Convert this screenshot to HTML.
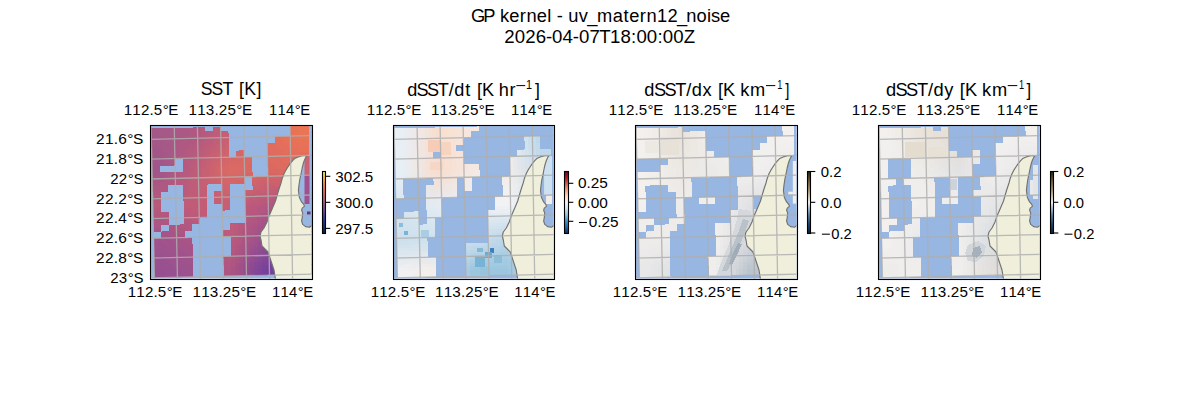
<!DOCTYPE html><html><head><meta charset="utf-8"><style>html,body{margin:0;padding:0;background:#fff;}svg{display:block;}text{font-family:"Liberation Sans",sans-serif;font-kerning:none;}</style></head><body>
<svg width="1200" height="400" viewBox="0 0 1200 400" shape-rendering="auto">
<rect width="1200" height="400" fill="#fff"/>
<text transform="scale(1.0369,1)" x="454.14 466.12 476.90 482.10 491.14 501.30 507.67 517.63 527.71 531.97 536.90 542.80 547.94 558.22 566.44 575.76 590.86 601.34 606.92 617.08 623.45 633.59 643.74 652.81 661.86 671.80 681.85 685.77 694.34" y="21.90" font-size="17.66" fill="#000">GP kernel - uv_matern12_noise</text>
<text transform="scale(1.0559,1)" x="477.63 487.54 497.45 507.36 517.09 522.89 532.80 542.53 548.33 558.24 567.46 577.66 587.57 597.60 602.73 612.63 622.67 627.79 637.70 647.51" y="42.90" font-size="17.66" fill="#000">2026-04-07T18:00:00Z</text>
<defs>
<clipPath id="clipm"><rect x="0.5" y="0.5" width="161.0" height="153.0"/></clipPath>
</defs>
<g transform="translate(150,125) scale(1.00000,1)"><g clip-path="url(#clipm)">
<rect x="0" y="0" width="162.0" height="154.0" fill="#97b6e1"/>
<g shape-rendering="crispEdges" transform="matrix(3.85000,-0.09067,0.07417,3.29833,0.8750,-5.4200)">
<rect x="0" y="2.7" width="2.08" height="0.38" fill="#a45888"/>
<rect x="2" y="2.7" width="2.08" height="0.38" fill="#a65886"/>
<rect x="4" y="2.7" width="2.08" height="0.38" fill="#a85886"/>
<rect x="6" y="2.7" width="2.08" height="0.38" fill="#aa5884"/>
<rect x="8" y="2.7" width="2.08" height="0.38" fill="#ac5884"/>
<rect x="10" y="2.7" width="1.08" height="0.38" fill="#ae5882"/>
<rect x="11" y="2.7" width="1.08" height="0.38" fill="#b05882"/>
<rect x="12" y="2.7" width="1.08" height="0.38" fill="#b25880"/>
<rect x="13" y="2.7" width="1.08" height="0.38" fill="#b45a7e"/>
<rect x="16" y="2.7" width="1.08" height="0.38" fill="#be5c7a"/>
<rect x="17" y="2.7" width="1.08" height="0.38" fill="#c05c78"/>
<rect x="36" y="2.7" width="2.08" height="0.38" fill="#e87256"/>
<rect x="38" y="2.7" width="4.08" height="0.38" fill="#ea7454"/>
<rect x="0" y="3" width="2.08" height="1.08" fill="#a45888"/>
<rect x="2" y="3" width="2.08" height="1.08" fill="#a65886"/>
<rect x="4" y="3" width="2.08" height="1.08" fill="#a85886"/>
<rect x="6" y="3" width="2.08" height="1.08" fill="#aa5884"/>
<rect x="8" y="3" width="2.08" height="1.08" fill="#ac5884"/>
<rect x="10" y="3" width="1.08" height="1.08" fill="#ae5882"/>
<rect x="11" y="3" width="1.08" height="1.08" fill="#b05882"/>
<rect x="12" y="3" width="1.08" height="1.08" fill="#b25880"/>
<rect x="13" y="3" width="1.08" height="1.08" fill="#b45a7e"/>
<rect x="16" y="3" width="1.08" height="1.08" fill="#be5c7a"/>
<rect x="17" y="3" width="1.08" height="1.08" fill="#c05c78"/>
<rect x="36" y="3" width="2.08" height="1.08" fill="#e87256"/>
<rect x="38" y="3" width="4.08" height="1.08" fill="#ea7454"/>
<rect x="0" y="4" width="2.08" height="1.08" fill="#a45888"/>
<rect x="2" y="4" width="2.08" height="1.08" fill="#a65886"/>
<rect x="4" y="4" width="2.08" height="1.08" fill="#a85886"/>
<rect x="6" y="4" width="2.08" height="1.08" fill="#aa5884"/>
<rect x="8" y="4" width="2.08" height="1.08" fill="#ac5884"/>
<rect x="10" y="4" width="1.08" height="1.08" fill="#ae5882"/>
<rect x="11" y="4" width="1.08" height="1.08" fill="#b05882"/>
<rect x="12" y="4" width="1.08" height="1.08" fill="#b25880"/>
<rect x="13" y="4" width="1.08" height="1.08" fill="#b45a7e"/>
<rect x="14" y="4" width="1.08" height="1.08" fill="#b85a7c"/>
<rect x="15" y="4" width="1.08" height="1.08" fill="#ba5c7c"/>
<rect x="16" y="4" width="1.08" height="1.08" fill="#be5c7a"/>
<rect x="17" y="4" width="1.08" height="1.08" fill="#c05c78"/>
<rect x="18" y="4" width="1.08" height="1.08" fill="#c25e76"/>
<rect x="19" y="4" width="1.08" height="1.08" fill="#c65e74"/>
<rect x="36" y="4" width="2.08" height="1.08" fill="#e87256"/>
<rect x="38" y="4" width="4.08" height="1.08" fill="#ea7454"/>
<rect x="0" y="5" width="3.08" height="1.08" fill="#a45888"/>
<rect x="3" y="5" width="1.08" height="1.08" fill="#a65886"/>
<rect x="4" y="5" width="2.08" height="1.08" fill="#a85886"/>
<rect x="6" y="5" width="1.08" height="1.08" fill="#aa5884"/>
<rect x="7" y="5" width="2.08" height="1.08" fill="#ac5884"/>
<rect x="9" y="5" width="2.08" height="1.08" fill="#ae5882"/>
<rect x="11" y="5" width="1.08" height="1.08" fill="#b05882"/>
<rect x="12" y="5" width="1.08" height="1.08" fill="#b25a80"/>
<rect x="13" y="5" width="1.08" height="1.08" fill="#b65a7e"/>
<rect x="14" y="5" width="1.08" height="1.08" fill="#b85a7c"/>
<rect x="15" y="5" width="1.08" height="1.08" fill="#bc5c7a"/>
<rect x="16" y="5" width="1.08" height="1.08" fill="#be5c7a"/>
<rect x="17" y="5" width="1.08" height="1.08" fill="#c05e78"/>
<rect x="18" y="5" width="1.08" height="1.08" fill="#c45e76"/>
<rect x="19" y="5" width="1.08" height="1.08" fill="#c65e74"/>
<rect x="36" y="5" width="1.08" height="1.08" fill="#e87256"/>
<rect x="37" y="5" width="1.08" height="1.08" fill="#e87456"/>
<rect x="38" y="5" width="4.08" height="1.08" fill="#ea7454"/>
<rect x="0" y="6" width="3.08" height="1.08" fill="#a45888"/>
<rect x="3" y="6" width="1.08" height="1.08" fill="#a65886"/>
<rect x="4" y="6" width="2.08" height="1.08" fill="#a85886"/>
<rect x="6" y="6" width="1.08" height="1.08" fill="#aa5884"/>
<rect x="7" y="6" width="1.08" height="1.08" fill="#ac5884"/>
<rect x="8" y="6" width="2.08" height="1.08" fill="#ae5882"/>
<rect x="10" y="6" width="1.08" height="1.08" fill="#b05882"/>
<rect x="11" y="6" width="1.08" height="1.08" fill="#b25880"/>
<rect x="12" y="6" width="1.08" height="1.08" fill="#b45a7e"/>
<rect x="13" y="6" width="1.08" height="1.08" fill="#b85a7e"/>
<rect x="14" y="6" width="1.08" height="1.08" fill="#ba5c7c"/>
<rect x="15" y="6" width="1.08" height="1.08" fill="#bc5c7a"/>
<rect x="16" y="6" width="1.08" height="1.08" fill="#c05e78"/>
<rect x="17" y="6" width="1.08" height="1.08" fill="#c25e76"/>
<rect x="18" y="6" width="1.08" height="1.08" fill="#c65e74"/>
<rect x="19" y="6" width="1.08" height="1.08" fill="#c86072"/>
<rect x="32" y="6" width="1.08" height="1.08" fill="#e46e5c"/>
<rect x="33" y="6" width="1.08" height="1.08" fill="#e46e5a"/>
<rect x="34" y="6" width="1.08" height="1.08" fill="#e6705a"/>
<rect x="35" y="6" width="1.08" height="1.08" fill="#e67058"/>
<rect x="36" y="6" width="1.08" height="1.08" fill="#e87258"/>
<rect x="37" y="6" width="1.08" height="1.08" fill="#e87256"/>
<rect x="38" y="6" width="4.08" height="1.08" fill="#ea7454"/>
<rect x="0" y="7" width="3.08" height="1.08" fill="#a45888"/>
<rect x="3" y="7" width="1.08" height="1.08" fill="#a65886"/>
<rect x="4" y="7" width="1.08" height="1.08" fill="#a85886"/>
<rect x="5" y="7" width="2.08" height="1.08" fill="#aa5884"/>
<rect x="7" y="7" width="1.08" height="1.08" fill="#ac5884"/>
<rect x="8" y="7" width="1.08" height="1.08" fill="#ae5882"/>
<rect x="9" y="7" width="1.08" height="1.08" fill="#b05882"/>
<rect x="10" y="7" width="1.08" height="1.08" fill="#b25880"/>
<rect x="11" y="7" width="1.08" height="1.08" fill="#b45a80"/>
<rect x="12" y="7" width="1.08" height="1.08" fill="#b65a7e"/>
<rect x="13" y="7" width="1.08" height="1.08" fill="#b85a7c"/>
<rect x="14" y="7" width="1.08" height="1.08" fill="#bc5c7a"/>
<rect x="15" y="7" width="1.08" height="1.08" fill="#be5c78"/>
<rect x="16" y="7" width="1.08" height="1.08" fill="#c25e76"/>
<rect x="17" y="7" width="1.08" height="1.08" fill="#c45e74"/>
<rect x="18" y="7" width="1.08" height="1.08" fill="#c66072"/>
<rect x="19" y="7" width="1.08" height="1.08" fill="#ca6072"/>
<rect x="32" y="7" width="1.08" height="1.08" fill="#e26e5c"/>
<rect x="33" y="7" width="1.08" height="1.08" fill="#e46e5c"/>
<rect x="34" y="7" width="1.08" height="1.08" fill="#e4705a"/>
<rect x="35" y="7" width="1.08" height="1.08" fill="#e6705a"/>
<rect x="36" y="7" width="1.08" height="1.08" fill="#e67058"/>
<rect x="37" y="7" width="5.08" height="1.08" fill="#e87256"/>
<rect x="0" y="8" width="2.08" height="1.08" fill="#a45688"/>
<rect x="2" y="8" width="1.08" height="1.08" fill="#a45888"/>
<rect x="3" y="8" width="1.08" height="1.08" fill="#a65886"/>
<rect x="4" y="8" width="1.08" height="1.08" fill="#a85886"/>
<rect x="5" y="8" width="1.08" height="1.08" fill="#aa5884"/>
<rect x="6" y="8" width="1.08" height="1.08" fill="#ac5884"/>
<rect x="7" y="8" width="2.08" height="1.08" fill="#ae5882"/>
<rect x="9" y="8" width="1.08" height="1.08" fill="#b05882"/>
<rect x="10" y="8" width="1.08" height="1.08" fill="#b25a80"/>
<rect x="11" y="8" width="1.08" height="1.08" fill="#b45a7e"/>
<rect x="12" y="8" width="1.08" height="1.08" fill="#b85a7e"/>
<rect x="13" y="8" width="1.08" height="1.08" fill="#ba5c7c"/>
<rect x="14" y="8" width="1.08" height="1.08" fill="#be5c7a"/>
<rect x="15" y="8" width="1.08" height="1.08" fill="#c05e78"/>
<rect x="16" y="8" width="1.08" height="1.08" fill="#c25e76"/>
<rect x="17" y="8" width="1.08" height="1.08" fill="#c66074"/>
<rect x="18" y="8" width="1.08" height="1.08" fill="#c86072"/>
<rect x="19" y="8" width="1.08" height="1.08" fill="#cc6270"/>
<rect x="30" y="8" width="2.08" height="1.08" fill="#e06c5e"/>
<rect x="32" y="8" width="2.08" height="1.08" fill="#e26e5c"/>
<rect x="34" y="8" width="1.08" height="1.08" fill="#e46e5a"/>
<rect x="35" y="8" width="1.08" height="1.08" fill="#e4705a"/>
<rect x="36" y="8" width="2.08" height="1.08" fill="#e67058"/>
<rect x="38" y="8" width="4.08" height="1.08" fill="#e87256"/>
<rect x="0" y="9" width="2.08" height="1.08" fill="#a25688"/>
<rect x="2" y="9" width="1.08" height="1.08" fill="#a45688"/>
<rect x="3" y="9" width="1.08" height="1.08" fill="#a65886"/>
<rect x="4" y="9" width="1.08" height="1.08" fill="#a85886"/>
<rect x="5" y="9" width="1.08" height="1.08" fill="#aa5884"/>
<rect x="6" y="9" width="1.08" height="1.08" fill="#ac5884"/>
<rect x="7" y="9" width="1.08" height="1.08" fill="#ae5882"/>
<rect x="8" y="9" width="1.08" height="1.08" fill="#b05882"/>
<rect x="9" y="9" width="1.08" height="1.08" fill="#b25a80"/>
<rect x="10" y="9" width="1.08" height="1.08" fill="#b45a80"/>
<rect x="11" y="9" width="1.08" height="1.08" fill="#b65a7e"/>
<rect x="12" y="9" width="1.08" height="1.08" fill="#b85c7c"/>
<rect x="13" y="9" width="1.08" height="1.08" fill="#bc5c7a"/>
<rect x="14" y="9" width="1.08" height="1.08" fill="#be5e78"/>
<rect x="15" y="9" width="1.08" height="1.08" fill="#c25e76"/>
<rect x="16" y="9" width="1.08" height="1.08" fill="#c46074"/>
<rect x="17" y="9" width="1.08" height="1.08" fill="#c86072"/>
<rect x="18" y="9" width="1.08" height="1.08" fill="#ca6270"/>
<rect x="19" y="9" width="1.08" height="1.08" fill="#ce626e"/>
<rect x="30" y="9" width="1.08" height="1.08" fill="#e06c60"/>
<rect x="31" y="9" width="1.08" height="1.08" fill="#e06c5e"/>
<rect x="32" y="9" width="1.08" height="1.08" fill="#e26c5e"/>
<rect x="33" y="9" width="2.08" height="1.08" fill="#e26e5c"/>
<rect x="35" y="9" width="1.08" height="1.08" fill="#e46e5a"/>
<rect x="36" y="9" width="1.08" height="1.08" fill="#e4705a"/>
<rect x="37" y="9" width="5.08" height="1.08" fill="#e67058"/>
<rect x="0" y="10" width="2.08" height="1.08" fill="#a25688"/>
<rect x="2" y="10" width="1.08" height="1.08" fill="#a45688"/>
<rect x="3" y="10" width="1.08" height="1.08" fill="#a65688"/>
<rect x="4" y="10" width="1.08" height="1.08" fill="#a85886"/>
<rect x="5" y="10" width="1.08" height="1.08" fill="#aa5884"/>
<rect x="6" y="10" width="1.08" height="1.08" fill="#ac5884"/>
<rect x="7" y="10" width="1.08" height="1.08" fill="#ae5882"/>
<rect x="8" y="10" width="1.08" height="1.08" fill="#b05882"/>
<rect x="9" y="10" width="1.08" height="1.08" fill="#b25a80"/>
<rect x="10" y="10" width="1.08" height="1.08" fill="#b65a7e"/>
<rect x="11" y="10" width="1.08" height="1.08" fill="#b85a7e"/>
<rect x="12" y="10" width="1.08" height="1.08" fill="#ba5c7c"/>
<rect x="13" y="10" width="1.08" height="1.08" fill="#be5c7a"/>
<rect x="14" y="10" width="1.08" height="1.08" fill="#c05e76"/>
<rect x="15" y="10" width="1.08" height="1.08" fill="#c45e74"/>
<rect x="16" y="10" width="1.08" height="1.08" fill="#c66072"/>
<rect x="17" y="10" width="1.08" height="1.08" fill="#ca6270"/>
<rect x="18" y="10" width="1.08" height="1.08" fill="#cc626e"/>
<rect x="19" y="10" width="1.08" height="1.08" fill="#d0646c"/>
<rect x="22" y="10" width="1.08" height="1.08" fill="#d46668"/>
<rect x="23" y="10" width="1.08" height="1.08" fill="#d66668"/>
<rect x="30" y="10" width="1.08" height="1.08" fill="#de6a60"/>
<rect x="31" y="10" width="2.08" height="1.08" fill="#e06c5e"/>
<rect x="33" y="10" width="1.08" height="1.08" fill="#e26c5c"/>
<rect x="34" y="10" width="2.08" height="1.08" fill="#e26e5c"/>
<rect x="36" y="10" width="2.08" height="1.08" fill="#e46e5a"/>
<rect x="38" y="10" width="4.08" height="1.08" fill="#e67058"/>
<rect x="0" y="11" width="3.08" height="1.08" fill="#a25688"/>
<rect x="3" y="11" width="1.08" height="1.08" fill="#a65688"/>
<rect x="4" y="11" width="1.08" height="1.08" fill="#a85886"/>
<rect x="5" y="11" width="1.08" height="1.08" fill="#aa5884"/>
<rect x="6" y="11" width="1.08" height="1.08" fill="#ac5884"/>
<rect x="7" y="11" width="1.08" height="1.08" fill="#b05882"/>
<rect x="8" y="11" width="1.08" height="1.08" fill="#b25a80"/>
<rect x="9" y="11" width="1.08" height="1.08" fill="#b45a80"/>
<rect x="10" y="11" width="1.08" height="1.08" fill="#b65a7e"/>
<rect x="11" y="11" width="1.08" height="1.08" fill="#ba5a7c"/>
<rect x="12" y="11" width="1.08" height="1.08" fill="#bc5c7a"/>
<rect x="13" y="11" width="1.08" height="1.08" fill="#c05e78"/>
<rect x="14" y="11" width="1.08" height="1.08" fill="#c25e76"/>
<rect x="15" y="11" width="1.08" height="1.08" fill="#c66074"/>
<rect x="16" y="11" width="1.08" height="1.08" fill="#c86072"/>
<rect x="17" y="11" width="1.08" height="1.08" fill="#cc6270"/>
<rect x="18" y="11" width="1.08" height="1.08" fill="#ce646c"/>
<rect x="19" y="11" width="1.08" height="1.08" fill="#d2646a"/>
<rect x="22" y="11" width="1.08" height="1.08" fill="#d66668"/>
<rect x="23" y="11" width="1.08" height="1.08" fill="#d66666"/>
<rect x="30" y="11" width="2.08" height="1.08" fill="#de6a60"/>
<rect x="32" y="11" width="2.08" height="1.08" fill="#e06c5e"/>
<rect x="34" y="11" width="2.08" height="1.08" fill="#e26c5c"/>
<rect x="36" y="11" width="1.08" height="1.08" fill="#e26e5c"/>
<rect x="37" y="11" width="5.08" height="1.08" fill="#e46e5a"/>
<rect x="0" y="12" width="2.08" height="1.08" fill="#a2568a"/>
<rect x="2" y="12" width="1.08" height="1.08" fill="#a25688"/>
<rect x="3" y="12" width="1.08" height="1.08" fill="#a65688"/>
<rect x="4" y="12" width="1.08" height="1.08" fill="#a85886"/>
<rect x="5" y="12" width="1.08" height="1.08" fill="#aa5884"/>
<rect x="8" y="12" width="1.08" height="1.08" fill="#b25a80"/>
<rect x="9" y="12" width="1.08" height="1.08" fill="#b65a7e"/>
<rect x="10" y="12" width="1.08" height="1.08" fill="#b85a7e"/>
<rect x="11" y="12" width="1.08" height="1.08" fill="#ba5c7c"/>
<rect x="12" y="12" width="1.08" height="1.08" fill="#be5c7a"/>
<rect x="13" y="12" width="1.08" height="1.08" fill="#c05e78"/>
<rect x="14" y="12" width="1.08" height="1.08" fill="#c46074"/>
<rect x="15" y="12" width="1.08" height="1.08" fill="#c66072"/>
<rect x="16" y="12" width="1.08" height="1.08" fill="#ca6270"/>
<rect x="17" y="12" width="1.08" height="1.08" fill="#ce626e"/>
<rect x="18" y="12" width="1.08" height="1.08" fill="#d0646c"/>
<rect x="19" y="12" width="1.08" height="1.08" fill="#d4666a"/>
<rect x="20" y="12" width="1.08" height="1.08" fill="#d66668"/>
<rect x="21" y="12" width="1.08" height="1.08" fill="#d66666"/>
<rect x="22" y="12" width="2.08" height="1.08" fill="#d86866"/>
<rect x="24" y="12" width="1.08" height="1.08" fill="#d86864"/>
<rect x="25" y="12" width="1.08" height="1.08" fill="#da6864"/>
<rect x="30" y="12" width="2.08" height="1.08" fill="#de6a60"/>
<rect x="32" y="12" width="1.08" height="1.08" fill="#de6a5e"/>
<rect x="33" y="12" width="2.08" height="1.08" fill="#e06c5e"/>
<rect x="35" y="12" width="2.08" height="1.08" fill="#e26c5c"/>
<rect x="37" y="12" width="1.08" height="1.08" fill="#e26e5c"/>
<rect x="38" y="12" width="4.08" height="1.08" fill="#e46e5a"/>
<rect x="0" y="13" width="2.08" height="1.08" fill="#a0568a"/>
<rect x="2" y="13" width="1.08" height="1.08" fill="#a25688"/>
<rect x="3" y="13" width="1.08" height="1.08" fill="#a45688"/>
<rect x="4" y="13" width="1.08" height="1.08" fill="#a85886"/>
<rect x="5" y="13" width="1.08" height="1.08" fill="#aa5884"/>
<rect x="8" y="13" width="1.08" height="1.08" fill="#b45a80"/>
<rect x="9" y="13" width="1.08" height="1.08" fill="#b65a7e"/>
<rect x="10" y="13" width="1.08" height="1.08" fill="#ba5a7c"/>
<rect x="11" y="13" width="1.08" height="1.08" fill="#bc5c7a"/>
<rect x="12" y="13" width="1.08" height="1.08" fill="#c05c78"/>
<rect x="13" y="13" width="1.08" height="1.08" fill="#c25e76"/>
<rect x="14" y="13" width="1.08" height="1.08" fill="#c66074"/>
<rect x="15" y="13" width="1.08" height="1.08" fill="#c86272"/>
<rect x="16" y="13" width="1.08" height="1.08" fill="#cc626e"/>
<rect x="17" y="13" width="1.08" height="1.08" fill="#ce646c"/>
<rect x="18" y="13" width="1.08" height="1.08" fill="#d2666a"/>
<rect x="19" y="13" width="1.08" height="1.08" fill="#d66668"/>
<rect x="20" y="13" width="2.08" height="1.08" fill="#d86866"/>
<rect x="22" y="13" width="2.08" height="1.08" fill="#d86864"/>
<rect x="24" y="13" width="2.08" height="1.08" fill="#da6864"/>
<rect x="30" y="13" width="1.08" height="1.08" fill="#dc6a60"/>
<rect x="31" y="13" width="2.08" height="1.08" fill="#de6a60"/>
<rect x="33" y="13" width="1.08" height="1.08" fill="#de6a5e"/>
<rect x="34" y="13" width="2.08" height="1.08" fill="#e06c5e"/>
<rect x="36" y="13" width="6.08" height="1.08" fill="#e26c5c"/>
<rect x="0" y="14" width="2.08" height="1.08" fill="#a0568a"/>
<rect x="8" y="14" width="1.08" height="1.08" fill="#b45a80"/>
<rect x="9" y="14" width="1.08" height="1.08" fill="#b85a7e"/>
<rect x="10" y="14" width="1.08" height="1.08" fill="#ba5c7c"/>
<rect x="11" y="14" width="1.08" height="1.08" fill="#be5c7a"/>
<rect x="12" y="14" width="1.08" height="1.08" fill="#c05e78"/>
<rect x="13" y="14" width="1.08" height="1.08" fill="#c45e76"/>
<rect x="14" y="14" width="1.08" height="1.08" fill="#c86072"/>
<rect x="15" y="14" width="1.08" height="1.08" fill="#ca6270"/>
<rect x="16" y="14" width="1.08" height="1.08" fill="#ce646e"/>
<rect x="17" y="14" width="1.08" height="1.08" fill="#d0646c"/>
<rect x="18" y="14" width="1.08" height="1.08" fill="#d46668"/>
<rect x="19" y="14" width="1.08" height="1.08" fill="#d86866"/>
<rect x="20" y="14" width="5.08" height="1.08" fill="#da6864"/>
<rect x="25" y="14" width="1.08" height="1.08" fill="#da6862"/>
<rect x="30" y="14" width="1.08" height="1.08" fill="#dc6860"/>
<rect x="31" y="14" width="1.08" height="1.08" fill="#dc6a60"/>
<rect x="32" y="14" width="2.08" height="1.08" fill="#de6a60"/>
<rect x="34" y="14" width="1.08" height="1.08" fill="#de6a5e"/>
<rect x="35" y="14" width="1.08" height="1.08" fill="#e06a5e"/>
<rect x="36" y="14" width="1.08" height="1.08" fill="#e06c5e"/>
<rect x="37" y="14" width="5.08" height="1.08" fill="#e26c5c"/>
<rect x="0" y="15" width="2.08" height="1.08" fill="#a0568a"/>
<rect x="8" y="15" width="1.08" height="1.08" fill="#b65a7e"/>
<rect x="9" y="15" width="1.08" height="1.08" fill="#b85a7c"/>
<rect x="10" y="15" width="1.08" height="1.08" fill="#bc5c7c"/>
<rect x="11" y="15" width="1.08" height="1.08" fill="#be5c7a"/>
<rect x="12" y="15" width="1.08" height="1.08" fill="#c25e76"/>
<rect x="13" y="15" width="1.08" height="1.08" fill="#c66074"/>
<rect x="14" y="15" width="1.08" height="1.08" fill="#c86272"/>
<rect x="15" y="15" width="1.08" height="1.08" fill="#cc626e"/>
<rect x="16" y="15" width="1.08" height="1.08" fill="#d0646c"/>
<rect x="17" y="15" width="1.08" height="1.08" fill="#d2666a"/>
<rect x="18" y="15" width="1.08" height="1.08" fill="#d66868"/>
<rect x="19" y="15" width="1.08" height="1.08" fill="#d86864"/>
<rect x="20" y="15" width="2.08" height="1.08" fill="#dc6a62"/>
<rect x="22" y="15" width="2.08" height="1.08" fill="#da6a62"/>
<rect x="24" y="15" width="2.08" height="1.08" fill="#da6862"/>
<rect x="30" y="15" width="1.08" height="1.08" fill="#dc6862"/>
<rect x="31" y="15" width="1.08" height="1.08" fill="#dc6860"/>
<rect x="32" y="15" width="1.08" height="1.08" fill="#dc6a60"/>
<rect x="33" y="15" width="2.08" height="1.08" fill="#de6a60"/>
<rect x="35" y="15" width="1.08" height="1.08" fill="#de6a5e"/>
<rect x="36" y="15" width="6.08" height="1.08" fill="#e06a5e"/>
<rect x="0" y="16" width="2.08" height="1.08" fill="#a25688"/>
<rect x="2" y="16" width="1.08" height="1.08" fill="#a45688"/>
<rect x="3" y="16" width="1.08" height="1.08" fill="#a85686"/>
<rect x="4" y="16" width="1.08" height="1.08" fill="#aa5884"/>
<rect x="5" y="16" width="1.08" height="1.08" fill="#ae5882"/>
<rect x="6" y="16" width="1.08" height="1.08" fill="#b05882"/>
<rect x="7" y="16" width="1.08" height="1.08" fill="#b45a80"/>
<rect x="8" y="16" width="1.08" height="1.08" fill="#b65a7e"/>
<rect x="9" y="16" width="1.08" height="1.08" fill="#ba5a7c"/>
<rect x="10" y="16" width="1.08" height="1.08" fill="#bc5c7a"/>
<rect x="11" y="16" width="1.08" height="1.08" fill="#c05c78"/>
<rect x="12" y="16" width="1.08" height="1.08" fill="#c25e76"/>
<rect x="13" y="16" width="1.08" height="1.08" fill="#c66074"/>
<rect x="14" y="16" width="1.08" height="1.08" fill="#c86072"/>
<rect x="15" y="16" width="1.08" height="1.08" fill="#cc626e"/>
<rect x="16" y="16" width="1.08" height="1.08" fill="#ce646c"/>
<rect x="17" y="16" width="1.08" height="1.08" fill="#d2666a"/>
<rect x="18" y="16" width="1.08" height="1.08" fill="#d66668"/>
<rect x="19" y="16" width="1.08" height="1.08" fill="#d86864"/>
<rect x="20" y="16" width="1.08" height="1.08" fill="#da6a64"/>
<rect x="21" y="16" width="5.08" height="1.08" fill="#da6864"/>
<rect x="30" y="16" width="3.08" height="1.08" fill="#da6862"/>
<rect x="33" y="16" width="1.08" height="1.08" fill="#dc6862"/>
<rect x="34" y="16" width="2.08" height="1.08" fill="#dc6860"/>
<rect x="36" y="16" width="2.08" height="1.08" fill="#de6a60"/>
<rect x="38" y="16" width="4.08" height="1.08" fill="#e06a5e"/>
<rect x="0" y="17" width="3.08" height="1.08" fill="#a65686"/>
<rect x="3" y="17" width="1.08" height="1.08" fill="#aa5684"/>
<rect x="4" y="17" width="1.08" height="1.08" fill="#ac5884"/>
<rect x="5" y="17" width="1.08" height="1.08" fill="#ae5882"/>
<rect x="6" y="17" width="1.08" height="1.08" fill="#b25880"/>
<rect x="7" y="17" width="1.08" height="1.08" fill="#b45a7e"/>
<rect x="8" y="17" width="1.08" height="1.08" fill="#b85a7e"/>
<rect x="9" y="17" width="1.08" height="1.08" fill="#ba5a7c"/>
<rect x="10" y="17" width="1.08" height="1.08" fill="#be5c7a"/>
<rect x="11" y="17" width="1.08" height="1.08" fill="#c05c78"/>
<rect x="12" y="17" width="1.08" height="1.08" fill="#c25e76"/>
<rect x="13" y="17" width="1.08" height="1.08" fill="#c66074"/>
<rect x="14" y="17" width="1.08" height="1.08" fill="#c86072"/>
<rect x="15" y="17" width="1.08" height="1.08" fill="#cc6270"/>
<rect x="16" y="17" width="1.08" height="1.08" fill="#ce646e"/>
<rect x="17" y="17" width="1.08" height="1.08" fill="#d0646c"/>
<rect x="18" y="17" width="1.08" height="1.08" fill="#d46668"/>
<rect x="19" y="17" width="1.08" height="1.08" fill="#d66866"/>
<rect x="20" y="17" width="1.08" height="1.08" fill="#d86864"/>
<rect x="21" y="17" width="3.08" height="1.08" fill="#d86866"/>
<rect x="24" y="17" width="2.08" height="1.08" fill="#d66666"/>
<rect x="30" y="17" width="3.08" height="1.08" fill="#d66666"/>
<rect x="33" y="17" width="4.08" height="1.08" fill="#d86664"/>
<rect x="37" y="17" width="1.08" height="1.08" fill="#da6664"/>
<rect x="38" y="17" width="1.08" height="1.08" fill="#da6864"/>
<rect x="39" y="17" width="3.08" height="1.08" fill="#da6862"/>
<rect x="0" y="18" width="2.08" height="1.08" fill="#a85686"/>
<rect x="2" y="18" width="1.08" height="1.08" fill="#a85684"/>
<rect x="3" y="18" width="1.08" height="1.08" fill="#ac5884"/>
<rect x="4" y="18" width="1.08" height="1.08" fill="#ae5882"/>
<rect x="5" y="18" width="1.08" height="1.08" fill="#b05880"/>
<rect x="6" y="18" width="1.08" height="1.08" fill="#b45a80"/>
<rect x="7" y="18" width="1.08" height="1.08" fill="#b65a7e"/>
<rect x="8" y="18" width="1.08" height="1.08" fill="#b85a7c"/>
<rect x="9" y="18" width="1.08" height="1.08" fill="#bc5c7c"/>
<rect x="10" y="18" width="1.08" height="1.08" fill="#be5c7a"/>
<rect x="11" y="18" width="1.08" height="1.08" fill="#c05c78"/>
<rect x="12" y="18" width="1.08" height="1.08" fill="#c25e76"/>
<rect x="13" y="18" width="1.08" height="1.08" fill="#c65e74"/>
<rect x="14" y="18" width="1.08" height="1.08" fill="#c86072"/>
<rect x="15" y="18" width="1.08" height="1.08" fill="#ca6270"/>
<rect x="16" y="18" width="1.08" height="1.08" fill="#cc626e"/>
<rect x="17" y="18" width="1.08" height="1.08" fill="#d0646c"/>
<rect x="18" y="18" width="1.08" height="1.08" fill="#d2646a"/>
<rect x="19" y="18" width="1.08" height="1.08" fill="#d46668"/>
<rect x="20" y="18" width="2.08" height="1.08" fill="#d66666"/>
<rect x="22" y="18" width="1.08" height="1.08" fill="#d66668"/>
<rect x="23" y="18" width="1.08" height="1.08" fill="#d46668"/>
<rect x="26" y="18" width="1.08" height="1.08" fill="#d46468"/>
<rect x="27" y="18" width="8.08" height="1.08" fill="#d26468"/>
<rect x="35" y="18" width="6.08" height="1.08" fill="#d46468"/>
<rect x="41" y="18" width="1.08" height="1.08" fill="#d46466"/>
<rect x="0" y="19" width="2.08" height="1.08" fill="#aa5684"/>
<rect x="2" y="19" width="1.08" height="1.08" fill="#aa5884"/>
<rect x="3" y="19" width="1.08" height="1.08" fill="#ae5882"/>
<rect x="4" y="19" width="1.08" height="1.08" fill="#b05880"/>
<rect x="5" y="19" width="1.08" height="1.08" fill="#b25880"/>
<rect x="6" y="19" width="1.08" height="1.08" fill="#b45a7e"/>
<rect x="7" y="19" width="1.08" height="1.08" fill="#b85a7e"/>
<rect x="8" y="19" width="1.08" height="1.08" fill="#ba5a7c"/>
<rect x="9" y="19" width="1.08" height="1.08" fill="#bc5c7a"/>
<rect x="10" y="19" width="1.08" height="1.08" fill="#be5c7a"/>
<rect x="11" y="19" width="1.08" height="1.08" fill="#c05c78"/>
<rect x="12" y="19" width="1.08" height="1.08" fill="#c25e76"/>
<rect x="13" y="19" width="1.08" height="1.08" fill="#c65e74"/>
<rect x="14" y="19" width="1.08" height="1.08" fill="#c86072"/>
<rect x="15" y="19" width="1.08" height="1.08" fill="#ca6070"/>
<rect x="16" y="19" width="1.08" height="1.08" fill="#cc626e"/>
<rect x="17" y="19" width="1.08" height="1.08" fill="#ce626e"/>
<rect x="18" y="19" width="1.08" height="1.08" fill="#d0646c"/>
<rect x="19" y="19" width="1.08" height="1.08" fill="#d2666a"/>
<rect x="20" y="19" width="2.08" height="1.08" fill="#d46668"/>
<rect x="22" y="19" width="2.08" height="1.08" fill="#d2646a"/>
<rect x="26" y="19" width="1.08" height="1.08" fill="#d0646a"/>
<rect x="27" y="19" width="1.08" height="1.08" fill="#d0626c"/>
<rect x="28" y="19" width="14.08" height="1.08" fill="#ce626c"/>
<rect x="0" y="20" width="2.08" height="1.08" fill="#ac5882"/>
<rect x="2" y="20" width="1.08" height="1.08" fill="#ae5882"/>
<rect x="3" y="20" width="1.08" height="1.08" fill="#b05880"/>
<rect x="8" y="20" width="1.08" height="1.08" fill="#ba5a7c"/>
<rect x="9" y="20" width="1.08" height="1.08" fill="#bc5c7a"/>
<rect x="10" y="20" width="1.08" height="1.08" fill="#c05c78"/>
<rect x="11" y="20" width="1.08" height="1.08" fill="#c25c78"/>
<rect x="12" y="20" width="1.08" height="1.08" fill="#c45e76"/>
<rect x="13" y="20" width="1.08" height="1.08" fill="#c65e74"/>
<rect x="18" y="20" width="1.08" height="1.08" fill="#ce646c"/>
<rect x="19" y="20" width="1.08" height="1.08" fill="#d0646a"/>
<rect x="26" y="20" width="1.08" height="1.08" fill="#ce626e"/>
<rect x="27" y="20" width="1.08" height="1.08" fill="#cc626e"/>
<rect x="28" y="20" width="1.08" height="1.08" fill="#cc606e"/>
<rect x="29" y="20" width="3.08" height="1.08" fill="#ca606e"/>
<rect x="32" y="20" width="6.08" height="1.08" fill="#ca6070"/>
<rect x="38" y="20" width="1.08" height="1.08" fill="#c86070"/>
<rect x="39" y="20" width="3.08" height="1.08" fill="#ca6070"/>
<rect x="0" y="21" width="2.08" height="1.08" fill="#ae5880"/>
<rect x="2" y="21" width="1.08" height="1.08" fill="#b05880"/>
<rect x="3" y="21" width="1.08" height="1.08" fill="#b25880"/>
<rect x="8" y="21" width="1.08" height="1.08" fill="#bc5a7a"/>
<rect x="9" y="21" width="1.08" height="1.08" fill="#be5c7a"/>
<rect x="10" y="21" width="1.08" height="1.08" fill="#c05c78"/>
<rect x="11" y="21" width="1.08" height="1.08" fill="#c25c78"/>
<rect x="12" y="21" width="1.08" height="1.08" fill="#c45e76"/>
<rect x="13" y="21" width="1.08" height="1.08" fill="#c45e74"/>
<rect x="18" y="21" width="1.08" height="1.08" fill="#ce626e"/>
<rect x="19" y="21" width="1.08" height="1.08" fill="#d0646c"/>
<rect x="26" y="21" width="2.08" height="1.08" fill="#ca6070"/>
<rect x="28" y="21" width="1.08" height="1.08" fill="#c86070"/>
<rect x="29" y="21" width="1.08" height="1.08" fill="#c85e72"/>
<rect x="30" y="21" width="4.08" height="1.08" fill="#c65e72"/>
<rect x="34" y="21" width="8.08" height="1.08" fill="#c45e74"/>
<rect x="0" y="22" width="2.08" height="1.08" fill="#b05880"/>
<rect x="8" y="22" width="1.08" height="1.08" fill="#bc5a7a"/>
<rect x="9" y="22" width="1.08" height="1.08" fill="#be5c78"/>
<rect x="10" y="22" width="1.08" height="1.08" fill="#c05c78"/>
<rect x="11" y="22" width="1.08" height="1.08" fill="#c25c76"/>
<rect x="12" y="22" width="1.08" height="1.08" fill="#c45e76"/>
<rect x="13" y="22" width="1.08" height="1.08" fill="#c45e74"/>
<rect x="16" y="22" width="1.08" height="1.08" fill="#c86072"/>
<rect x="17" y="22" width="1.08" height="1.08" fill="#ca6070"/>
<rect x="18" y="22" width="1.08" height="1.08" fill="#cc6270"/>
<rect x="19" y="22" width="1.08" height="1.08" fill="#ce626e"/>
<rect x="24" y="22" width="1.08" height="1.08" fill="#ca6070"/>
<rect x="25" y="22" width="1.08" height="1.08" fill="#c86072"/>
<rect x="26" y="22" width="1.08" height="1.08" fill="#c85e72"/>
<rect x="27" y="22" width="1.08" height="1.08" fill="#c65e72"/>
<rect x="28" y="22" width="1.08" height="1.08" fill="#c65e74"/>
<rect x="29" y="22" width="1.08" height="1.08" fill="#c45e74"/>
<rect x="30" y="22" width="1.08" height="1.08" fill="#c45c74"/>
<rect x="31" y="22" width="3.08" height="1.08" fill="#c25c76"/>
<rect x="34" y="22" width="1.08" height="1.08" fill="#c05c76"/>
<rect x="35" y="22" width="1.08" height="1.08" fill="#c05c78"/>
<rect x="36" y="22" width="2.08" height="1.08" fill="#be5c78"/>
<rect x="38" y="22" width="2.08" height="1.08" fill="#be5a78"/>
<rect x="40" y="22" width="2.08" height="1.08" fill="#be5c78"/>
<rect x="0" y="23" width="2.08" height="1.08" fill="#b4587e"/>
<rect x="8" y="23" width="1.08" height="1.08" fill="#be5c78"/>
<rect x="9" y="23" width="2.08" height="1.08" fill="#c05c78"/>
<rect x="11" y="23" width="1.08" height="1.08" fill="#c25c76"/>
<rect x="12" y="23" width="1.08" height="1.08" fill="#c45c76"/>
<rect x="13" y="23" width="1.08" height="1.08" fill="#c45e74"/>
<rect x="16" y="23" width="1.08" height="1.08" fill="#c86072"/>
<rect x="17" y="23" width="1.08" height="1.08" fill="#ca6072"/>
<rect x="18" y="23" width="1.08" height="1.08" fill="#ca6070"/>
<rect x="19" y="23" width="1.08" height="1.08" fill="#cc6070"/>
<rect x="24" y="23" width="1.08" height="1.08" fill="#c65e72"/>
<rect x="25" y="23" width="1.08" height="1.08" fill="#c65e74"/>
<rect x="26" y="23" width="1.08" height="1.08" fill="#c45e74"/>
<rect x="27" y="23" width="2.08" height="1.08" fill="#c25c76"/>
<rect x="29" y="23" width="1.08" height="1.08" fill="#c05c78"/>
<rect x="30" y="23" width="1.08" height="1.08" fill="#c05a78"/>
<rect x="31" y="23" width="1.08" height="1.08" fill="#be5a78"/>
<rect x="32" y="23" width="1.08" height="1.08" fill="#be5a7a"/>
<rect x="33" y="23" width="2.08" height="1.08" fill="#bc5a7a"/>
<rect x="35" y="23" width="2.08" height="1.08" fill="#ba5a7c"/>
<rect x="37" y="23" width="1.08" height="1.08" fill="#b8587c"/>
<rect x="38" y="23" width="1.08" height="1.08" fill="#b8587e"/>
<rect x="39" y="23" width="3.08" height="1.08" fill="#b8587c"/>
<rect x="0" y="24" width="2.08" height="1.08" fill="#b65a7c"/>
<rect x="8" y="24" width="1.08" height="1.08" fill="#be5c78"/>
<rect x="9" y="24" width="1.08" height="1.08" fill="#c05c78"/>
<rect x="10" y="24" width="2.08" height="1.08" fill="#c25c76"/>
<rect x="12" y="24" width="1.08" height="1.08" fill="#c45c76"/>
<rect x="13" y="24" width="1.08" height="1.08" fill="#c45e76"/>
<rect x="16" y="24" width="1.08" height="1.08" fill="#c65e74"/>
<rect x="17" y="24" width="1.08" height="1.08" fill="#c85e72"/>
<rect x="18" y="24" width="1.08" height="1.08" fill="#c86072"/>
<rect x="19" y="24" width="1.08" height="1.08" fill="#ca6072"/>
<rect x="24" y="24" width="1.08" height="1.08" fill="#c45e76"/>
<rect x="25" y="24" width="1.08" height="1.08" fill="#c25c76"/>
<rect x="26" y="24" width="1.08" height="1.08" fill="#c25c78"/>
<rect x="27" y="24" width="1.08" height="1.08" fill="#c05a78"/>
<rect x="28" y="24" width="2.08" height="1.08" fill="#be5a7a"/>
<rect x="30" y="24" width="1.08" height="1.08" fill="#bc5a7a"/>
<rect x="31" y="24" width="2.08" height="1.08" fill="#ba587c"/>
<rect x="33" y="24" width="1.08" height="1.08" fill="#b8587e"/>
<rect x="34" y="24" width="1.08" height="1.08" fill="#b6587e"/>
<rect x="35" y="24" width="1.08" height="1.08" fill="#b65880"/>
<rect x="36" y="24" width="2.08" height="1.08" fill="#b45680"/>
<rect x="38" y="24" width="3.08" height="1.08" fill="#b25682"/>
<rect x="41" y="24" width="1.08" height="1.08" fill="#b45680"/>
<rect x="0" y="25" width="2.08" height="1.08" fill="#b85a7a"/>
<rect x="8" y="25" width="2.08" height="1.08" fill="#c05c78"/>
<rect x="10" y="25" width="2.08" height="1.08" fill="#c25c76"/>
<rect x="12" y="25" width="2.08" height="1.08" fill="#c45c76"/>
<rect x="16" y="25" width="3.08" height="1.08" fill="#c65e74"/>
<rect x="19" y="25" width="1.08" height="1.08" fill="#c85e72"/>
<rect x="24" y="25" width="1.08" height="1.08" fill="#c25c78"/>
<rect x="25" y="25" width="1.08" height="1.08" fill="#c05a78"/>
<rect x="26" y="25" width="1.08" height="1.08" fill="#be5a7a"/>
<rect x="27" y="25" width="1.08" height="1.08" fill="#bc5a7a"/>
<rect x="28" y="25" width="1.08" height="1.08" fill="#bc587c"/>
<rect x="29" y="25" width="1.08" height="1.08" fill="#ba587c"/>
<rect x="30" y="25" width="1.08" height="1.08" fill="#b8587e"/>
<rect x="31" y="25" width="2.08" height="1.08" fill="#b65680"/>
<rect x="33" y="25" width="1.08" height="1.08" fill="#b45682"/>
<rect x="34" y="25" width="1.08" height="1.08" fill="#b25682"/>
<rect x="35" y="25" width="2.08" height="1.08" fill="#b05484"/>
<rect x="37" y="25" width="5.08" height="1.08" fill="#ae5486"/>
<rect x="0" y="26" width="2.08" height="1.08" fill="#b85a7a"/>
<rect x="8" y="26" width="2.08" height="1.08" fill="#c05c78"/>
<rect x="10" y="26" width="2.08" height="1.08" fill="#c25c76"/>
<rect x="12" y="26" width="2.08" height="1.08" fill="#c45c76"/>
<rect x="18" y="26" width="2.08" height="1.08" fill="#c65e74"/>
<rect x="24" y="26" width="1.08" height="1.08" fill="#be5a7a"/>
<rect x="25" y="26" width="1.08" height="1.08" fill="#bc5a7a"/>
<rect x="26" y="26" width="1.08" height="1.08" fill="#bc587c"/>
<rect x="27" y="26" width="1.08" height="1.08" fill="#ba587e"/>
<rect x="28" y="26" width="1.08" height="1.08" fill="#b8567e"/>
<rect x="29" y="26" width="1.08" height="1.08" fill="#b65680"/>
<rect x="30" y="26" width="1.08" height="1.08" fill="#b45682"/>
<rect x="31" y="26" width="1.08" height="1.08" fill="#b25482"/>
<rect x="32" y="26" width="2.08" height="1.08" fill="#b05484"/>
<rect x="34" y="26" width="1.08" height="1.08" fill="#ae5486"/>
<rect x="35" y="26" width="1.08" height="1.08" fill="#ac5286"/>
<rect x="36" y="26" width="1.08" height="1.08" fill="#aa5288"/>
<rect x="37" y="26" width="5.08" height="1.08" fill="#a8528a"/>
<rect x="0" y="27" width="2.08" height="1.08" fill="#b6587c"/>
<rect x="8" y="27" width="1.08" height="1.08" fill="#be5a7a"/>
<rect x="9" y="27" width="1.08" height="1.08" fill="#be5a78"/>
<rect x="10" y="27" width="2.08" height="1.08" fill="#c05c78"/>
<rect x="12" y="27" width="1.08" height="1.08" fill="#c25c78"/>
<rect x="13" y="27" width="1.08" height="1.08" fill="#c25c76"/>
<rect x="18" y="27" width="1.08" height="1.08" fill="#c45e76"/>
<rect x="19" y="27" width="1.08" height="1.08" fill="#c45e74"/>
<rect x="24" y="27" width="1.08" height="1.08" fill="#bc5a7a"/>
<rect x="25" y="27" width="1.08" height="1.08" fill="#ba587c"/>
<rect x="26" y="27" width="1.08" height="1.08" fill="#b8587e"/>
<rect x="27" y="27" width="1.08" height="1.08" fill="#b65680"/>
<rect x="28" y="27" width="1.08" height="1.08" fill="#b45680"/>
<rect x="29" y="27" width="1.08" height="1.08" fill="#b25682"/>
<rect x="30" y="27" width="1.08" height="1.08" fill="#b25482"/>
<rect x="31" y="27" width="1.08" height="1.08" fill="#b05484"/>
<rect x="32" y="27" width="1.08" height="1.08" fill="#ae5486"/>
<rect x="33" y="27" width="1.08" height="1.08" fill="#ac5286"/>
<rect x="34" y="27" width="1.08" height="1.08" fill="#aa5288"/>
<rect x="35" y="27" width="1.08" height="1.08" fill="#a8528a"/>
<rect x="36" y="27" width="1.08" height="1.08" fill="#a6508a"/>
<rect x="37" y="27" width="5.08" height="1.08" fill="#a4508c"/>
<rect x="0" y="28" width="2.08" height="1.08" fill="#b2587e"/>
<rect x="2" y="28" width="1.08" height="1.08" fill="#b4587e"/>
<rect x="3" y="28" width="1.08" height="1.08" fill="#b6587e"/>
<rect x="8" y="28" width="2.08" height="1.08" fill="#bc5a7a"/>
<rect x="10" y="28" width="1.08" height="1.08" fill="#be5a7a"/>
<rect x="11" y="28" width="1.08" height="1.08" fill="#be5a78"/>
<rect x="12" y="28" width="1.08" height="1.08" fill="#c05a78"/>
<rect x="13" y="28" width="1.08" height="1.08" fill="#c05c78"/>
<rect x="24" y="28" width="1.08" height="1.08" fill="#ba587c"/>
<rect x="25" y="28" width="1.08" height="1.08" fill="#b8587e"/>
<rect x="26" y="28" width="1.08" height="1.08" fill="#b65880"/>
<rect x="27" y="28" width="1.08" height="1.08" fill="#b45680"/>
<rect x="28" y="28" width="1.08" height="1.08" fill="#b25682"/>
<rect x="29" y="28" width="1.08" height="1.08" fill="#b05484"/>
<rect x="30" y="28" width="1.08" height="1.08" fill="#ae5484"/>
<rect x="31" y="28" width="1.08" height="1.08" fill="#ac5486"/>
<rect x="32" y="28" width="1.08" height="1.08" fill="#aa5286"/>
<rect x="33" y="28" width="1.08" height="1.08" fill="#a85288"/>
<rect x="34" y="28" width="1.08" height="1.08" fill="#a6508a"/>
<rect x="35" y="28" width="1.08" height="1.08" fill="#a4508a"/>
<rect x="36" y="28" width="1.08" height="1.08" fill="#a2508c"/>
<rect x="37" y="28" width="1.08" height="1.08" fill="#a24e8c"/>
<rect x="38" y="28" width="4.08" height="1.08" fill="#a04e8e"/>
<rect x="0" y="29" width="2.08" height="1.08" fill="#b05880"/>
<rect x="2" y="29" width="2.08" height="1.08" fill="#b25880"/>
<rect x="8" y="29" width="1.08" height="1.08" fill="#b85a7c"/>
<rect x="9" y="29" width="1.08" height="1.08" fill="#ba5a7c"/>
<rect x="10" y="29" width="2.08" height="1.08" fill="#bc5a7a"/>
<rect x="12" y="29" width="2.08" height="1.08" fill="#be5a7a"/>
<rect x="24" y="29" width="1.08" height="1.08" fill="#b8587e"/>
<rect x="25" y="29" width="1.08" height="1.08" fill="#b6587e"/>
<rect x="26" y="29" width="1.08" height="1.08" fill="#b45680"/>
<rect x="27" y="29" width="1.08" height="1.08" fill="#b25682"/>
<rect x="28" y="29" width="1.08" height="1.08" fill="#ae5484"/>
<rect x="29" y="29" width="1.08" height="1.08" fill="#ac5484"/>
<rect x="30" y="29" width="1.08" height="1.08" fill="#aa5286"/>
<rect x="31" y="29" width="1.08" height="1.08" fill="#aa5288"/>
<rect x="32" y="29" width="1.08" height="1.08" fill="#a85288"/>
<rect x="33" y="29" width="1.08" height="1.08" fill="#a6508a"/>
<rect x="34" y="29" width="1.08" height="1.08" fill="#a4508a"/>
<rect x="35" y="29" width="1.08" height="1.08" fill="#a2508c"/>
<rect x="36" y="29" width="1.08" height="1.08" fill="#a04e8c"/>
<rect x="37" y="29" width="1.08" height="1.08" fill="#9e4e8e"/>
<rect x="38" y="29" width="4.08" height="1.08" fill="#9c4e8e"/>
<rect x="0" y="30" width="2.08" height="1.08" fill="#ae5682"/>
<rect x="2" y="30" width="1.08" height="1.08" fill="#b05682"/>
<rect x="3" y="30" width="1.08" height="1.08" fill="#b05880"/>
<rect x="8" y="30" width="1.08" height="1.08" fill="#b6587e"/>
<rect x="9" y="30" width="1.08" height="1.08" fill="#b8587c"/>
<rect x="10" y="30" width="2.08" height="1.08" fill="#ba5a7c"/>
<rect x="24" y="30" width="1.08" height="1.08" fill="#b6587e"/>
<rect x="25" y="30" width="1.08" height="1.08" fill="#b45680"/>
<rect x="26" y="30" width="1.08" height="1.08" fill="#b25682"/>
<rect x="27" y="30" width="1.08" height="1.08" fill="#ae5484"/>
<rect x="28" y="30" width="1.08" height="1.08" fill="#ac5486"/>
<rect x="29" y="30" width="1.08" height="1.08" fill="#aa5286"/>
<rect x="30" y="30" width="1.08" height="1.08" fill="#a85288"/>
<rect x="31" y="30" width="1.08" height="1.08" fill="#a65288"/>
<rect x="32" y="30" width="1.08" height="1.08" fill="#a4508a"/>
<rect x="33" y="30" width="1.08" height="1.08" fill="#a2508a"/>
<rect x="34" y="30" width="1.08" height="1.08" fill="#a0508c"/>
<rect x="35" y="30" width="1.08" height="1.08" fill="#9e4e8c"/>
<rect x="36" y="30" width="1.08" height="1.08" fill="#9c4e8e"/>
<rect x="37" y="30" width="1.08" height="1.08" fill="#9a4e8e"/>
<rect x="38" y="30" width="4.08" height="1.08" fill="#9a4c90"/>
<rect x="0" y="31" width="2.08" height="1.08" fill="#ac5684"/>
<rect x="2" y="31" width="1.08" height="1.08" fill="#ac5682"/>
<rect x="3" y="31" width="1.08" height="1.08" fill="#ae5682"/>
<rect x="8" y="31" width="1.08" height="1.08" fill="#b45880"/>
<rect x="9" y="31" width="1.08" height="1.08" fill="#b6587e"/>
<rect x="10" y="31" width="2.08" height="1.08" fill="#b8587e"/>
<rect x="24" y="31" width="1.08" height="1.08" fill="#b45880"/>
<rect x="25" y="31" width="1.08" height="1.08" fill="#b25682"/>
<rect x="26" y="31" width="1.08" height="1.08" fill="#ae5684"/>
<rect x="27" y="31" width="1.08" height="1.08" fill="#ac5484"/>
<rect x="28" y="31" width="1.08" height="1.08" fill="#aa5286"/>
<rect x="29" y="31" width="1.08" height="1.08" fill="#a65288"/>
<rect x="30" y="31" width="1.08" height="1.08" fill="#a4528a"/>
<rect x="31" y="31" width="1.08" height="1.08" fill="#a2508a"/>
<rect x="32" y="31" width="1.08" height="1.08" fill="#a0508a"/>
<rect x="33" y="31" width="1.08" height="1.08" fill="#9e508c"/>
<rect x="34" y="31" width="1.08" height="1.08" fill="#9c4e8c"/>
<rect x="35" y="31" width="1.08" height="1.08" fill="#9c4e8e"/>
<rect x="36" y="31" width="1.08" height="1.08" fill="#9a4c8e"/>
<rect x="37" y="31" width="1.08" height="1.08" fill="#984c90"/>
<rect x="38" y="31" width="4.08" height="1.08" fill="#964c90"/>
<rect x="0" y="32" width="2.08" height="1.08" fill="#aa5686"/>
<rect x="4" y="32" width="1.08" height="1.08" fill="#ae5684"/>
<rect x="5" y="32" width="1.08" height="1.08" fill="#ae5682"/>
<rect x="6" y="32" width="1.08" height="1.08" fill="#b05682"/>
<rect x="7" y="32" width="1.08" height="1.08" fill="#b25682"/>
<rect x="8" y="32" width="1.08" height="1.08" fill="#b25880"/>
<rect x="9" y="32" width="1.08" height="1.08" fill="#b45880"/>
<rect x="20" y="32" width="1.08" height="1.08" fill="#c05c78"/>
<rect x="21" y="32" width="1.08" height="1.08" fill="#bc5a7a"/>
<rect x="22" y="32" width="1.08" height="1.08" fill="#ba587c"/>
<rect x="23" y="32" width="1.08" height="1.08" fill="#b6587e"/>
<rect x="24" y="32" width="1.08" height="1.08" fill="#b25680"/>
<rect x="25" y="32" width="1.08" height="1.08" fill="#b05682"/>
<rect x="26" y="32" width="1.08" height="1.08" fill="#ac5484"/>
<rect x="27" y="32" width="1.08" height="1.08" fill="#aa5486"/>
<rect x="28" y="32" width="1.08" height="1.08" fill="#a65288"/>
<rect x="29" y="32" width="1.08" height="1.08" fill="#a4528a"/>
<rect x="30" y="32" width="1.08" height="1.08" fill="#a2508a"/>
<rect x="31" y="32" width="1.08" height="1.08" fill="#a0508c"/>
<rect x="32" y="32" width="1.08" height="1.08" fill="#9e4e8c"/>
<rect x="33" y="32" width="1.08" height="1.08" fill="#9c4e8e"/>
<rect x="34" y="32" width="1.08" height="1.08" fill="#9a4e8e"/>
<rect x="35" y="32" width="1.08" height="1.08" fill="#984c8e"/>
<rect x="36" y="32" width="1.08" height="1.08" fill="#964c90"/>
<rect x="37" y="32" width="1.08" height="1.08" fill="#944c90"/>
<rect x="38" y="32" width="4.08" height="1.08" fill="#924a92"/>
<rect x="0" y="33" width="2.08" height="1.08" fill="#a85486"/>
<rect x="4" y="33" width="1.08" height="1.08" fill="#aa5684"/>
<rect x="5" y="33" width="1.08" height="1.08" fill="#ac5684"/>
<rect x="6" y="33" width="1.08" height="1.08" fill="#ae5684"/>
<rect x="7" y="33" width="1.08" height="1.08" fill="#ae5682"/>
<rect x="8" y="33" width="1.08" height="1.08" fill="#b05682"/>
<rect x="9" y="33" width="1.08" height="1.08" fill="#b25682"/>
<rect x="20" y="33" width="1.08" height="1.08" fill="#be5a7a"/>
<rect x="21" y="33" width="1.08" height="1.08" fill="#bc5a7c"/>
<rect x="22" y="33" width="1.08" height="1.08" fill="#b8587e"/>
<rect x="23" y="33" width="1.08" height="1.08" fill="#b45880"/>
<rect x="24" y="33" width="1.08" height="1.08" fill="#b05682"/>
<rect x="25" y="33" width="1.08" height="1.08" fill="#ae5484"/>
<rect x="26" y="33" width="1.08" height="1.08" fill="#aa5486"/>
<rect x="27" y="33" width="1.08" height="1.08" fill="#a65288"/>
<rect x="28" y="33" width="1.08" height="1.08" fill="#a4528a"/>
<rect x="29" y="33" width="1.08" height="1.08" fill="#a0508c"/>
<rect x="30" y="33" width="1.08" height="1.08" fill="#9e508c"/>
<rect x="31" y="33" width="1.08" height="1.08" fill="#9c4e8c"/>
<rect x="32" y="33" width="1.08" height="1.08" fill="#9a4e8e"/>
<rect x="33" y="33" width="1.08" height="1.08" fill="#984e8e"/>
<rect x="34" y="33" width="1.08" height="1.08" fill="#964c90"/>
<rect x="35" y="33" width="1.08" height="1.08" fill="#944c90"/>
<rect x="36" y="33" width="1.08" height="1.08" fill="#924c90"/>
<rect x="37" y="33" width="5.08" height="1.08" fill="#904a92"/>
<rect x="2" y="34" width="1.08" height="1.08" fill="#a65488"/>
<rect x="3" y="34" width="1.08" height="1.08" fill="#a85488"/>
<rect x="4" y="34" width="1.08" height="1.08" fill="#a85486"/>
<rect x="5" y="34" width="1.08" height="1.08" fill="#aa5486"/>
<rect x="6" y="34" width="2.08" height="1.08" fill="#ac5684"/>
<rect x="18" y="34" width="1.08" height="1.08" fill="#be5a7a"/>
<rect x="19" y="34" width="1.08" height="1.08" fill="#c05a78"/>
<rect x="20" y="34" width="1.08" height="1.08" fill="#be5a7a"/>
<rect x="21" y="34" width="1.08" height="1.08" fill="#ba5a7c"/>
<rect x="22" y="34" width="1.08" height="1.08" fill="#b6587e"/>
<rect x="23" y="34" width="1.08" height="1.08" fill="#b25680"/>
<rect x="24" y="34" width="1.08" height="1.08" fill="#ae5682"/>
<rect x="25" y="34" width="1.08" height="1.08" fill="#ac5484"/>
<rect x="26" y="34" width="1.08" height="1.08" fill="#a85488"/>
<rect x="27" y="34" width="1.08" height="1.08" fill="#a4528a"/>
<rect x="28" y="34" width="1.08" height="1.08" fill="#a0508c"/>
<rect x="29" y="34" width="1.08" height="1.08" fill="#9e508c"/>
<rect x="30" y="34" width="1.08" height="1.08" fill="#9c4e8e"/>
<rect x="31" y="34" width="1.08" height="1.08" fill="#9a4e8e"/>
<rect x="32" y="34" width="1.08" height="1.08" fill="#984e90"/>
<rect x="33" y="34" width="1.08" height="1.08" fill="#964c90"/>
<rect x="34" y="34" width="1.08" height="1.08" fill="#944c90"/>
<rect x="35" y="34" width="1.08" height="1.08" fill="#924a92"/>
<rect x="36" y="34" width="1.08" height="1.08" fill="#904a92"/>
<rect x="37" y="34" width="1.08" height="1.08" fill="#8e4a92"/>
<rect x="38" y="34" width="4.08" height="1.08" fill="#8c4894"/>
<rect x="2" y="35" width="1.08" height="1.08" fill="#a4548a"/>
<rect x="3" y="35" width="1.08" height="1.08" fill="#a45488"/>
<rect x="4" y="35" width="1.08" height="1.08" fill="#a65488"/>
<rect x="5" y="35" width="1.08" height="1.08" fill="#a85488"/>
<rect x="6" y="35" width="2.08" height="1.08" fill="#aa5486"/>
<rect x="18" y="35" width="1.08" height="1.08" fill="#bc5a7a"/>
<rect x="19" y="35" width="1.08" height="1.08" fill="#be5a7a"/>
<rect x="20" y="35" width="1.08" height="1.08" fill="#bc5a7a"/>
<rect x="21" y="35" width="1.08" height="1.08" fill="#b8587c"/>
<rect x="22" y="35" width="1.08" height="1.08" fill="#b45880"/>
<rect x="23" y="35" width="1.08" height="1.08" fill="#b05682"/>
<rect x="24" y="35" width="1.08" height="1.08" fill="#ac5484"/>
<rect x="25" y="35" width="1.08" height="1.08" fill="#a85486"/>
<rect x="26" y="35" width="1.08" height="1.08" fill="#a45288"/>
<rect x="27" y="35" width="1.08" height="1.08" fill="#a2528a"/>
<rect x="28" y="35" width="1.08" height="1.08" fill="#9e508e"/>
<rect x="29" y="35" width="1.08" height="1.08" fill="#9a4e8e"/>
<rect x="30" y="35" width="1.08" height="1.08" fill="#984e90"/>
<rect x="31" y="35" width="1.08" height="1.08" fill="#964e90"/>
<rect x="32" y="35" width="1.08" height="1.08" fill="#944c90"/>
<rect x="33" y="35" width="1.08" height="1.08" fill="#924c92"/>
<rect x="34" y="35" width="1.08" height="1.08" fill="#904a92"/>
<rect x="35" y="35" width="1.08" height="1.08" fill="#8e4a92"/>
<rect x="36" y="35" width="1.08" height="1.08" fill="#8c4a94"/>
<rect x="37" y="35" width="1.08" height="1.08" fill="#8a4894"/>
<rect x="38" y="35" width="2.08" height="1.08" fill="#884894"/>
<rect x="40" y="35" width="2.08" height="1.08" fill="#8a4894"/>
<rect x="0" y="36" width="2.08" height="1.08" fill="#a0528c"/>
<rect x="2" y="36" width="1.08" height="1.08" fill="#a2528c"/>
<rect x="3" y="36" width="1.08" height="1.08" fill="#a2528a"/>
<rect x="4" y="36" width="1.08" height="1.08" fill="#a4548a"/>
<rect x="5" y="36" width="2.08" height="1.08" fill="#a65488"/>
<rect x="7" y="36" width="1.08" height="1.08" fill="#a85488"/>
<rect x="8" y="36" width="2.08" height="1.08" fill="#aa5486"/>
<rect x="20" y="36" width="1.08" height="1.08" fill="#bc5a7c"/>
<rect x="21" y="36" width="1.08" height="1.08" fill="#b8587e"/>
<rect x="22" y="36" width="1.08" height="1.08" fill="#b45680"/>
<rect x="23" y="36" width="1.08" height="1.08" fill="#b05682"/>
<rect x="24" y="36" width="1.08" height="1.08" fill="#aa5486"/>
<rect x="25" y="36" width="1.08" height="1.08" fill="#a65288"/>
<rect x="26" y="36" width="1.08" height="1.08" fill="#a2528a"/>
<rect x="27" y="36" width="1.08" height="1.08" fill="#9e508c"/>
<rect x="28" y="36" width="1.08" height="1.08" fill="#9a508e"/>
<rect x="29" y="36" width="1.08" height="1.08" fill="#984e90"/>
<rect x="30" y="36" width="1.08" height="1.08" fill="#964e90"/>
<rect x="31" y="36" width="1.08" height="1.08" fill="#944c92"/>
<rect x="32" y="36" width="1.08" height="1.08" fill="#904c92"/>
<rect x="33" y="36" width="1.08" height="1.08" fill="#8e4a92"/>
<rect x="34" y="36" width="1.08" height="1.08" fill="#8c4a92"/>
<rect x="35" y="36" width="1.08" height="1.08" fill="#8a4a94"/>
<rect x="36" y="36" width="1.08" height="1.08" fill="#884894"/>
<rect x="37" y="36" width="5.08" height="1.08" fill="#864894"/>
<rect x="0" y="37" width="2.08" height="1.08" fill="#9e528c"/>
<rect x="2" y="37" width="1.08" height="1.08" fill="#a0528c"/>
<rect x="3" y="37" width="1.08" height="1.08" fill="#a2528c"/>
<rect x="4" y="37" width="1.08" height="1.08" fill="#a2528a"/>
<rect x="5" y="37" width="1.08" height="1.08" fill="#a4548a"/>
<rect x="6" y="37" width="2.08" height="1.08" fill="#a65488"/>
<rect x="8" y="37" width="1.08" height="1.08" fill="#a85488"/>
<rect x="9" y="37" width="1.08" height="1.08" fill="#aa5486"/>
<rect x="20" y="37" width="1.08" height="1.08" fill="#ba587c"/>
<rect x="21" y="37" width="1.08" height="1.08" fill="#b6587e"/>
<rect x="22" y="37" width="1.08" height="1.08" fill="#b25682"/>
<rect x="23" y="37" width="1.08" height="1.08" fill="#ae5484"/>
<rect x="24" y="37" width="1.08" height="1.08" fill="#a85486"/>
<rect x="25" y="37" width="1.08" height="1.08" fill="#a45288"/>
<rect x="26" y="37" width="1.08" height="1.08" fill="#a0508c"/>
<rect x="27" y="37" width="1.08" height="1.08" fill="#9c508e"/>
<rect x="28" y="37" width="1.08" height="1.08" fill="#984e90"/>
<rect x="29" y="37" width="1.08" height="1.08" fill="#944e92"/>
<rect x="30" y="37" width="1.08" height="1.08" fill="#924c92"/>
<rect x="31" y="37" width="1.08" height="1.08" fill="#904c92"/>
<rect x="32" y="37" width="1.08" height="1.08" fill="#8e4a94"/>
<rect x="33" y="37" width="1.08" height="1.08" fill="#8c4a94"/>
<rect x="34" y="37" width="1.08" height="1.08" fill="#8a4a94"/>
<rect x="35" y="37" width="1.08" height="1.08" fill="#884894"/>
<rect x="36" y="37" width="1.08" height="1.08" fill="#864896"/>
<rect x="37" y="37" width="1.08" height="1.08" fill="#844696"/>
<rect x="38" y="37" width="4.08" height="1.08" fill="#824696"/>
<rect x="0" y="38" width="2.08" height="1.08" fill="#9e528e"/>
<rect x="2" y="38" width="1.08" height="1.08" fill="#9e528c"/>
<rect x="3" y="38" width="1.08" height="1.08" fill="#a0528c"/>
<rect x="4" y="38" width="2.08" height="1.08" fill="#a2528a"/>
<rect x="6" y="38" width="1.08" height="1.08" fill="#a4548a"/>
<rect x="7" y="38" width="2.08" height="1.08" fill="#a65488"/>
<rect x="9" y="38" width="1.08" height="1.08" fill="#a85488"/>
<rect x="20" y="38" width="1.08" height="1.08" fill="#b8587e"/>
<rect x="21" y="38" width="1.08" height="1.08" fill="#b45680"/>
<rect x="22" y="38" width="1.08" height="1.08" fill="#b05682"/>
<rect x="23" y="38" width="1.08" height="1.08" fill="#aa5484"/>
<rect x="24" y="38" width="1.08" height="1.08" fill="#a65288"/>
<rect x="25" y="38" width="1.08" height="1.08" fill="#a2528a"/>
<rect x="26" y="38" width="1.08" height="1.08" fill="#9c508c"/>
<rect x="27" y="38" width="1.08" height="1.08" fill="#984e8e"/>
<rect x="28" y="38" width="1.08" height="1.08" fill="#944c92"/>
<rect x="29" y="38" width="1.08" height="1.08" fill="#904c92"/>
<rect x="30" y="38" width="1.08" height="1.08" fill="#8e4c94"/>
<rect x="31" y="38" width="1.08" height="1.08" fill="#8c4a94"/>
<rect x="32" y="38" width="1.08" height="1.08" fill="#8a4a94"/>
<rect x="33" y="38" width="1.08" height="1.08" fill="#884894"/>
<rect x="34" y="38" width="1.08" height="1.08" fill="#864896"/>
<rect x="35" y="38" width="1.08" height="1.08" fill="#844696"/>
<rect x="36" y="38" width="1.08" height="1.08" fill="#824696"/>
<rect x="37" y="38" width="1.08" height="1.08" fill="#804696"/>
<rect x="38" y="38" width="1.08" height="1.08" fill="#804498"/>
<rect x="39" y="38" width="3.08" height="1.08" fill="#804696"/>
<rect x="0" y="39" width="2.08" height="1.08" fill="#9c528e"/>
<rect x="2" y="39" width="1.08" height="1.08" fill="#9e528c"/>
<rect x="3" y="39" width="2.08" height="1.08" fill="#a0528c"/>
<rect x="5" y="39" width="2.08" height="1.08" fill="#a2528a"/>
<rect x="7" y="39" width="1.08" height="1.08" fill="#a4548a"/>
<rect x="8" y="39" width="2.08" height="1.08" fill="#a65488"/>
<rect x="20" y="39" width="1.08" height="1.08" fill="#b6587e"/>
<rect x="21" y="39" width="1.08" height="1.08" fill="#b25680"/>
<rect x="22" y="39" width="1.08" height="1.08" fill="#ac5484"/>
<rect x="23" y="39" width="1.08" height="1.08" fill="#a85486"/>
<rect x="24" y="39" width="1.08" height="1.08" fill="#a45288"/>
<rect x="25" y="39" width="1.08" height="1.08" fill="#9e508a"/>
<rect x="26" y="39" width="1.08" height="1.08" fill="#9a4e8e"/>
<rect x="27" y="39" width="1.08" height="1.08" fill="#944c90"/>
<rect x="28" y="39" width="1.08" height="1.08" fill="#904c92"/>
<rect x="29" y="39" width="1.08" height="1.08" fill="#8e4a94"/>
<rect x="30" y="39" width="1.08" height="1.08" fill="#8c4a94"/>
<rect x="31" y="39" width="1.08" height="1.08" fill="#8a4894"/>
<rect x="32" y="39" width="1.08" height="1.08" fill="#884896"/>
<rect x="33" y="39" width="1.08" height="1.08" fill="#864896"/>
<rect x="34" y="39" width="1.08" height="1.08" fill="#844696"/>
<rect x="35" y="39" width="1.08" height="1.08" fill="#824696"/>
<rect x="36" y="39" width="1.08" height="1.08" fill="#804698"/>
<rect x="37" y="39" width="5.08" height="1.08" fill="#7e4498"/>
<rect x="0" y="40" width="3.08" height="1.08" fill="#9c528e"/>
<rect x="3" y="40" width="1.08" height="1.08" fill="#9e528c"/>
<rect x="4" y="40" width="2.08" height="1.08" fill="#a0528c"/>
<rect x="6" y="40" width="2.08" height="1.08" fill="#a2528a"/>
<rect x="8" y="40" width="1.08" height="1.08" fill="#a4548a"/>
<rect x="9" y="40" width="1.08" height="1.08" fill="#a45488"/>
<rect x="20" y="40" width="1.08" height="1.08" fill="#b4587e"/>
<rect x="21" y="40" width="1.08" height="1.08" fill="#b05682"/>
<rect x="22" y="40" width="1.08" height="1.08" fill="#aa5484"/>
<rect x="23" y="40" width="1.08" height="1.08" fill="#a65286"/>
<rect x="24" y="40" width="1.08" height="1.08" fill="#a0508a"/>
<rect x="25" y="40" width="1.08" height="1.08" fill="#9c4e8c"/>
<rect x="26" y="40" width="1.08" height="1.08" fill="#964e8e"/>
<rect x="27" y="40" width="1.08" height="1.08" fill="#924c92"/>
<rect x="28" y="40" width="1.08" height="1.08" fill="#8c4a94"/>
<rect x="29" y="40" width="1.08" height="1.08" fill="#8a4896"/>
<rect x="30" y="40" width="1.08" height="1.08" fill="#884896"/>
<rect x="31" y="40" width="1.08" height="1.08" fill="#864896"/>
<rect x="32" y="40" width="1.08" height="1.08" fill="#844696"/>
<rect x="33" y="40" width="1.08" height="1.08" fill="#844698"/>
<rect x="34" y="40" width="1.08" height="1.08" fill="#824698"/>
<rect x="35" y="40" width="1.08" height="1.08" fill="#804498"/>
<rect x="36" y="40" width="1.08" height="1.08" fill="#7e4498"/>
<rect x="37" y="40" width="1.08" height="1.08" fill="#7c449a"/>
<rect x="38" y="40" width="4.08" height="1.08" fill="#7c429a"/>
<rect x="0" y="41" width="2.08" height="1.08" fill="#9a508e"/>
<rect x="2" y="41" width="2.08" height="1.08" fill="#9c528e"/>
<rect x="4" y="41" width="2.08" height="1.08" fill="#9e528c"/>
<rect x="6" y="41" width="1.08" height="1.08" fill="#a0528c"/>
<rect x="7" y="41" width="2.08" height="1.08" fill="#a2528a"/>
<rect x="9" y="41" width="1.08" height="1.08" fill="#a4548a"/>
<rect x="20" y="41" width="1.08" height="1.08" fill="#b25680"/>
<rect x="21" y="41" width="1.08" height="1.08" fill="#ae5482"/>
<rect x="22" y="41" width="1.08" height="1.08" fill="#a85486"/>
<rect x="23" y="41" width="1.08" height="1.08" fill="#a25288"/>
<rect x="24" y="41" width="1.08" height="1.08" fill="#9e508a"/>
<rect x="25" y="41" width="1.08" height="1.08" fill="#984e8e"/>
<rect x="26" y="41" width="1.08" height="1.08" fill="#944c90"/>
<rect x="27" y="41" width="1.08" height="1.08" fill="#8e4a92"/>
<rect x="28" y="41" width="1.08" height="1.08" fill="#8a4896"/>
<rect x="29" y="41" width="1.08" height="1.08" fill="#864896"/>
<rect x="30" y="41" width="1.08" height="1.08" fill="#844696"/>
<rect x="31" y="41" width="1.08" height="1.08" fill="#844698"/>
<rect x="32" y="41" width="1.08" height="1.08" fill="#824698"/>
<rect x="33" y="41" width="1.08" height="1.08" fill="#804498"/>
<rect x="34" y="41" width="1.08" height="1.08" fill="#7e4498"/>
<rect x="35" y="41" width="1.08" height="1.08" fill="#7e449a"/>
<rect x="36" y="41" width="1.08" height="1.08" fill="#7c429a"/>
<rect x="37" y="41" width="5.08" height="1.08" fill="#7a429a"/>
<rect x="0" y="42" width="2.08" height="1.08" fill="#9a5090"/>
<rect x="2" y="42" width="1.08" height="1.08" fill="#9a508e"/>
<rect x="3" y="42" width="2.08" height="1.08" fill="#9c528e"/>
<rect x="5" y="42" width="2.08" height="1.08" fill="#9e528c"/>
<rect x="7" y="42" width="1.08" height="1.08" fill="#a0528c"/>
<rect x="8" y="42" width="1.08" height="1.08" fill="#a0528a"/>
<rect x="9" y="42" width="1.08" height="1.08" fill="#a2528a"/>
<rect x="18" y="42" width="1.08" height="1.08" fill="#b25680"/>
<rect x="19" y="42" width="1.08" height="1.08" fill="#b45880"/>
<rect x="20" y="42" width="1.08" height="1.08" fill="#b05680"/>
<rect x="21" y="42" width="1.08" height="1.08" fill="#ac5484"/>
<rect x="22" y="42" width="1.08" height="1.08" fill="#a65286"/>
<rect x="23" y="42" width="1.08" height="1.08" fill="#a05088"/>
<rect x="24" y="42" width="1.08" height="1.08" fill="#9c4e8c"/>
<rect x="25" y="42" width="1.08" height="1.08" fill="#964c8e"/>
<rect x="26" y="42" width="1.08" height="1.08" fill="#904a92"/>
<rect x="27" y="42" width="1.08" height="1.08" fill="#8a4a94"/>
<rect x="28" y="42" width="1.08" height="1.08" fill="#864896"/>
<rect x="29" y="42" width="2.08" height="1.08" fill="#824698"/>
<rect x="31" y="42" width="1.08" height="1.08" fill="#804498"/>
<rect x="32" y="42" width="1.08" height="1.08" fill="#7e4498"/>
<rect x="33" y="42" width="1.08" height="1.08" fill="#7e449a"/>
<rect x="34" y="42" width="1.08" height="1.08" fill="#7c429a"/>
<rect x="35" y="42" width="2.08" height="1.08" fill="#7a429a"/>
<rect x="37" y="42" width="5.08" height="1.08" fill="#78409c"/>
<rect x="0" y="43" width="2.08" height="1.08" fill="#985090"/>
<rect x="2" y="43" width="1.08" height="1.08" fill="#9a5090"/>
<rect x="3" y="43" width="1.08" height="1.08" fill="#9a508e"/>
<rect x="4" y="43" width="2.08" height="1.08" fill="#9c528e"/>
<rect x="6" y="43" width="2.08" height="1.08" fill="#9e528c"/>
<rect x="8" y="43" width="1.08" height="1.08" fill="#a0528c"/>
<rect x="9" y="43" width="1.08" height="1.08" fill="#a0528a"/>
<rect x="18" y="43" width="1.08" height="1.08" fill="#b25682"/>
<rect x="19" y="43" width="1.08" height="1.08" fill="#b25880"/>
<rect x="20" y="43" width="1.08" height="1.08" fill="#ae5682"/>
<rect x="21" y="43" width="1.08" height="1.08" fill="#aa5484"/>
<rect x="22" y="43" width="1.08" height="1.08" fill="#a45288"/>
<rect x="23" y="43" width="1.08" height="1.08" fill="#9e508a"/>
<rect x="24" y="43" width="1.08" height="1.08" fill="#984e8c"/>
<rect x="25" y="43" width="1.08" height="1.08" fill="#924c90"/>
<rect x="26" y="43" width="1.08" height="1.08" fill="#8e4a92"/>
<rect x="27" y="43" width="1.08" height="1.08" fill="#884894"/>
<rect x="28" y="43" width="1.08" height="1.08" fill="#824698"/>
<rect x="29" y="43" width="1.08" height="1.08" fill="#804498"/>
<rect x="30" y="43" width="1.08" height="1.08" fill="#7e449a"/>
<rect x="31" y="43" width="1.08" height="1.08" fill="#7c449a"/>
<rect x="32" y="43" width="1.08" height="1.08" fill="#7c429a"/>
<rect x="33" y="43" width="1.08" height="1.08" fill="#7a429a"/>
<rect x="34" y="43" width="1.08" height="1.08" fill="#7a429c"/>
<rect x="35" y="43" width="1.08" height="1.08" fill="#78409c"/>
<rect x="36" y="43" width="2.08" height="1.08" fill="#76409c"/>
<rect x="38" y="43" width="1.08" height="1.08" fill="#74409c"/>
<rect x="39" y="43" width="3.08" height="1.08" fill="#76409c"/>
<rect x="0" y="44" width="3.08" height="1.08" fill="#985090"/>
<rect x="3" y="44" width="1.08" height="1.08" fill="#9a5090"/>
<rect x="4" y="44" width="1.08" height="1.08" fill="#9a508e"/>
<rect x="5" y="44" width="2.08" height="1.08" fill="#9c528e"/>
<rect x="7" y="44" width="2.08" height="1.08" fill="#9e528c"/>
<rect x="9" y="44" width="1.08" height="1.08" fill="#a0528c"/>
<rect x="18" y="44" width="1.08" height="1.08" fill="#b05682"/>
<rect x="19" y="44" width="1.08" height="1.08" fill="#b25680"/>
<rect x="20" y="44" width="1.08" height="1.08" fill="#ac5682"/>
<rect x="21" y="44" width="1.08" height="1.08" fill="#a85286"/>
<rect x="22" y="44" width="1.08" height="1.08" fill="#a25088"/>
<rect x="23" y="44" width="1.08" height="1.08" fill="#9c4e8c"/>
<rect x="24" y="44" width="1.08" height="1.08" fill="#964c8e"/>
<rect x="25" y="44" width="1.08" height="1.08" fill="#904a90"/>
<rect x="26" y="44" width="1.08" height="1.08" fill="#8a4894"/>
<rect x="27" y="44" width="1.08" height="1.08" fill="#844696"/>
<rect x="28" y="44" width="1.08" height="1.08" fill="#7e4498"/>
<rect x="29" y="44" width="1.08" height="1.08" fill="#7c449a"/>
<rect x="30" y="44" width="2.08" height="1.08" fill="#7a429a"/>
<rect x="32" y="44" width="1.08" height="1.08" fill="#78429c"/>
<rect x="33" y="44" width="1.08" height="1.08" fill="#78409c"/>
<rect x="34" y="44" width="2.08" height="1.08" fill="#76409c"/>
<rect x="36" y="44" width="1.08" height="1.08" fill="#74409e"/>
<rect x="37" y="44" width="1.08" height="1.08" fill="#743e9e"/>
<rect x="38" y="44" width="4.08" height="1.08" fill="#723e9e"/>
<rect x="0" y="45" width="2.08" height="1.08" fill="#965090"/>
<rect x="2" y="45" width="3.08" height="1.08" fill="#985090"/>
<rect x="5" y="45" width="1.08" height="1.08" fill="#9a508e"/>
<rect x="6" y="45" width="1.08" height="1.08" fill="#9a528e"/>
<rect x="7" y="45" width="1.08" height="1.08" fill="#9c528e"/>
<rect x="8" y="45" width="1.08" height="1.08" fill="#9c528c"/>
<rect x="9" y="45" width="1.08" height="1.08" fill="#9e528c"/>
<rect x="18" y="45" width="1.08" height="1.08" fill="#ae5682"/>
<rect x="19" y="45" width="1.08" height="1.08" fill="#b05682"/>
<rect x="20" y="45" width="1.08" height="1.08" fill="#ac5484"/>
<rect x="21" y="45" width="1.08" height="1.08" fill="#a45286"/>
<rect x="22" y="45" width="1.08" height="1.08" fill="#9e508a"/>
<rect x="23" y="45" width="1.08" height="1.08" fill="#984e8c"/>
<rect x="24" y="45" width="1.08" height="1.08" fill="#924c8e"/>
<rect x="25" y="45" width="1.08" height="1.08" fill="#8c4a92"/>
<rect x="26" y="45" width="1.08" height="1.08" fill="#864894"/>
<rect x="27" y="45" width="1.08" height="1.08" fill="#804698"/>
<rect x="28" y="45" width="1.08" height="1.08" fill="#7a429a"/>
<rect x="29" y="45" width="2.08" height="1.08" fill="#78429c"/>
<rect x="31" y="45" width="2.08" height="1.08" fill="#76409c"/>
<rect x="33" y="45" width="1.08" height="1.08" fill="#74409c"/>
<rect x="34" y="45" width="1.08" height="1.08" fill="#74409e"/>
<rect x="35" y="45" width="2.08" height="1.08" fill="#723e9e"/>
<rect x="37" y="45" width="5.08" height="1.08" fill="#703e9e"/>
<rect x="0" y="46" width="3.08" height="1.08" fill="#965090"/>
<rect x="3" y="46" width="2.08" height="1.08" fill="#985090"/>
<rect x="5" y="46" width="1.08" height="1.08" fill="#9a508e"/>
<rect x="6" y="46" width="1.08" height="1.08" fill="#9a528e"/>
<rect x="7" y="46" width="2.08" height="1.08" fill="#9c528e"/>
<rect x="9" y="46" width="1.08" height="1.08" fill="#9e528c"/>
<rect x="18" y="46" width="1.08" height="1.08" fill="#ac5684"/>
<rect x="19" y="46" width="1.08" height="1.08" fill="#ae5682"/>
<rect x="20" y="46" width="1.08" height="1.08" fill="#aa5484"/>
<rect x="21" y="46" width="1.08" height="1.08" fill="#a45288"/>
<rect x="22" y="46" width="1.08" height="1.08" fill="#9e508a"/>
<rect x="23" y="46" width="1.08" height="1.08" fill="#964e8c"/>
<rect x="24" y="46" width="1.08" height="1.08" fill="#904a90"/>
<rect x="25" y="46" width="1.08" height="1.08" fill="#8a4892"/>
<rect x="26" y="46" width="1.08" height="1.08" fill="#844696"/>
<rect x="27" y="46" width="1.08" height="1.08" fill="#7e4498"/>
<rect x="28" y="46" width="1.08" height="1.08" fill="#78429c"/>
<rect x="29" y="46" width="1.08" height="1.08" fill="#76409c"/>
<rect x="30" y="46" width="1.08" height="1.08" fill="#74409c"/>
<rect x="31" y="46" width="1.08" height="1.08" fill="#74409e"/>
<rect x="32" y="46" width="3.08" height="1.08" fill="#723e9e"/>
<rect x="35" y="46" width="1.08" height="1.08" fill="#703e9e"/>
<rect x="36" y="46" width="1.08" height="1.08" fill="#703ca0"/>
<rect x="37" y="46" width="5.08" height="1.08" fill="#6e3ca0"/>
<rect x="0" y="47" width="3.08" height="1.08" fill="#965090"/>
<rect x="3" y="47" width="2.08" height="1.08" fill="#985090"/>
<rect x="5" y="47" width="1.08" height="1.08" fill="#9a508e"/>
<rect x="6" y="47" width="1.08" height="1.08" fill="#9a528e"/>
<rect x="7" y="47" width="2.08" height="1.08" fill="#9c528e"/>
<rect x="9" y="47" width="1.08" height="1.08" fill="#9e528c"/>
<rect x="18" y="47" width="1.08" height="1.08" fill="#ac5684"/>
<rect x="19" y="47" width="1.08" height="1.08" fill="#ae5682"/>
<rect x="20" y="47" width="1.08" height="1.08" fill="#aa5484"/>
<rect x="21" y="47" width="1.08" height="1.08" fill="#a45288"/>
<rect x="22" y="47" width="1.08" height="1.08" fill="#9e508a"/>
<rect x="23" y="47" width="1.08" height="1.08" fill="#964e8e"/>
<rect x="24" y="47" width="1.08" height="1.08" fill="#904a90"/>
<rect x="25" y="47" width="1.08" height="1.08" fill="#8a4892"/>
<rect x="26" y="47" width="1.08" height="1.08" fill="#844696"/>
<rect x="27" y="47" width="1.08" height="1.08" fill="#7e4498"/>
<rect x="28" y="47" width="1.08" height="1.08" fill="#78429c"/>
<rect x="29" y="47" width="1.08" height="1.08" fill="#76409c"/>
<rect x="30" y="47" width="1.08" height="1.08" fill="#74409c"/>
<rect x="31" y="47" width="1.08" height="1.08" fill="#74409e"/>
<rect x="32" y="47" width="2.08" height="1.08" fill="#723e9e"/>
<rect x="34" y="47" width="2.08" height="1.08" fill="#703e9e"/>
<rect x="36" y="47" width="1.08" height="1.08" fill="#703ca0"/>
<rect x="37" y="47" width="5.08" height="1.08" fill="#6e3ca0"/>
</g>
<g shape-rendering="crispEdges">
</g>
<rect x="159" y="-1" width="4" height="31" fill="#97b6e1"/>
<path d="M156.2,31.5 L158,30 L162.5,29 L162.5,100.5 L160.4,101.1 L158.7,102.2 L154.8,101.6 L151.9,99.4 L150.8,96 L151.4,92.6 L151.9,88.1 L150.8,85.3 L151.4,83.1 L153.6,81.4 L153.1,79.7 L150.8,76.9 L148.6,72.4 L147.6,65.5 L148.2,60 L149.1,54 L150.2,49 L151.4,43 L152.5,38.5 L153.7,35Z" fill="#97b6e1"/>
<rect x="154.5" y="31" width="5.0" height="19" fill="#cd6170"/>
<rect x="154.5" y="50" width="5.0" height="29" fill="#a0508c"/>
<rect x="157" y="86.5" width="3.5" height="3.5" fill="#5f3796"/>
<path d="M156.00,30.70 L152.60,30.70 L148.10,31.90 L144.70,33.60 L142.40,35.80 L140.20,38.60 L137.90,42.00 L135.70,45.40 L134.00,48.70 L132.30,53.20 L131.00,58.00 L129.00,64.00 L127.50,69.00 L125.50,76.00 L122.50,83.00 L119.00,91.00 L117.00,97.00 L114.00,103.00 L111.00,107.00 L110.00,111.00 L111.00,115.00 L112.00,121.00 L115.00,124.00 L118.00,127.00 L120.00,133.00 L122.00,139.00 L124.00,145.00 L125.50,154.50 L162.50,154.50 L162.50,100.50 L161.20,101.10 L159.50,102.20 L155.60,101.60 L152.70,99.40 L151.60,96.00 L152.20,92.60 L152.70,88.10 L151.60,85.30 L152.20,83.10 L154.40,81.40 L153.90,79.70 L151.60,76.90 L149.40,72.40 L148.40,65.50 L149.00,60.00 L149.90,54.00 L151.00,49.00 L152.20,43.00 L153.30,38.50 L154.50,35.00 L156.20,31.50 L156.60,31.50 Z" fill="#efefdb"/>
<path d="M125.50,154.50 L124.00,145.00 L122.00,139.00 L120.00,133.00 L118.00,127.00 L115.00,124.00 L112.00,121.00 L111.00,115.00 L110.00,111.00 L111.00,107.00 L114.00,103.00 L117.00,97.00 L119.00,91.00 L122.50,83.00 L125.50,76.00 L127.50,69.00 L129.00,64.00 L131.00,58.00 L132.30,53.20 L134.00,48.70 L135.70,45.40 L137.90,42.00 L140.20,38.60 L142.40,35.80 L144.70,33.60 L148.10,31.90 L152.60,30.70 L156.00,30.70 L156.60,31.50 L156.20,31.50 L154.50,35.00 L153.30,38.50 L152.20,43.00 L151.00,49.00 L149.90,54.00 L149.00,60.00 L148.40,65.50 L149.40,72.40 L151.60,76.90 L153.90,79.70 L154.40,81.40 L152.20,83.10 L151.60,85.30 L152.70,88.10 L152.20,92.60 L151.60,96.00 L152.70,99.40 L155.60,101.60 L159.50,102.20 L161.20,101.10 L162.50,100.50" fill="none" stroke="#727272" stroke-width="1.15" stroke-linejoin="round"/>
<path d="M1.00,-2 L4.50,156.00 M24.17,-2 L27.52,156.00 M47.34,-2 L50.54,156.00 M70.51,-2 L73.56,156.00 M93.68,-2 L96.58,156.00 M116.85,-2 L119.60,156.00 M140.02,-2 L142.62,156.00 M163.19,-2 L165.64,156.00 M-2,14.45 L164.00,10.55 M-2,34.25 L164.00,30.35 M-2,54.05 L164.00,50.15 M-2,73.85 L164.00,69.95 M-2,93.65 L164.00,89.75 M-2,113.45 L164.00,109.55 M-2,133.25 L164.00,129.35 M-2,153.05 L164.00,149.15 M-2,172.85 L164.00,168.95" fill="none" stroke="#aeaeae" stroke-opacity="0.85" stroke-width="1.3"/>
</g></g>
<rect x="150.5" y="125.5" width="162" height="154" fill="none" stroke="#000" stroke-width="1.1"/>
<g transform="translate(393,125) scale(0.99383,1)"><g clip-path="url(#clipm)">
<rect x="0" y="0" width="162.0" height="154.0" fill="#97b6e1"/>
<g shape-rendering="crispEdges" transform="matrix(3.85000,-0.09067,0.07417,3.29833,0.8750,-5.4200)">
<rect x="0" y="2.7" width="2.08" height="0.38" fill="#e8f0f6"/>
<rect x="2" y="2.7" width="1.08" height="0.38" fill="#e8eef6"/>
<rect x="3" y="2.7" width="1.08" height="0.38" fill="#eaecf0"/>
<rect x="4" y="2.7" width="1.08" height="0.38" fill="#eceaec"/>
<rect x="5" y="2.7" width="1.08" height="0.38" fill="#eeeae8"/>
<rect x="6" y="2.7" width="1.08" height="0.38" fill="#f0e8e4"/>
<rect x="7" y="2.7" width="1.08" height="0.38" fill="#f2e6e0"/>
<rect x="8" y="2.7" width="1.08" height="0.38" fill="#f2e4da"/>
<rect x="9" y="2.7" width="1.08" height="0.38" fill="#f4e2d6"/>
<rect x="10" y="2.7" width="1.08" height="0.38" fill="#f6e0d2"/>
<rect x="11" y="2.7" width="1.08" height="0.38" fill="#f8dece"/>
<rect x="12" y="2.7" width="1.08" height="0.38" fill="#f8e0d0"/>
<rect x="13" y="2.7" width="1.08" height="0.38" fill="#f8e0d2"/>
<rect x="14" y="2.7" width="1.08" height="0.38" fill="#f8e2d4"/>
<rect x="15" y="2.7" width="1.08" height="0.38" fill="#f8e2d6"/>
<rect x="16" y="2.7" width="1.08" height="0.38" fill="#f6e4d8"/>
<rect x="17" y="2.7" width="1.08" height="0.38" fill="#f6e4da"/>
<rect x="18" y="2.7" width="1.08" height="0.38" fill="#f6e6dc"/>
<rect x="19" y="2.7" width="1.08" height="0.38" fill="#f6e6de"/>
<rect x="20" y="2.7" width="1.08" height="0.38" fill="#f6e8e0"/>
<rect x="21" y="2.7" width="1.08" height="0.38" fill="#f6eae2"/>
<rect x="0" y="3" width="2.08" height="1.08" fill="#e8f0f6"/>
<rect x="2" y="3" width="1.08" height="1.08" fill="#e8eef6"/>
<rect x="3" y="3" width="1.08" height="1.08" fill="#eaecf0"/>
<rect x="4" y="3" width="1.08" height="1.08" fill="#eceaec"/>
<rect x="5" y="3" width="1.08" height="1.08" fill="#eeeae8"/>
<rect x="6" y="3" width="1.08" height="1.08" fill="#f0e8e4"/>
<rect x="7" y="3" width="1.08" height="1.08" fill="#f2e6e0"/>
<rect x="8" y="3" width="1.08" height="1.08" fill="#f2e4da"/>
<rect x="9" y="3" width="1.08" height="1.08" fill="#f4e2d6"/>
<rect x="10" y="3" width="1.08" height="1.08" fill="#f6e0d2"/>
<rect x="11" y="3" width="1.08" height="1.08" fill="#f8dece"/>
<rect x="12" y="3" width="1.08" height="1.08" fill="#f8e0d0"/>
<rect x="13" y="3" width="1.08" height="1.08" fill="#f8e0d2"/>
<rect x="14" y="3" width="1.08" height="1.08" fill="#f8e2d4"/>
<rect x="15" y="3" width="1.08" height="1.08" fill="#f8e2d6"/>
<rect x="16" y="3" width="1.08" height="1.08" fill="#f6e4d8"/>
<rect x="17" y="3" width="1.08" height="1.08" fill="#f6e4da"/>
<rect x="18" y="3" width="1.08" height="1.08" fill="#f6e6dc"/>
<rect x="19" y="3" width="1.08" height="1.08" fill="#f6e6de"/>
<rect x="20" y="3" width="1.08" height="1.08" fill="#f6e8e0"/>
<rect x="21" y="3" width="1.08" height="1.08" fill="#f6eae2"/>
<rect x="0" y="4" width="2.08" height="1.08" fill="#e8f0f6"/>
<rect x="2" y="4" width="1.08" height="1.08" fill="#e8eef6"/>
<rect x="3" y="4" width="1.08" height="1.08" fill="#eaecf0"/>
<rect x="4" y="4" width="1.08" height="1.08" fill="#eceaec"/>
<rect x="5" y="4" width="1.08" height="1.08" fill="#eee8e8"/>
<rect x="6" y="4" width="1.08" height="1.08" fill="#f0e8e4"/>
<rect x="7" y="4" width="1.08" height="1.08" fill="#f2e6e0"/>
<rect x="8" y="4" width="1.08" height="1.08" fill="#f2e4da"/>
<rect x="9" y="4" width="1.08" height="1.08" fill="#f4e2d6"/>
<rect x="10" y="4" width="1.08" height="1.08" fill="#f6e0d2"/>
<rect x="11" y="4" width="1.08" height="1.08" fill="#f8dece"/>
<rect x="12" y="4" width="1.08" height="1.08" fill="#f8e0d0"/>
<rect x="13" y="4" width="1.08" height="1.08" fill="#f8e0d2"/>
<rect x="14" y="4" width="1.08" height="1.08" fill="#f8e2d4"/>
<rect x="15" y="4" width="1.08" height="1.08" fill="#f8e2d6"/>
<rect x="16" y="4" width="1.08" height="1.08" fill="#f6e4d8"/>
<rect x="17" y="4" width="1.08" height="1.08" fill="#f6e4da"/>
<rect x="18" y="4" width="1.08" height="1.08" fill="#f6e6dc"/>
<rect x="19" y="4" width="1.08" height="1.08" fill="#f6e6de"/>
<rect x="0" y="5" width="2.08" height="1.08" fill="#e8f0f6"/>
<rect x="2" y="5" width="1.08" height="1.08" fill="#e8eef4"/>
<rect x="3" y="5" width="1.08" height="1.08" fill="#eaecf0"/>
<rect x="4" y="5" width="1.08" height="1.08" fill="#eceaec"/>
<rect x="5" y="5" width="1.08" height="1.08" fill="#eee8e8"/>
<rect x="6" y="5" width="1.08" height="1.08" fill="#f0e8e4"/>
<rect x="7" y="5" width="1.08" height="1.08" fill="#f2e6de"/>
<rect x="8" y="5" width="1.08" height="1.08" fill="#f2e4da"/>
<rect x="9" y="5" width="1.08" height="1.08" fill="#f4e2d6"/>
<rect x="10" y="5" width="1.08" height="1.08" fill="#f6e0d2"/>
<rect x="11" y="5" width="1.08" height="1.08" fill="#f8dece"/>
<rect x="12" y="5" width="1.08" height="1.08" fill="#f8e0d0"/>
<rect x="13" y="5" width="1.08" height="1.08" fill="#f8e0d2"/>
<rect x="14" y="5" width="1.08" height="1.08" fill="#f8e2d4"/>
<rect x="15" y="5" width="1.08" height="1.08" fill="#f8e2d6"/>
<rect x="16" y="5" width="1.08" height="1.08" fill="#f6e4d8"/>
<rect x="17" y="5" width="1.08" height="1.08" fill="#f6e4da"/>
<rect x="18" y="5" width="1.08" height="1.08" fill="#f6e6dc"/>
<rect x="19" y="5" width="1.08" height="1.08" fill="#f6e6de"/>
<rect x="0" y="6" width="2.08" height="1.08" fill="#e8f0f6"/>
<rect x="2" y="6" width="1.08" height="1.08" fill="#e8eef4"/>
<rect x="3" y="6" width="1.08" height="1.08" fill="#eaecf0"/>
<rect x="4" y="6" width="1.08" height="1.08" fill="#eceaec"/>
<rect x="5" y="6" width="1.08" height="1.08" fill="#eee8e8"/>
<rect x="6" y="6" width="1.08" height="1.08" fill="#f0e6e4"/>
<rect x="7" y="6" width="1.08" height="1.08" fill="#f2e4de"/>
<rect x="8" y="6" width="1.08" height="1.08" fill="#f4e4da"/>
<rect x="9" y="6" width="1.08" height="1.08" fill="#f4e2d6"/>
<rect x="10" y="6" width="1.08" height="1.08" fill="#f6e0d2"/>
<rect x="11" y="6" width="1.08" height="1.08" fill="#f8dece"/>
<rect x="12" y="6" width="1.08" height="1.08" fill="#f8e0d0"/>
<rect x="13" y="6" width="1.08" height="1.08" fill="#f8e0d2"/>
<rect x="14" y="6" width="1.08" height="1.08" fill="#f8e2d4"/>
<rect x="15" y="6" width="1.08" height="1.08" fill="#f6e2d6"/>
<rect x="16" y="6" width="1.08" height="1.08" fill="#f6e4d8"/>
<rect x="17" y="6" width="1.08" height="1.08" fill="#f6e4da"/>
<rect x="34" y="6" width="1.08" height="1.08" fill="#d0e2ee"/>
<rect x="35" y="6" width="1.08" height="1.08" fill="#c8deec"/>
<rect x="36" y="6" width="1.08" height="1.08" fill="#c2dcec"/>
<rect x="37" y="6" width="1.08" height="1.08" fill="#bcd8ea"/>
<rect x="0" y="7" width="1.08" height="1.08" fill="#e8f0f6"/>
<rect x="1" y="7" width="1.08" height="1.08" fill="#e8eef6"/>
<rect x="2" y="7" width="1.08" height="1.08" fill="#e8eef4"/>
<rect x="3" y="7" width="1.08" height="1.08" fill="#eaecf0"/>
<rect x="4" y="7" width="1.08" height="1.08" fill="#eceaec"/>
<rect x="5" y="7" width="1.08" height="1.08" fill="#eee8e8"/>
<rect x="6" y="7" width="1.08" height="1.08" fill="#f0e6e2"/>
<rect x="7" y="7" width="1.08" height="1.08" fill="#f2e4de"/>
<rect x="8" y="7" width="1.08" height="1.08" fill="#f4e2da"/>
<rect x="9" y="7" width="1.08" height="1.08" fill="#f4e2d6"/>
<rect x="10" y="7" width="1.08" height="1.08" fill="#f6e0d2"/>
<rect x="11" y="7" width="1.08" height="1.08" fill="#f8dece"/>
<rect x="12" y="7" width="1.08" height="1.08" fill="#f8ded0"/>
<rect x="13" y="7" width="1.08" height="1.08" fill="#f8e0d2"/>
<rect x="14" y="7" width="1.08" height="1.08" fill="#f8e2d4"/>
<rect x="15" y="7" width="1.08" height="1.08" fill="#f6e2d6"/>
<rect x="16" y="7" width="1.08" height="1.08" fill="#f6e4d8"/>
<rect x="17" y="7" width="1.08" height="1.08" fill="#f6e4da"/>
<rect x="34" y="7" width="1.08" height="1.08" fill="#d0e2ee"/>
<rect x="35" y="7" width="1.08" height="1.08" fill="#cadeec"/>
<rect x="36" y="7" width="1.08" height="1.08" fill="#c4dcec"/>
<rect x="37" y="7" width="1.08" height="1.08" fill="#bed8ea"/>
<rect x="0" y="8" width="2.08" height="1.08" fill="#e8f0f6"/>
<rect x="2" y="8" width="1.08" height="1.08" fill="#e8eef4"/>
<rect x="3" y="8" width="1.08" height="1.08" fill="#eaecf0"/>
<rect x="4" y="8" width="1.08" height="1.08" fill="#eceaec"/>
<rect x="5" y="8" width="1.08" height="1.08" fill="#eee8e8"/>
<rect x="6" y="8" width="1.08" height="1.08" fill="#f0e6e2"/>
<rect x="7" y="8" width="1.08" height="1.08" fill="#f2e4de"/>
<rect x="8" y="8" width="1.08" height="1.08" fill="#f4e2da"/>
<rect x="9" y="8" width="1.08" height="1.08" fill="#f4e0d6"/>
<rect x="12" y="8" width="1.08" height="1.08" fill="#f8ded0"/>
<rect x="13" y="8" width="1.08" height="1.08" fill="#f8e0d2"/>
<rect x="14" y="8" width="1.08" height="1.08" fill="#f8e2d4"/>
<rect x="15" y="8" width="1.08" height="1.08" fill="#f6e2d6"/>
<rect x="34" y="8" width="1.08" height="1.08" fill="#d2e2ee"/>
<rect x="35" y="8" width="1.08" height="1.08" fill="#cce0ec"/>
<rect x="36" y="8" width="1.08" height="1.08" fill="#c6dcec"/>
<rect x="37" y="8" width="1.08" height="1.08" fill="#c0daea"/>
<rect x="0" y="9" width="2.08" height="1.08" fill="#e8f0f6"/>
<rect x="2" y="9" width="1.08" height="1.08" fill="#e8eef4"/>
<rect x="3" y="9" width="1.08" height="1.08" fill="#eaecf0"/>
<rect x="4" y="9" width="1.08" height="1.08" fill="#eceaec"/>
<rect x="5" y="9" width="1.08" height="1.08" fill="#eee8e8"/>
<rect x="6" y="9" width="1.08" height="1.08" fill="#f0e6e2"/>
<rect x="7" y="9" width="1.08" height="1.08" fill="#f2e4de"/>
<rect x="8" y="9" width="1.08" height="1.08" fill="#f4e2da"/>
<rect x="9" y="9" width="1.08" height="1.08" fill="#f4e0d6"/>
<rect x="12" y="9" width="1.08" height="1.08" fill="#f8ded0"/>
<rect x="13" y="9" width="1.08" height="1.08" fill="#f8e0d2"/>
<rect x="14" y="9" width="1.08" height="1.08" fill="#f6e2d4"/>
<rect x="15" y="9" width="1.08" height="1.08" fill="#f6e2d6"/>
<rect x="34" y="9" width="1.08" height="1.08" fill="#d2e2ec"/>
<rect x="35" y="9" width="1.08" height="1.08" fill="#cce0ec"/>
<rect x="36" y="9" width="1.08" height="1.08" fill="#c6dcec"/>
<rect x="37" y="9" width="1.08" height="1.08" fill="#c2daea"/>
<rect x="0" y="10" width="2.08" height="1.08" fill="#e8f0f6"/>
<rect x="2" y="10" width="1.08" height="1.08" fill="#e8eef4"/>
<rect x="3" y="10" width="1.08" height="1.08" fill="#eaecf0"/>
<rect x="4" y="10" width="1.08" height="1.08" fill="#eceaec"/>
<rect x="5" y="10" width="1.08" height="1.08" fill="#eee8e6"/>
<rect x="6" y="10" width="1.08" height="1.08" fill="#f0e6e2"/>
<rect x="7" y="10" width="1.08" height="1.08" fill="#f2e4de"/>
<rect x="8" y="10" width="1.08" height="1.08" fill="#f4e2da"/>
<rect x="9" y="10" width="1.08" height="1.08" fill="#f4e0d4"/>
<rect x="12" y="10" width="1.08" height="1.08" fill="#f8ded0"/>
<rect x="13" y="10" width="1.08" height="1.08" fill="#f8e0d2"/>
<rect x="14" y="10" width="1.08" height="1.08" fill="#f6e0d4"/>
<rect x="15" y="10" width="1.08" height="1.08" fill="#f6e2d6"/>
<rect x="16" y="10" width="1.08" height="1.08" fill="#f6e4d8"/>
<rect x="17" y="10" width="1.08" height="1.08" fill="#f6e4da"/>
<rect x="32" y="10" width="1.08" height="1.08" fill="#dee8ee"/>
<rect x="33" y="10" width="1.08" height="1.08" fill="#dae4ec"/>
<rect x="34" y="10" width="1.08" height="1.08" fill="#d4e2ec"/>
<rect x="35" y="10" width="1.08" height="1.08" fill="#cee0ec"/>
<rect x="36" y="10" width="1.08" height="1.08" fill="#c8dcec"/>
<rect x="37" y="10" width="1.08" height="1.08" fill="#c2daea"/>
<rect x="38" y="10" width="1.08" height="1.08" fill="#bed8ea"/>
<rect x="39" y="10" width="3.08" height="1.08" fill="#bcd8ea"/>
<rect x="0" y="11" width="2.08" height="1.08" fill="#e8f0f6"/>
<rect x="2" y="11" width="1.08" height="1.08" fill="#e8eef4"/>
<rect x="3" y="11" width="1.08" height="1.08" fill="#eaecf0"/>
<rect x="4" y="11" width="1.08" height="1.08" fill="#eceaec"/>
<rect x="5" y="11" width="1.08" height="1.08" fill="#eee8e6"/>
<rect x="6" y="11" width="1.08" height="1.08" fill="#f0e6e2"/>
<rect x="7" y="11" width="1.08" height="1.08" fill="#f2e4de"/>
<rect x="8" y="11" width="1.08" height="1.08" fill="#f4e2da"/>
<rect x="9" y="11" width="1.08" height="1.08" fill="#f4e0d4"/>
<rect x="12" y="11" width="1.08" height="1.08" fill="#f8ded0"/>
<rect x="13" y="11" width="1.08" height="1.08" fill="#f8e0d2"/>
<rect x="14" y="11" width="1.08" height="1.08" fill="#f6e0d4"/>
<rect x="15" y="11" width="1.08" height="1.08" fill="#f6e2d6"/>
<rect x="16" y="11" width="1.08" height="1.08" fill="#f6e4d8"/>
<rect x="17" y="11" width="1.08" height="1.08" fill="#f6e4da"/>
<rect x="32" y="11" width="1.08" height="1.08" fill="#e0e8ec"/>
<rect x="33" y="11" width="1.08" height="1.08" fill="#dae4ec"/>
<rect x="34" y="11" width="1.08" height="1.08" fill="#d4e2ec"/>
<rect x="35" y="11" width="1.08" height="1.08" fill="#d0e0ec"/>
<rect x="36" y="11" width="1.08" height="1.08" fill="#cadeec"/>
<rect x="37" y="11" width="1.08" height="1.08" fill="#c4daea"/>
<rect x="38" y="11" width="4.08" height="1.08" fill="#bed8ea"/>
<rect x="0" y="12" width="2.08" height="1.08" fill="#e8f0f6"/>
<rect x="2" y="12" width="1.08" height="1.08" fill="#e8eef4"/>
<rect x="3" y="12" width="1.08" height="1.08" fill="#eaecf0"/>
<rect x="4" y="12" width="1.08" height="1.08" fill="#eceaec"/>
<rect x="5" y="12" width="1.08" height="1.08" fill="#eee8e6"/>
<rect x="6" y="12" width="1.08" height="1.08" fill="#f0e6e2"/>
<rect x="7" y="12" width="1.08" height="1.08" fill="#f2e4de"/>
<rect x="8" y="12" width="1.08" height="1.08" fill="#f4e2d8"/>
<rect x="9" y="12" width="1.08" height="1.08" fill="#f4e0d4"/>
<rect x="10" y="12" width="1.08" height="1.08" fill="#f6ded0"/>
<rect x="11" y="12" width="1.08" height="1.08" fill="#f8dcce"/>
<rect x="12" y="12" width="1.08" height="1.08" fill="#f8ded0"/>
<rect x="13" y="12" width="1.08" height="1.08" fill="#f8e0d2"/>
<rect x="14" y="12" width="1.08" height="1.08" fill="#f6e0d4"/>
<rect x="15" y="12" width="1.08" height="1.08" fill="#f6e2d6"/>
<rect x="16" y="12" width="1.08" height="1.08" fill="#f6e4d8"/>
<rect x="17" y="12" width="1.08" height="1.08" fill="#f6e4da"/>
<rect x="30" y="12" width="1.08" height="1.08" fill="#eaecec"/>
<rect x="31" y="12" width="1.08" height="1.08" fill="#e6eaec"/>
<rect x="32" y="12" width="1.08" height="1.08" fill="#e0e6ec"/>
<rect x="33" y="12" width="1.08" height="1.08" fill="#dce4ec"/>
<rect x="34" y="12" width="1.08" height="1.08" fill="#d6e2ec"/>
<rect x="35" y="12" width="1.08" height="1.08" fill="#d0e0ec"/>
<rect x="36" y="12" width="1.08" height="1.08" fill="#ccdeec"/>
<rect x="37" y="12" width="1.08" height="1.08" fill="#c6dcea"/>
<rect x="38" y="12" width="4.08" height="1.08" fill="#c0daea"/>
<rect x="0" y="13" width="2.08" height="1.08" fill="#e8f0f6"/>
<rect x="2" y="13" width="1.08" height="1.08" fill="#e8eef4"/>
<rect x="3" y="13" width="1.08" height="1.08" fill="#eaecf0"/>
<rect x="4" y="13" width="1.08" height="1.08" fill="#eceaec"/>
<rect x="5" y="13" width="1.08" height="1.08" fill="#eee8e6"/>
<rect x="6" y="13" width="1.08" height="1.08" fill="#f0e6e2"/>
<rect x="7" y="13" width="1.08" height="1.08" fill="#f2e4de"/>
<rect x="8" y="13" width="1.08" height="1.08" fill="#f4e2d8"/>
<rect x="9" y="13" width="1.08" height="1.08" fill="#f6e0d4"/>
<rect x="10" y="13" width="1.08" height="1.08" fill="#f6ded0"/>
<rect x="11" y="13" width="1.08" height="1.08" fill="#f8dcce"/>
<rect x="12" y="13" width="1.08" height="1.08" fill="#f8ded0"/>
<rect x="13" y="13" width="1.08" height="1.08" fill="#f8e0d2"/>
<rect x="14" y="13" width="1.08" height="1.08" fill="#f6e0d4"/>
<rect x="15" y="13" width="1.08" height="1.08" fill="#f6e2d6"/>
<rect x="16" y="13" width="1.08" height="1.08" fill="#f6e4d8"/>
<rect x="17" y="13" width="1.08" height="1.08" fill="#f6e4dc"/>
<rect x="30" y="13" width="1.08" height="1.08" fill="#ececec"/>
<rect x="31" y="13" width="1.08" height="1.08" fill="#e6e8ec"/>
<rect x="32" y="13" width="1.08" height="1.08" fill="#e2e6ec"/>
<rect x="33" y="13" width="1.08" height="1.08" fill="#dce4ec"/>
<rect x="34" y="13" width="1.08" height="1.08" fill="#d8e2ec"/>
<rect x="35" y="13" width="1.08" height="1.08" fill="#d2e0ec"/>
<rect x="36" y="13" width="1.08" height="1.08" fill="#ccdeec"/>
<rect x="37" y="13" width="1.08" height="1.08" fill="#c8dcec"/>
<rect x="38" y="13" width="4.08" height="1.08" fill="#c2daea"/>
<rect x="0" y="14" width="2.08" height="1.08" fill="#e8f0f6"/>
<rect x="2" y="14" width="1.08" height="1.08" fill="#e8eef4"/>
<rect x="3" y="14" width="1.08" height="1.08" fill="#eaecf0"/>
<rect x="4" y="14" width="1.08" height="1.08" fill="#eceaea"/>
<rect x="5" y="14" width="1.08" height="1.08" fill="#eee8e6"/>
<rect x="6" y="14" width="1.08" height="1.08" fill="#f0e6e2"/>
<rect x="7" y="14" width="1.08" height="1.08" fill="#f2e4de"/>
<rect x="8" y="14" width="1.08" height="1.08" fill="#f4e2d8"/>
<rect x="9" y="14" width="1.08" height="1.08" fill="#f6e0d4"/>
<rect x="10" y="14" width="1.08" height="1.08" fill="#f6ded0"/>
<rect x="11" y="14" width="1.08" height="1.08" fill="#f8dccc"/>
<rect x="12" y="14" width="1.08" height="1.08" fill="#f8ded0"/>
<rect x="13" y="14" width="1.08" height="1.08" fill="#f8e0d2"/>
<rect x="14" y="14" width="1.08" height="1.08" fill="#f6e0d4"/>
<rect x="15" y="14" width="1.08" height="1.08" fill="#f6e2d6"/>
<rect x="16" y="14" width="1.08" height="1.08" fill="#f6e4d8"/>
<rect x="17" y="14" width="1.08" height="1.08" fill="#f6e4dc"/>
<rect x="18" y="14" width="1.08" height="1.08" fill="#f4e6de"/>
<rect x="19" y="14" width="1.08" height="1.08" fill="#f4e8e0"/>
<rect x="20" y="14" width="2.08" height="1.08" fill="#f4e8e2"/>
<rect x="30" y="14" width="1.08" height="1.08" fill="#eceaea"/>
<rect x="31" y="14" width="1.08" height="1.08" fill="#e6e8ea"/>
<rect x="32" y="14" width="1.08" height="1.08" fill="#e2e6ea"/>
<rect x="33" y="14" width="1.08" height="1.08" fill="#dee4ea"/>
<rect x="34" y="14" width="1.08" height="1.08" fill="#d8e2ea"/>
<rect x="35" y="14" width="1.08" height="1.08" fill="#d4e0ec"/>
<rect x="36" y="14" width="1.08" height="1.08" fill="#cedeec"/>
<rect x="37" y="14" width="1.08" height="1.08" fill="#cadcec"/>
<rect x="38" y="14" width="4.08" height="1.08" fill="#c4daec"/>
<rect x="0" y="15" width="2.08" height="1.08" fill="#e8eef6"/>
<rect x="2" y="15" width="1.08" height="1.08" fill="#e8eef4"/>
<rect x="3" y="15" width="1.08" height="1.08" fill="#eaecf0"/>
<rect x="4" y="15" width="1.08" height="1.08" fill="#eceaea"/>
<rect x="5" y="15" width="1.08" height="1.08" fill="#eee8e6"/>
<rect x="6" y="15" width="1.08" height="1.08" fill="#f0e6e2"/>
<rect x="7" y="15" width="1.08" height="1.08" fill="#f2e4dc"/>
<rect x="8" y="15" width="1.08" height="1.08" fill="#f4e2d8"/>
<rect x="9" y="15" width="1.08" height="1.08" fill="#f6e0d4"/>
<rect x="10" y="15" width="1.08" height="1.08" fill="#f6ded0"/>
<rect x="11" y="15" width="1.08" height="1.08" fill="#f8dccc"/>
<rect x="12" y="15" width="1.08" height="1.08" fill="#f8ded0"/>
<rect x="13" y="15" width="1.08" height="1.08" fill="#f6e0d2"/>
<rect x="14" y="15" width="1.08" height="1.08" fill="#f6e0d4"/>
<rect x="15" y="15" width="1.08" height="1.08" fill="#f6e2d6"/>
<rect x="16" y="15" width="1.08" height="1.08" fill="#f6e4d8"/>
<rect x="17" y="15" width="1.08" height="1.08" fill="#f6e4dc"/>
<rect x="18" y="15" width="1.08" height="1.08" fill="#f4e6de"/>
<rect x="19" y="15" width="1.08" height="1.08" fill="#f4e8e0"/>
<rect x="20" y="15" width="2.08" height="1.08" fill="#f4e8e2"/>
<rect x="30" y="15" width="1.08" height="1.08" fill="#eceaea"/>
<rect x="31" y="15" width="1.08" height="1.08" fill="#e8e8ea"/>
<rect x="32" y="15" width="1.08" height="1.08" fill="#e2e6ea"/>
<rect x="33" y="15" width="1.08" height="1.08" fill="#dee4ea"/>
<rect x="34" y="15" width="1.08" height="1.08" fill="#dae2ea"/>
<rect x="35" y="15" width="1.08" height="1.08" fill="#d4e0ea"/>
<rect x="36" y="15" width="1.08" height="1.08" fill="#d0e0ec"/>
<rect x="37" y="15" width="1.08" height="1.08" fill="#cadeec"/>
<rect x="38" y="15" width="4.08" height="1.08" fill="#c6dcec"/>
<rect x="0" y="16" width="2.08" height="1.08" fill="#e6eef6"/>
<rect x="2" y="16" width="1.08" height="1.08" fill="#e6eef4"/>
<rect x="3" y="16" width="1.08" height="1.08" fill="#e8ecf0"/>
<rect x="4" y="16" width="1.08" height="1.08" fill="#eaeaec"/>
<rect x="5" y="16" width="1.08" height="1.08" fill="#ece8e8"/>
<rect x="6" y="16" width="1.08" height="1.08" fill="#eee6e4"/>
<rect x="7" y="16" width="1.08" height="1.08" fill="#f0e4de"/>
<rect x="8" y="16" width="1.08" height="1.08" fill="#f2e2da"/>
<rect x="9" y="16" width="1.08" height="1.08" fill="#f4e0d6"/>
<rect x="10" y="16" width="1.08" height="1.08" fill="#f6ded2"/>
<rect x="11" y="16" width="1.08" height="1.08" fill="#f6ded0"/>
<rect x="12" y="16" width="1.08" height="1.08" fill="#f6e0d2"/>
<rect x="13" y="16" width="1.08" height="1.08" fill="#f6e0d4"/>
<rect x="14" y="16" width="1.08" height="1.08" fill="#f6e2d6"/>
<rect x="15" y="16" width="1.08" height="1.08" fill="#f6e2d8"/>
<rect x="16" y="16" width="1.08" height="1.08" fill="#f4e4da"/>
<rect x="17" y="16" width="1.08" height="1.08" fill="#f4e6de"/>
<rect x="18" y="16" width="1.08" height="1.08" fill="#f4e6e0"/>
<rect x="19" y="16" width="1.08" height="1.08" fill="#f4e8e2"/>
<rect x="20" y="16" width="1.08" height="1.08" fill="#f4e8e4"/>
<rect x="21" y="16" width="1.08" height="1.08" fill="#f4eae4"/>
<rect x="30" y="16" width="1.08" height="1.08" fill="#eceae8"/>
<rect x="31" y="16" width="1.08" height="1.08" fill="#e8e8ea"/>
<rect x="32" y="16" width="1.08" height="1.08" fill="#e4e6ea"/>
<rect x="33" y="16" width="1.08" height="1.08" fill="#dee4ea"/>
<rect x="34" y="16" width="1.08" height="1.08" fill="#dae4ea"/>
<rect x="35" y="16" width="1.08" height="1.08" fill="#d6e2ea"/>
<rect x="36" y="16" width="1.08" height="1.08" fill="#d2e0ec"/>
<rect x="37" y="16" width="1.08" height="1.08" fill="#ccdeec"/>
<rect x="38" y="16" width="4.08" height="1.08" fill="#c8dcec"/>
<rect x="0" y="17" width="2.08" height="1.08" fill="#e4eef4"/>
<rect x="2" y="17" width="1.08" height="1.08" fill="#e6ecf4"/>
<rect x="3" y="17" width="1.08" height="1.08" fill="#e8eaf0"/>
<rect x="4" y="17" width="1.08" height="1.08" fill="#e8eaec"/>
<rect x="5" y="17" width="1.08" height="1.08" fill="#eae8e8"/>
<rect x="6" y="17" width="1.08" height="1.08" fill="#ece6e4"/>
<rect x="7" y="17" width="1.08" height="1.08" fill="#eee4e0"/>
<rect x="8" y="17" width="1.08" height="1.08" fill="#f0e4dc"/>
<rect x="9" y="17" width="1.08" height="1.08" fill="#f2e2da"/>
<rect x="10" y="17" width="1.08" height="1.08" fill="#f4e0d6"/>
<rect x="11" y="17" width="1.08" height="1.08" fill="#f4e0d4"/>
<rect x="12" y="17" width="1.08" height="1.08" fill="#f4e0d6"/>
<rect x="13" y="17" width="1.08" height="1.08" fill="#f4e2d8"/>
<rect x="14" y="17" width="1.08" height="1.08" fill="#f4e2da"/>
<rect x="15" y="17" width="1.08" height="1.08" fill="#f4e4dc"/>
<rect x="16" y="17" width="1.08" height="1.08" fill="#f4e4de"/>
<rect x="17" y="17" width="1.08" height="1.08" fill="#f4e6e0"/>
<rect x="18" y="17" width="1.08" height="1.08" fill="#f4e8e2"/>
<rect x="19" y="17" width="1.08" height="1.08" fill="#f2e8e4"/>
<rect x="20" y="17" width="2.08" height="1.08" fill="#f2eae6"/>
<rect x="30" y="17" width="1.08" height="1.08" fill="#eceaea"/>
<rect x="31" y="17" width="1.08" height="1.08" fill="#e8eaea"/>
<rect x="32" y="17" width="1.08" height="1.08" fill="#e4e8ea"/>
<rect x="33" y="17" width="1.08" height="1.08" fill="#e0e6ea"/>
<rect x="34" y="17" width="1.08" height="1.08" fill="#dce4ec"/>
<rect x="35" y="17" width="1.08" height="1.08" fill="#d6e2ec"/>
<rect x="36" y="17" width="1.08" height="1.08" fill="#d2e0ec"/>
<rect x="37" y="17" width="1.08" height="1.08" fill="#cedeec"/>
<rect x="38" y="17" width="4.08" height="1.08" fill="#cadcec"/>
<rect x="0" y="18" width="2.08" height="1.08" fill="#e2ecf4"/>
<rect x="10" y="18" width="1.08" height="1.08" fill="#f2e2d8"/>
<rect x="11" y="18" width="1.08" height="1.08" fill="#f2e0d8"/>
<rect x="12" y="18" width="2.08" height="1.08" fill="#f2e2da"/>
<rect x="14" y="18" width="1.08" height="1.08" fill="#f2e4dc"/>
<rect x="15" y="18" width="1.08" height="1.08" fill="#f2e4de"/>
<rect x="18" y="18" width="1.08" height="1.08" fill="#f2e8e4"/>
<rect x="19" y="18" width="1.08" height="1.08" fill="#f2eae6"/>
<rect x="28" y="18" width="2.08" height="1.08" fill="#f2eeea"/>
<rect x="30" y="18" width="1.08" height="1.08" fill="#ececec"/>
<rect x="31" y="18" width="1.08" height="1.08" fill="#e8eaec"/>
<rect x="32" y="18" width="1.08" height="1.08" fill="#e4e8ec"/>
<rect x="33" y="18" width="1.08" height="1.08" fill="#e0e6ec"/>
<rect x="34" y="18" width="1.08" height="1.08" fill="#dce4ec"/>
<rect x="35" y="18" width="1.08" height="1.08" fill="#d8e2ec"/>
<rect x="36" y="18" width="1.08" height="1.08" fill="#d4e0ec"/>
<rect x="37" y="18" width="1.08" height="1.08" fill="#cee0ec"/>
<rect x="38" y="18" width="2.08" height="1.08" fill="#ccdeec"/>
<rect x="40" y="18" width="2.08" height="1.08" fill="#cadeec"/>
<rect x="0" y="19" width="2.08" height="1.08" fill="#e2ecf4"/>
<rect x="10" y="19" width="1.08" height="1.08" fill="#f0e2dc"/>
<rect x="11" y="19" width="1.08" height="1.08" fill="#f0e2da"/>
<rect x="12" y="19" width="1.08" height="1.08" fill="#f0e4dc"/>
<rect x="13" y="19" width="1.08" height="1.08" fill="#f0e4de"/>
<rect x="14" y="19" width="1.08" height="1.08" fill="#f0e6e0"/>
<rect x="15" y="19" width="1.08" height="1.08" fill="#f0e6e2"/>
<rect x="18" y="19" width="1.08" height="1.08" fill="#f2eae6"/>
<rect x="19" y="19" width="1.08" height="1.08" fill="#f2eae8"/>
<rect x="28" y="19" width="2.08" height="1.08" fill="#f2eeec"/>
<rect x="30" y="19" width="1.08" height="1.08" fill="#ececec"/>
<rect x="31" y="19" width="1.08" height="1.08" fill="#e8eaec"/>
<rect x="32" y="19" width="1.08" height="1.08" fill="#e4e8ec"/>
<rect x="33" y="19" width="1.08" height="1.08" fill="#e0e6ec"/>
<rect x="34" y="19" width="1.08" height="1.08" fill="#dce6ec"/>
<rect x="35" y="19" width="1.08" height="1.08" fill="#d8e4ec"/>
<rect x="36" y="19" width="1.08" height="1.08" fill="#d4e2ec"/>
<rect x="37" y="19" width="1.08" height="1.08" fill="#d0e0ee"/>
<rect x="38" y="19" width="4.08" height="1.08" fill="#ccdeee"/>
<rect x="0" y="20" width="2.08" height="1.08" fill="#e0eaf4"/>
<rect x="8" y="20" width="1.08" height="1.08" fill="#eae6e4"/>
<rect x="9" y="20" width="1.08" height="1.08" fill="#ece4e2"/>
<rect x="10" y="20" width="1.08" height="1.08" fill="#eee4e0"/>
<rect x="11" y="20" width="1.08" height="1.08" fill="#eee4de"/>
<rect x="12" y="20" width="1.08" height="1.08" fill="#f0e4e0"/>
<rect x="13" y="20" width="2.08" height="1.08" fill="#f0e6e2"/>
<rect x="15" y="20" width="1.08" height="1.08" fill="#f0e8e4"/>
<rect x="18" y="20" width="1.08" height="1.08" fill="#f0eae8"/>
<rect x="19" y="20" width="1.08" height="1.08" fill="#f0eaea"/>
<rect x="28" y="20" width="2.08" height="1.08" fill="#f2eeee"/>
<rect x="30" y="20" width="1.08" height="1.08" fill="#eeecee"/>
<rect x="31" y="20" width="1.08" height="1.08" fill="#eaecee"/>
<rect x="32" y="20" width="1.08" height="1.08" fill="#e6eaee"/>
<rect x="33" y="20" width="1.08" height="1.08" fill="#e2e8ee"/>
<rect x="34" y="20" width="1.08" height="1.08" fill="#dee6ee"/>
<rect x="35" y="20" width="1.08" height="1.08" fill="#dae4ee"/>
<rect x="36" y="20" width="1.08" height="1.08" fill="#d6e2ee"/>
<rect x="37" y="20" width="1.08" height="1.08" fill="#d2e0ee"/>
<rect x="38" y="20" width="4.08" height="1.08" fill="#cee0ee"/>
<rect x="0" y="21" width="2.08" height="1.08" fill="#deeaf2"/>
<rect x="8" y="21" width="1.08" height="1.08" fill="#e8e6e6"/>
<rect x="9" y="21" width="1.08" height="1.08" fill="#eae6e4"/>
<rect x="10" y="21" width="1.08" height="1.08" fill="#ece6e2"/>
<rect x="11" y="21" width="1.08" height="1.08" fill="#eee6e2"/>
<rect x="12" y="21" width="2.08" height="1.08" fill="#eee6e4"/>
<rect x="14" y="21" width="2.08" height="1.08" fill="#eee8e6"/>
<rect x="18" y="21" width="1.08" height="1.08" fill="#f0eaea"/>
<rect x="19" y="21" width="1.08" height="1.08" fill="#f0ecec"/>
<rect x="28" y="21" width="1.08" height="1.08" fill="#f2f0ee"/>
<rect x="29" y="21" width="1.08" height="1.08" fill="#f0f0ee"/>
<rect x="30" y="21" width="1.08" height="1.08" fill="#eeeeee"/>
<rect x="31" y="21" width="1.08" height="1.08" fill="#eaecee"/>
<rect x="32" y="21" width="1.08" height="1.08" fill="#e6eaee"/>
<rect x="33" y="21" width="1.08" height="1.08" fill="#e2e8ee"/>
<rect x="34" y="21" width="1.08" height="1.08" fill="#dee6ee"/>
<rect x="35" y="21" width="1.08" height="1.08" fill="#dae4ee"/>
<rect x="36" y="21" width="1.08" height="1.08" fill="#d6e4ee"/>
<rect x="37" y="21" width="1.08" height="1.08" fill="#d2e2ee"/>
<rect x="38" y="21" width="4.08" height="1.08" fill="#d0e0ee"/>
<rect x="0" y="22" width="2.08" height="1.08" fill="#dce8f2"/>
<rect x="8" y="22" width="1.08" height="1.08" fill="#e6e8ea"/>
<rect x="9" y="22" width="1.08" height="1.08" fill="#e8e6e8"/>
<rect x="10" y="22" width="1.08" height="1.08" fill="#eae6e6"/>
<rect x="11" y="22" width="1.08" height="1.08" fill="#ece6e6"/>
<rect x="12" y="22" width="1.08" height="1.08" fill="#ece8e6"/>
<rect x="13" y="22" width="2.08" height="1.08" fill="#ece8e8"/>
<rect x="15" y="22" width="1.08" height="1.08" fill="#eeeaea"/>
<rect x="28" y="22" width="1.08" height="1.08" fill="#f2f0f0"/>
<rect x="29" y="22" width="1.08" height="1.08" fill="#f0f0f0"/>
<rect x="30" y="22" width="1.08" height="1.08" fill="#eeeef0"/>
<rect x="31" y="22" width="1.08" height="1.08" fill="#eaecf0"/>
<rect x="32" y="22" width="1.08" height="1.08" fill="#e6eaf0"/>
<rect x="33" y="22" width="1.08" height="1.08" fill="#e2e8f0"/>
<rect x="34" y="22" width="1.08" height="1.08" fill="#dee8ee"/>
<rect x="35" y="22" width="1.08" height="1.08" fill="#dce6ee"/>
<rect x="36" y="22" width="1.08" height="1.08" fill="#d8e4ee"/>
<rect x="37" y="22" width="1.08" height="1.08" fill="#d4e2ee"/>
<rect x="38" y="22" width="4.08" height="1.08" fill="#d0e0ee"/>
<rect x="0" y="23" width="2.08" height="1.08" fill="#dae8f2"/>
<rect x="8" y="23" width="1.08" height="1.08" fill="#e6e8ec"/>
<rect x="9" y="23" width="1.08" height="1.08" fill="#e6e8ea"/>
<rect x="10" y="23" width="1.08" height="1.08" fill="#e8e8ea"/>
<rect x="11" y="23" width="2.08" height="1.08" fill="#eae8ea"/>
<rect x="13" y="23" width="1.08" height="1.08" fill="#eaeaea"/>
<rect x="14" y="23" width="2.08" height="1.08" fill="#eceaec"/>
<rect x="28" y="23" width="1.08" height="1.08" fill="#f2f0f0"/>
<rect x="29" y="23" width="1.08" height="1.08" fill="#f0f0f0"/>
<rect x="30" y="23" width="1.08" height="1.08" fill="#eeeef0"/>
<rect x="31" y="23" width="1.08" height="1.08" fill="#eaecf0"/>
<rect x="32" y="23" width="1.08" height="1.08" fill="#e6ecf0"/>
<rect x="33" y="23" width="1.08" height="1.08" fill="#e2eaf0"/>
<rect x="34" y="23" width="1.08" height="1.08" fill="#e0e8f0"/>
<rect x="35" y="23" width="1.08" height="1.08" fill="#dce6f0"/>
<rect x="36" y="23" width="1.08" height="1.08" fill="#d8e4f0"/>
<rect x="37" y="23" width="1.08" height="1.08" fill="#d4e2ee"/>
<rect x="38" y="23" width="4.08" height="1.08" fill="#d2e2ee"/>
<rect x="8" y="24" width="1.08" height="1.08" fill="#e4e8ee"/>
<rect x="9" y="24" width="1.08" height="1.08" fill="#e4eaee"/>
<rect x="10" y="24" width="1.08" height="1.08" fill="#e6eaee"/>
<rect x="11" y="24" width="1.08" height="1.08" fill="#e8eaec"/>
<rect x="26" y="24" width="1.08" height="1.08" fill="#f0f0f2"/>
<rect x="27" y="24" width="1.08" height="1.08" fill="#f2f0f2"/>
<rect x="28" y="24" width="1.08" height="1.08" fill="#f2f2f2"/>
<rect x="29" y="24" width="1.08" height="1.08" fill="#f0f0f2"/>
<rect x="30" y="24" width="1.08" height="1.08" fill="#eef0f2"/>
<rect x="31" y="24" width="1.08" height="1.08" fill="#eaeef2"/>
<rect x="32" y="24" width="1.08" height="1.08" fill="#e6ecf2"/>
<rect x="33" y="24" width="1.08" height="1.08" fill="#e4eaf0"/>
<rect x="34" y="24" width="1.08" height="1.08" fill="#e0e8f0"/>
<rect x="35" y="24" width="1.08" height="1.08" fill="#dce6f0"/>
<rect x="36" y="24" width="1.08" height="1.08" fill="#dae6f0"/>
<rect x="37" y="24" width="1.08" height="1.08" fill="#d6e4f0"/>
<rect x="38" y="24" width="4.08" height="1.08" fill="#d4e2f0"/>
<rect x="8" y="25" width="1.08" height="1.08" fill="#e2eaf0"/>
<rect x="9" y="25" width="2.08" height="1.08" fill="#e4eaf0"/>
<rect x="11" y="25" width="1.08" height="1.08" fill="#e6ecf0"/>
<rect x="26" y="25" width="1.08" height="1.08" fill="#f0f2f4"/>
<rect x="27" y="25" width="2.08" height="1.08" fill="#f2f2f4"/>
<rect x="29" y="25" width="1.08" height="1.08" fill="#f0f2f4"/>
<rect x="30" y="25" width="1.08" height="1.08" fill="#eef0f2"/>
<rect x="31" y="25" width="1.08" height="1.08" fill="#eaeef2"/>
<rect x="32" y="25" width="1.08" height="1.08" fill="#e8ecf2"/>
<rect x="33" y="25" width="1.08" height="1.08" fill="#e4eaf2"/>
<rect x="34" y="25" width="1.08" height="1.08" fill="#e0eaf2"/>
<rect x="35" y="25" width="1.08" height="1.08" fill="#dee8f0"/>
<rect x="36" y="25" width="1.08" height="1.08" fill="#dae6f0"/>
<rect x="37" y="25" width="1.08" height="1.08" fill="#d8e4f0"/>
<rect x="38" y="25" width="4.08" height="1.08" fill="#d4e2f0"/>
<rect x="8" y="26" width="1.08" height="1.08" fill="#e0eaf2"/>
<rect x="9" y="26" width="1.08" height="1.08" fill="#e2eaf2"/>
<rect x="10" y="26" width="1.08" height="1.08" fill="#e2ecf2"/>
<rect x="11" y="26" width="1.08" height="1.08" fill="#e4ecf2"/>
<rect x="26" y="26" width="2.08" height="1.08" fill="#f0f2f4"/>
<rect x="28" y="26" width="1.08" height="1.08" fill="#f2f2f4"/>
<rect x="29" y="26" width="1.08" height="1.08" fill="#f0f2f4"/>
<rect x="30" y="26" width="1.08" height="1.08" fill="#eef0f4"/>
<rect x="31" y="26" width="1.08" height="1.08" fill="#eaeef4"/>
<rect x="32" y="26" width="1.08" height="1.08" fill="#e8eef2"/>
<rect x="33" y="26" width="1.08" height="1.08" fill="#e4ecf2"/>
<rect x="34" y="26" width="1.08" height="1.08" fill="#e2eaf2"/>
<rect x="35" y="26" width="1.08" height="1.08" fill="#dee8f2"/>
<rect x="36" y="26" width="1.08" height="1.08" fill="#dce6f0"/>
<rect x="37" y="26" width="1.08" height="1.08" fill="#d8e4f0"/>
<rect x="38" y="26" width="4.08" height="1.08" fill="#d6e4f0"/>
<rect x="8" y="27" width="1.08" height="1.08" fill="#deeaf2"/>
<rect x="9" y="27" width="2.08" height="1.08" fill="#e0eaf2"/>
<rect x="11" y="27" width="1.08" height="1.08" fill="#e2eaf2"/>
<rect x="26" y="27" width="2.08" height="1.08" fill="#ecf0f4"/>
<rect x="28" y="27" width="1.08" height="1.08" fill="#eef0f4"/>
<rect x="29" y="27" width="1.08" height="1.08" fill="#ecf0f4"/>
<rect x="30" y="27" width="1.08" height="1.08" fill="#eaeef4"/>
<rect x="31" y="27" width="1.08" height="1.08" fill="#e8eef2"/>
<rect x="32" y="27" width="1.08" height="1.08" fill="#e6ecf2"/>
<rect x="33" y="27" width="1.08" height="1.08" fill="#e2eaf2"/>
<rect x="34" y="27" width="1.08" height="1.08" fill="#e0eaf2"/>
<rect x="35" y="27" width="1.08" height="1.08" fill="#dee8f2"/>
<rect x="36" y="27" width="1.08" height="1.08" fill="#dae6f0"/>
<rect x="37" y="27" width="1.08" height="1.08" fill="#d8e4f0"/>
<rect x="38" y="27" width="4.08" height="1.08" fill="#d6e4f0"/>
<rect x="2" y="28" width="1.08" height="1.08" fill="#d6e4f0"/>
<rect x="3" y="28" width="1.08" height="1.08" fill="#d6e6f0"/>
<rect x="4" y="28" width="2.08" height="1.08" fill="#d8e6f0"/>
<rect x="8" y="28" width="1.08" height="1.08" fill="#dce8f2"/>
<rect x="9" y="28" width="1.08" height="1.08" fill="#dee8f2"/>
<rect x="10" y="28" width="1.08" height="1.08" fill="#deeaf2"/>
<rect x="11" y="28" width="1.08" height="1.08" fill="#e0eaf2"/>
<rect x="24" y="28" width="1.08" height="1.08" fill="#e6eef4"/>
<rect x="25" y="28" width="1.08" height="1.08" fill="#e8eef4"/>
<rect x="26" y="28" width="4.08" height="1.08" fill="#e8eef2"/>
<rect x="30" y="28" width="1.08" height="1.08" fill="#e6ecf2"/>
<rect x="31" y="28" width="1.08" height="1.08" fill="#e4ecf2"/>
<rect x="32" y="28" width="1.08" height="1.08" fill="#e2eaf2"/>
<rect x="33" y="28" width="1.08" height="1.08" fill="#e0e8f2"/>
<rect x="34" y="28" width="1.08" height="1.08" fill="#dce8f0"/>
<rect x="35" y="28" width="1.08" height="1.08" fill="#dae6f0"/>
<rect x="36" y="28" width="1.08" height="1.08" fill="#d8e4f0"/>
<rect x="37" y="28" width="1.08" height="1.08" fill="#d6e4f0"/>
<rect x="38" y="28" width="4.08" height="1.08" fill="#d4e2f0"/>
<rect x="2" y="29" width="1.08" height="1.08" fill="#d4e4ee"/>
<rect x="3" y="29" width="1.08" height="1.08" fill="#d6e4f0"/>
<rect x="4" y="29" width="1.08" height="1.08" fill="#d6e6f0"/>
<rect x="5" y="29" width="1.08" height="1.08" fill="#d8e6f0"/>
<rect x="8" y="29" width="1.08" height="1.08" fill="#dae8f0"/>
<rect x="9" y="29" width="2.08" height="1.08" fill="#dce8f2"/>
<rect x="11" y="29" width="1.08" height="1.08" fill="#deeaf2"/>
<rect x="24" y="29" width="5.08" height="1.08" fill="#e2ecf2"/>
<rect x="29" y="29" width="1.08" height="1.08" fill="#e2eaf2"/>
<rect x="30" y="29" width="1.08" height="1.08" fill="#e0eaf2"/>
<rect x="31" y="29" width="2.08" height="1.08" fill="#dee8f0"/>
<rect x="33" y="29" width="1.08" height="1.08" fill="#dce6f0"/>
<rect x="34" y="29" width="1.08" height="1.08" fill="#dae6f0"/>
<rect x="35" y="29" width="1.08" height="1.08" fill="#d8e4f0"/>
<rect x="36" y="29" width="1.08" height="1.08" fill="#d6e4f0"/>
<rect x="37" y="29" width="1.08" height="1.08" fill="#d4e2f0"/>
<rect x="38" y="29" width="4.08" height="1.08" fill="#d4e2ee"/>
<rect x="0" y="30" width="2.08" height="1.08" fill="#d2e2ee"/>
<rect x="2" y="30" width="2.08" height="1.08" fill="#d4e4ee"/>
<rect x="4" y="30" width="1.08" height="1.08" fill="#d6e4f0"/>
<rect x="5" y="30" width="1.08" height="1.08" fill="#d6e6f0"/>
<rect x="8" y="30" width="1.08" height="1.08" fill="#d8e6f0"/>
<rect x="9" y="30" width="1.08" height="1.08" fill="#dae8f0"/>
<rect x="24" y="30" width="1.08" height="1.08" fill="#dee8f2"/>
<rect x="25" y="30" width="5.08" height="1.08" fill="#dee8f0"/>
<rect x="30" y="30" width="1.08" height="1.08" fill="#dce8f0"/>
<rect x="31" y="30" width="2.08" height="1.08" fill="#dae6f0"/>
<rect x="33" y="30" width="1.08" height="1.08" fill="#d8e4f0"/>
<rect x="34" y="30" width="1.08" height="1.08" fill="#d6e4f0"/>
<rect x="35" y="30" width="1.08" height="1.08" fill="#d6e4ee"/>
<rect x="36" y="30" width="1.08" height="1.08" fill="#d4e2ee"/>
<rect x="37" y="30" width="5.08" height="1.08" fill="#d2e2ee"/>
<rect x="0" y="31" width="3.08" height="1.08" fill="#d2e2ee"/>
<rect x="3" y="31" width="3.08" height="1.08" fill="#d4e4ee"/>
<rect x="8" y="31" width="1.08" height="1.08" fill="#d6e6f0"/>
<rect x="9" y="31" width="1.08" height="1.08" fill="#d8e6f0"/>
<rect x="24" y="31" width="3.08" height="1.08" fill="#dae6f0"/>
<rect x="27" y="31" width="3.08" height="1.08" fill="#d8e6f0"/>
<rect x="30" y="31" width="1.08" height="1.08" fill="#d8e4ee"/>
<rect x="31" y="31" width="2.08" height="1.08" fill="#d6e4ee"/>
<rect x="33" y="31" width="1.08" height="1.08" fill="#d4e4ee"/>
<rect x="34" y="31" width="1.08" height="1.08" fill="#d4e2ee"/>
<rect x="35" y="31" width="2.08" height="1.08" fill="#d2e2ee"/>
<rect x="37" y="31" width="1.08" height="1.08" fill="#d2e0ee"/>
<rect x="38" y="31" width="4.08" height="1.08" fill="#d0e0ee"/>
<rect x="0" y="32" width="2.08" height="1.08" fill="#d0e2ee"/>
<rect x="2" y="32" width="3.08" height="1.08" fill="#d2e2ee"/>
<rect x="5" y="32" width="2.08" height="1.08" fill="#d4e4ee"/>
<rect x="7" y="32" width="2.08" height="1.08" fill="#d4e4f0"/>
<rect x="9" y="32" width="1.08" height="1.08" fill="#d6e6f0"/>
<rect x="24" y="32" width="1.08" height="1.08" fill="#d6e4f0"/>
<rect x="25" y="32" width="1.08" height="1.08" fill="#d6e4ee"/>
<rect x="26" y="32" width="2.08" height="1.08" fill="#d4e4ee"/>
<rect x="28" y="32" width="1.08" height="1.08" fill="#d4e2ee"/>
<rect x="29" y="32" width="5.08" height="1.08" fill="#d2e2ee"/>
<rect x="34" y="32" width="1.08" height="1.08" fill="#d0e2ee"/>
<rect x="35" y="32" width="7.08" height="1.08" fill="#d0e0ee"/>
<rect x="0" y="33" width="1.08" height="1.08" fill="#d0e0ee"/>
<rect x="1" y="33" width="3.08" height="1.08" fill="#d0e2ee"/>
<rect x="4" y="33" width="2.08" height="1.08" fill="#d2e2ee"/>
<rect x="6" y="33" width="2.08" height="1.08" fill="#d2e4ee"/>
<rect x="8" y="33" width="1.08" height="1.08" fill="#d4e4ee"/>
<rect x="9" y="33" width="1.08" height="1.08" fill="#d4e4f0"/>
<rect x="24" y="33" width="2.08" height="1.08" fill="#d2e2ee"/>
<rect x="26" y="33" width="1.08" height="1.08" fill="#d0e2ee"/>
<rect x="27" y="33" width="1.08" height="1.08" fill="#d0e0ee"/>
<rect x="28" y="33" width="14.08" height="1.08" fill="#cee0ec"/>
<rect x="0" y="34" width="2.08" height="1.08" fill="#cee0ec"/>
<rect x="2" y="34" width="1.08" height="1.08" fill="#d0e0ec"/>
<rect x="3" y="34" width="5.08" height="1.08" fill="#d0e2ee"/>
<rect x="8" y="34" width="2.08" height="1.08" fill="#d2e4ee"/>
<rect x="24" y="34" width="1.08" height="1.08" fill="#cee0ee"/>
<rect x="25" y="34" width="1.08" height="1.08" fill="#cce0ec"/>
<rect x="26" y="34" width="1.08" height="1.08" fill="#ccdeec"/>
<rect x="27" y="34" width="1.08" height="1.08" fill="#cadeec"/>
<rect x="28" y="34" width="3.08" height="1.08" fill="#c8deec"/>
<rect x="31" y="34" width="4.08" height="1.08" fill="#cadeec"/>
<rect x="35" y="34" width="7.08" height="1.08" fill="#ccdeec"/>
<rect x="0" y="35" width="4.08" height="1.08" fill="#cee0ec"/>
<rect x="4" y="35" width="1.08" height="1.08" fill="#cee0ee"/>
<rect x="5" y="35" width="2.08" height="1.08" fill="#cee2ee"/>
<rect x="7" y="35" width="3.08" height="1.08" fill="#d0e2ee"/>
<rect x="24" y="35" width="1.08" height="1.08" fill="#cadeec"/>
<rect x="25" y="35" width="1.08" height="1.08" fill="#c8deec"/>
<rect x="26" y="35" width="1.08" height="1.08" fill="#c6dcec"/>
<rect x="27" y="35" width="1.08" height="1.08" fill="#c4dcea"/>
<rect x="28" y="35" width="3.08" height="1.08" fill="#c4daea"/>
<rect x="31" y="35" width="2.08" height="1.08" fill="#c6dcea"/>
<rect x="33" y="35" width="3.08" height="1.08" fill="#c8dcec"/>
<rect x="36" y="35" width="4.08" height="1.08" fill="#cadeec"/>
<rect x="40" y="35" width="2.08" height="1.08" fill="#ccdeec"/>
<rect x="0" y="36" width="6.08" height="1.08" fill="#cee0ec"/>
<rect x="6" y="36" width="1.08" height="1.08" fill="#cee0ee"/>
<rect x="7" y="36" width="1.08" height="1.08" fill="#cee2ee"/>
<rect x="24" y="36" width="1.08" height="1.08" fill="#c6dcec"/>
<rect x="25" y="36" width="1.08" height="1.08" fill="#c4daea"/>
<rect x="26" y="36" width="1.08" height="1.08" fill="#c2daea"/>
<rect x="27" y="36" width="1.08" height="1.08" fill="#c0d8ea"/>
<rect x="28" y="36" width="2.08" height="1.08" fill="#bed8ea"/>
<rect x="30" y="36" width="2.08" height="1.08" fill="#c0d8ea"/>
<rect x="32" y="36" width="1.08" height="1.08" fill="#c2daea"/>
<rect x="33" y="36" width="1.08" height="1.08" fill="#c4daea"/>
<rect x="34" y="36" width="1.08" height="1.08" fill="#c6daea"/>
<rect x="35" y="36" width="1.08" height="1.08" fill="#c6dcea"/>
<rect x="36" y="36" width="2.08" height="1.08" fill="#c8dcec"/>
<rect x="38" y="36" width="4.08" height="1.08" fill="#cadcec"/>
<rect x="0" y="37" width="3.08" height="1.08" fill="#d0e0ec"/>
<rect x="3" y="37" width="3.08" height="1.08" fill="#d0e2ec"/>
<rect x="6" y="37" width="2.08" height="1.08" fill="#d0e2ee"/>
<rect x="24" y="37" width="1.08" height="1.08" fill="#c2daea"/>
<rect x="25" y="37" width="1.08" height="1.08" fill="#c0d8ea"/>
<rect x="26" y="37" width="1.08" height="1.08" fill="#bed8ea"/>
<rect x="27" y="37" width="1.08" height="1.08" fill="#bcd6e8"/>
<rect x="28" y="37" width="2.08" height="1.08" fill="#bad6e8"/>
<rect x="30" y="37" width="2.08" height="1.08" fill="#bcd6e8"/>
<rect x="32" y="37" width="1.08" height="1.08" fill="#bed8ea"/>
<rect x="33" y="37" width="1.08" height="1.08" fill="#c0d8ea"/>
<rect x="34" y="37" width="1.08" height="1.08" fill="#c2daea"/>
<rect x="35" y="37" width="1.08" height="1.08" fill="#c4daea"/>
<rect x="36" y="37" width="1.08" height="1.08" fill="#c6daea"/>
<rect x="37" y="37" width="1.08" height="1.08" fill="#c8dcea"/>
<rect x="38" y="37" width="4.08" height="1.08" fill="#c8dcec"/>
<rect x="0" y="38" width="4.08" height="1.08" fill="#d4e2ee"/>
<rect x="4" y="38" width="2.08" height="1.08" fill="#d4e4ee"/>
<rect x="6" y="38" width="2.08" height="1.08" fill="#d4e4ec"/>
<rect x="18" y="38" width="1.08" height="1.08" fill="#c6dcec"/>
<rect x="19" y="38" width="1.08" height="1.08" fill="#c6dcea"/>
<rect x="20" y="38" width="1.08" height="1.08" fill="#c4dcea"/>
<rect x="21" y="38" width="1.08" height="1.08" fill="#c2daea"/>
<rect x="22" y="38" width="1.08" height="1.08" fill="#c0daea"/>
<rect x="23" y="38" width="1.08" height="1.08" fill="#bed8ea"/>
<rect x="24" y="38" width="1.08" height="1.08" fill="#bcd8e8"/>
<rect x="25" y="38" width="1.08" height="1.08" fill="#bcd6e8"/>
<rect x="26" y="38" width="1.08" height="1.08" fill="#bad6e8"/>
<rect x="27" y="38" width="1.08" height="1.08" fill="#b8d4e8"/>
<rect x="28" y="38" width="2.08" height="1.08" fill="#b6d4e8"/>
<rect x="30" y="38" width="1.08" height="1.08" fill="#b8d4e8"/>
<rect x="31" y="38" width="1.08" height="1.08" fill="#bad6e8"/>
<rect x="32" y="38" width="1.08" height="1.08" fill="#bcd6e8"/>
<rect x="33" y="38" width="1.08" height="1.08" fill="#bed8ea"/>
<rect x="34" y="38" width="1.08" height="1.08" fill="#c0d8ea"/>
<rect x="35" y="38" width="1.08" height="1.08" fill="#c2daea"/>
<rect x="36" y="38" width="1.08" height="1.08" fill="#c6daea"/>
<rect x="37" y="38" width="2.08" height="1.08" fill="#c8dcea"/>
<rect x="39" y="38" width="3.08" height="1.08" fill="#c8dcec"/>
<rect x="0" y="39" width="6.08" height="1.08" fill="#d8e4ee"/>
<rect x="6" y="39" width="2.08" height="1.08" fill="#d8e4ec"/>
<rect x="18" y="39" width="1.08" height="1.08" fill="#c2daea"/>
<rect x="19" y="39" width="1.08" height="1.08" fill="#c0daea"/>
<rect x="20" y="39" width="1.08" height="1.08" fill="#bed8ea"/>
<rect x="21" y="39" width="1.08" height="1.08" fill="#bed8e8"/>
<rect x="22" y="39" width="1.08" height="1.08" fill="#bcd6e8"/>
<rect x="23" y="39" width="1.08" height="1.08" fill="#bad6e8"/>
<rect x="24" y="39" width="1.08" height="1.08" fill="#b8d6e8"/>
<rect x="25" y="39" width="1.08" height="1.08" fill="#b8d4e8"/>
<rect x="26" y="39" width="1.08" height="1.08" fill="#b6d4e6"/>
<rect x="27" y="39" width="1.08" height="1.08" fill="#b4d2e6"/>
<rect x="28" y="39" width="1.08" height="1.08" fill="#b2d2e6"/>
<rect x="29" y="39" width="1.08" height="1.08" fill="#b4d2e6"/>
<rect x="30" y="39" width="1.08" height="1.08" fill="#b6d4e6"/>
<rect x="31" y="39" width="1.08" height="1.08" fill="#b8d4e8"/>
<rect x="32" y="39" width="1.08" height="1.08" fill="#bad6e8"/>
<rect x="33" y="39" width="1.08" height="1.08" fill="#bed6e8"/>
<rect x="34" y="39" width="1.08" height="1.08" fill="#c0d8ea"/>
<rect x="35" y="39" width="1.08" height="1.08" fill="#c2daea"/>
<rect x="36" y="39" width="1.08" height="1.08" fill="#c4daea"/>
<rect x="37" y="39" width="1.08" height="1.08" fill="#c6dcea"/>
<rect x="38" y="39" width="1.08" height="1.08" fill="#c8dcea"/>
<rect x="39" y="39" width="1.08" height="1.08" fill="#c8dcec"/>
<rect x="40" y="39" width="1.08" height="1.08" fill="#c8dcea"/>
<rect x="41" y="39" width="1.08" height="1.08" fill="#c8dcec"/>
<rect x="0" y="40" width="6.08" height="1.08" fill="#dce6ee"/>
<rect x="6" y="40" width="2.08" height="1.08" fill="#dce6ec"/>
<rect x="18" y="40" width="1.08" height="1.08" fill="#bed8e8"/>
<rect x="19" y="40" width="1.08" height="1.08" fill="#bcd6e8"/>
<rect x="20" y="40" width="1.08" height="1.08" fill="#bad6e8"/>
<rect x="21" y="40" width="1.08" height="1.08" fill="#b8d4e8"/>
<rect x="22" y="40" width="1.08" height="1.08" fill="#b6d4e8"/>
<rect x="23" y="40" width="1.08" height="1.08" fill="#b6d4e6"/>
<rect x="24" y="40" width="1.08" height="1.08" fill="#b4d2e6"/>
<rect x="25" y="40" width="2.08" height="1.08" fill="#b2d2e6"/>
<rect x="27" y="40" width="1.08" height="1.08" fill="#b0d0e6"/>
<rect x="28" y="40" width="1.08" height="1.08" fill="#aed0e6"/>
<rect x="29" y="40" width="1.08" height="1.08" fill="#b0d0e6"/>
<rect x="30" y="40" width="1.08" height="1.08" fill="#b4d2e6"/>
<rect x="31" y="40" width="1.08" height="1.08" fill="#b6d4e6"/>
<rect x="32" y="40" width="1.08" height="1.08" fill="#b8d4e8"/>
<rect x="33" y="40" width="1.08" height="1.08" fill="#bcd6e8"/>
<rect x="34" y="40" width="1.08" height="1.08" fill="#bed8e8"/>
<rect x="35" y="40" width="1.08" height="1.08" fill="#c2d8ea"/>
<rect x="36" y="40" width="1.08" height="1.08" fill="#c4daea"/>
<rect x="37" y="40" width="1.08" height="1.08" fill="#c6dcea"/>
<rect x="38" y="40" width="4.08" height="1.08" fill="#c8dcec"/>
<rect x="0" y="41" width="2.08" height="1.08" fill="#e0e8f0"/>
<rect x="2" y="41" width="4.08" height="1.08" fill="#e0e8ee"/>
<rect x="6" y="41" width="1.08" height="1.08" fill="#e0e8ec"/>
<rect x="7" y="41" width="1.08" height="1.08" fill="#e2e8ec"/>
<rect x="18" y="41" width="1.08" height="1.08" fill="#bad6e8"/>
<rect x="19" y="41" width="1.08" height="1.08" fill="#b6d4e6"/>
<rect x="20" y="41" width="1.08" height="1.08" fill="#b4d2e6"/>
<rect x="21" y="41" width="2.08" height="1.08" fill="#b2d2e6"/>
<rect x="23" y="41" width="1.08" height="1.08" fill="#b0d2e6"/>
<rect x="24" y="41" width="1.08" height="1.08" fill="#b0d0e6"/>
<rect x="25" y="41" width="1.08" height="1.08" fill="#aed0e6"/>
<rect x="26" y="41" width="1.08" height="1.08" fill="#aed0e4"/>
<rect x="27" y="41" width="2.08" height="1.08" fill="#accee4"/>
<rect x="29" y="41" width="1.08" height="1.08" fill="#aed0e4"/>
<rect x="30" y="41" width="1.08" height="1.08" fill="#b0d0e6"/>
<rect x="31" y="41" width="1.08" height="1.08" fill="#b4d2e6"/>
<rect x="32" y="41" width="1.08" height="1.08" fill="#b6d4e8"/>
<rect x="33" y="41" width="1.08" height="1.08" fill="#bad6e8"/>
<rect x="34" y="41" width="1.08" height="1.08" fill="#bed6e8"/>
<rect x="35" y="41" width="1.08" height="1.08" fill="#c0d8ea"/>
<rect x="36" y="41" width="1.08" height="1.08" fill="#c4daea"/>
<rect x="37" y="41" width="1.08" height="1.08" fill="#c6dcea"/>
<rect x="38" y="41" width="4.08" height="1.08" fill="#c8dcec"/>
<rect x="0" y="42" width="3.08" height="1.08" fill="#e4eaf0"/>
<rect x="3" y="42" width="3.08" height="1.08" fill="#e4eaee"/>
<rect x="6" y="42" width="3.08" height="1.08" fill="#e6eaec"/>
<rect x="9" y="42" width="1.08" height="1.08" fill="#e6eaea"/>
<rect x="18" y="42" width="1.08" height="1.08" fill="#b6d4e6"/>
<rect x="19" y="42" width="1.08" height="1.08" fill="#b0d2e6"/>
<rect x="20" y="42" width="1.08" height="1.08" fill="#aed0e6"/>
<rect x="21" y="42" width="1.08" height="1.08" fill="#aed0e4"/>
<rect x="22" y="42" width="1.08" height="1.08" fill="#acd0e4"/>
<rect x="23" y="42" width="2.08" height="1.08" fill="#accee4"/>
<rect x="25" y="42" width="2.08" height="1.08" fill="#aacee4"/>
<rect x="27" y="42" width="1.08" height="1.08" fill="#a8cee4"/>
<rect x="28" y="42" width="1.08" height="1.08" fill="#a8cce4"/>
<rect x="29" y="42" width="1.08" height="1.08" fill="#aacee4"/>
<rect x="30" y="42" width="1.08" height="1.08" fill="#aed0e4"/>
<rect x="31" y="42" width="1.08" height="1.08" fill="#b2d2e6"/>
<rect x="32" y="42" width="1.08" height="1.08" fill="#b6d2e6"/>
<rect x="33" y="42" width="1.08" height="1.08" fill="#b8d4e8"/>
<rect x="34" y="42" width="1.08" height="1.08" fill="#bcd6e8"/>
<rect x="35" y="42" width="1.08" height="1.08" fill="#c0d8ea"/>
<rect x="36" y="42" width="1.08" height="1.08" fill="#c4daea"/>
<rect x="37" y="42" width="1.08" height="1.08" fill="#c6dcea"/>
<rect x="38" y="42" width="4.08" height="1.08" fill="#c8dcec"/>
<rect x="0" y="43" width="4.08" height="1.08" fill="#e8ecf0"/>
<rect x="4" y="43" width="2.08" height="1.08" fill="#e8ecee"/>
<rect x="6" y="43" width="3.08" height="1.08" fill="#eaeaec"/>
<rect x="9" y="43" width="1.08" height="1.08" fill="#eaeaea"/>
<rect x="18" y="43" width="1.08" height="1.08" fill="#b2d2e4"/>
<rect x="19" y="43" width="1.08" height="1.08" fill="#accee4"/>
<rect x="20" y="43" width="1.08" height="1.08" fill="#aacee4"/>
<rect x="21" y="43" width="1.08" height="1.08" fill="#a8cee4"/>
<rect x="22" y="43" width="3.08" height="1.08" fill="#a8cce4"/>
<rect x="25" y="43" width="1.08" height="1.08" fill="#a6cce4"/>
<rect x="26" y="43" width="2.08" height="1.08" fill="#a6cce2"/>
<rect x="28" y="43" width="1.08" height="1.08" fill="#a4cae2"/>
<rect x="29" y="43" width="1.08" height="1.08" fill="#a8cce4"/>
<rect x="30" y="43" width="1.08" height="1.08" fill="#accee4"/>
<rect x="31" y="43" width="1.08" height="1.08" fill="#b0d0e6"/>
<rect x="32" y="43" width="1.08" height="1.08" fill="#b4d2e6"/>
<rect x="33" y="43" width="1.08" height="1.08" fill="#b8d4e6"/>
<rect x="34" y="43" width="1.08" height="1.08" fill="#bad6e8"/>
<rect x="35" y="43" width="1.08" height="1.08" fill="#bed8e8"/>
<rect x="36" y="43" width="1.08" height="1.08" fill="#c2daea"/>
<rect x="37" y="43" width="1.08" height="1.08" fill="#c6dcea"/>
<rect x="38" y="43" width="4.08" height="1.08" fill="#c8dcec"/>
<rect x="0" y="44" width="2.08" height="1.08" fill="#eceef2"/>
<rect x="2" y="44" width="2.08" height="1.08" fill="#eceef0"/>
<rect x="4" y="44" width="1.08" height="1.08" fill="#ececee"/>
<rect x="5" y="44" width="1.08" height="1.08" fill="#eeecee"/>
<rect x="6" y="44" width="2.08" height="1.08" fill="#eeecec"/>
<rect x="8" y="44" width="2.08" height="1.08" fill="#eeecea"/>
<rect x="18" y="44" width="1.08" height="1.08" fill="#aecee4"/>
<rect x="19" y="44" width="1.08" height="1.08" fill="#a6cce2"/>
<rect x="20" y="44" width="4.08" height="1.08" fill="#a4cae2"/>
<rect x="24" y="44" width="5.08" height="1.08" fill="#a2cae2"/>
<rect x="29" y="44" width="1.08" height="1.08" fill="#a4cae2"/>
<rect x="30" y="44" width="1.08" height="1.08" fill="#a8cce4"/>
<rect x="31" y="44" width="1.08" height="1.08" fill="#accee4"/>
<rect x="32" y="44" width="1.08" height="1.08" fill="#b2d0e6"/>
<rect x="33" y="44" width="1.08" height="1.08" fill="#b6d4e6"/>
<rect x="34" y="44" width="1.08" height="1.08" fill="#bad6e8"/>
<rect x="35" y="44" width="1.08" height="1.08" fill="#bed8e8"/>
<rect x="36" y="44" width="1.08" height="1.08" fill="#c2daea"/>
<rect x="37" y="44" width="1.08" height="1.08" fill="#c6dcea"/>
<rect x="38" y="44" width="4.08" height="1.08" fill="#c8dcec"/>
<rect x="0" y="45" width="2.08" height="1.08" fill="#f0f0f2"/>
<rect x="2" y="45" width="1.08" height="1.08" fill="#f0f0f0"/>
<rect x="3" y="45" width="1.08" height="1.08" fill="#f0eef0"/>
<rect x="4" y="45" width="1.08" height="1.08" fill="#f0eeee"/>
<rect x="5" y="45" width="1.08" height="1.08" fill="#f2eeee"/>
<rect x="6" y="45" width="2.08" height="1.08" fill="#f2eeec"/>
<rect x="8" y="45" width="1.08" height="1.08" fill="#f2eeea"/>
<rect x="9" y="45" width="1.08" height="1.08" fill="#f2ecea"/>
<rect x="18" y="45" width="1.08" height="1.08" fill="#aacce2"/>
<rect x="19" y="45" width="1.08" height="1.08" fill="#a0c8e2"/>
<rect x="20" y="45" width="9.08" height="1.08" fill="#9ec8e0"/>
<rect x="29" y="45" width="1.08" height="1.08" fill="#a2cae2"/>
<rect x="30" y="45" width="1.08" height="1.08" fill="#a6cce2"/>
<rect x="31" y="45" width="1.08" height="1.08" fill="#aacee4"/>
<rect x="32" y="45" width="1.08" height="1.08" fill="#b0d0e6"/>
<rect x="33" y="45" width="1.08" height="1.08" fill="#b4d2e6"/>
<rect x="34" y="45" width="1.08" height="1.08" fill="#b8d4e8"/>
<rect x="35" y="45" width="1.08" height="1.08" fill="#bed6e8"/>
<rect x="36" y="45" width="1.08" height="1.08" fill="#c2d8ea"/>
<rect x="37" y="45" width="1.08" height="1.08" fill="#c6dcea"/>
<rect x="38" y="45" width="4.08" height="1.08" fill="#c8dcec"/>
<rect x="0" y="46" width="2.08" height="1.08" fill="#f0f0f2"/>
<rect x="2" y="46" width="1.08" height="1.08" fill="#f0f0f0"/>
<rect x="3" y="46" width="1.08" height="1.08" fill="#f2f0f0"/>
<rect x="4" y="46" width="1.08" height="1.08" fill="#f2f0ee"/>
<rect x="5" y="46" width="1.08" height="1.08" fill="#f2eeee"/>
<rect x="6" y="46" width="1.08" height="1.08" fill="#f2eeec"/>
<rect x="7" y="46" width="1.08" height="1.08" fill="#f4eeec"/>
<rect x="8" y="46" width="2.08" height="1.08" fill="#f4eeea"/>
<rect x="18" y="46" width="1.08" height="1.08" fill="#a6cae2"/>
<rect x="19" y="46" width="10.08" height="1.08" fill="#9cc6e0"/>
<rect x="29" y="46" width="1.08" height="1.08" fill="#9ec8e0"/>
<rect x="30" y="46" width="1.08" height="1.08" fill="#a4cae2"/>
<rect x="31" y="46" width="1.08" height="1.08" fill="#a8cce4"/>
<rect x="32" y="46" width="1.08" height="1.08" fill="#aed0e4"/>
<rect x="33" y="46" width="1.08" height="1.08" fill="#b2d2e6"/>
<rect x="34" y="46" width="1.08" height="1.08" fill="#b8d4e6"/>
<rect x="35" y="46" width="1.08" height="1.08" fill="#bcd6e8"/>
<rect x="36" y="46" width="1.08" height="1.08" fill="#c2d8ea"/>
<rect x="37" y="46" width="1.08" height="1.08" fill="#c6dcea"/>
<rect x="38" y="46" width="4.08" height="1.08" fill="#c8dcec"/>
<rect x="0" y="47" width="2.08" height="1.08" fill="#f0f0f2"/>
<rect x="2" y="47" width="1.08" height="1.08" fill="#f0f0f0"/>
<rect x="3" y="47" width="1.08" height="1.08" fill="#f2f0f0"/>
<rect x="4" y="47" width="2.08" height="1.08" fill="#f2eeee"/>
<rect x="6" y="47" width="1.08" height="1.08" fill="#f2eeec"/>
<rect x="7" y="47" width="1.08" height="1.08" fill="#f4eeec"/>
<rect x="8" y="47" width="2.08" height="1.08" fill="#f4eeea"/>
<rect x="18" y="47" width="1.08" height="1.08" fill="#a6cae2"/>
<rect x="19" y="47" width="10.08" height="1.08" fill="#9cc6e0"/>
<rect x="29" y="47" width="1.08" height="1.08" fill="#9ec8e0"/>
<rect x="30" y="47" width="1.08" height="1.08" fill="#a4cae2"/>
<rect x="31" y="47" width="1.08" height="1.08" fill="#a8cce4"/>
<rect x="32" y="47" width="1.08" height="1.08" fill="#aed0e4"/>
<rect x="33" y="47" width="1.08" height="1.08" fill="#b2d2e6"/>
<rect x="34" y="47" width="1.08" height="1.08" fill="#b8d4e6"/>
<rect x="35" y="47" width="1.08" height="1.08" fill="#bcd6e8"/>
<rect x="36" y="47" width="1.08" height="1.08" fill="#c2d8ea"/>
<rect x="37" y="47" width="1.08" height="1.08" fill="#c6dcea"/>
<rect x="38" y="47" width="4.08" height="1.08" fill="#c8dcec"/>
</g>
<g shape-rendering="crispEdges">
<rect x="35" y="15" width="13" height="12" fill="#f6ccb6"/>
<rect x="48" y="17" width="10" height="13" fill="#f7d4c0"/>
<rect x="37" y="37" width="13" height="8" fill="#f6d6c4"/>
<rect x="83" y="131" width="9.5" height="11" fill="#78b2d4"/>
<rect x="98" y="123" width="4" height="5" fill="#3c82be"/>
<rect x="92.5" y="127" width="7.5" height="6" fill="#6eaad0"/>
<rect x="85" y="123" width="5.599999999999994" height="4" fill="#82b9d7"/>
<rect x="102" y="130" width="8" height="8" fill="#8cbeda"/>
<rect x="88" y="142" width="8" height="8" fill="#96c3de"/>
<rect x="5.8" y="98" width="3.8" height="4" fill="#8cbedc"/>
<rect x="10.6" y="106" width="4.800000000000001" height="4" fill="#78b4d7"/>
<rect x="28" y="105" width="8" height="7" fill="#aacde4"/>
</g>
<rect x="159" y="-1" width="4" height="31" fill="#97b6e1"/>
<path d="M156.2,31.5 L158,30 L162.5,29 L162.5,100.5 L160.4,101.1 L158.7,102.2 L154.8,101.6 L151.9,99.4 L150.8,96 L151.4,92.6 L151.9,88.1 L150.8,85.3 L151.4,83.1 L153.6,81.4 L153.1,79.7 L150.8,76.9 L148.6,72.4 L147.6,65.5 L148.2,60 L149.1,54 L150.2,49 L151.4,43 L152.5,38.5 L153.7,35Z" fill="#97b6e1"/>
<rect x="152" y="31" width="8" height="39" fill="#cde1f0"/>
<rect x="154" y="70" width="6" height="9" fill="#f4ece6"/>
<path d="M156.00,30.70 L152.60,30.70 L148.10,31.90 L144.70,33.60 L142.40,35.80 L140.20,38.60 L137.90,42.00 L135.70,45.40 L134.00,48.70 L132.30,53.20 L131.00,58.00 L129.00,64.00 L127.50,69.00 L125.50,76.00 L122.50,83.00 L119.00,91.00 L117.00,97.00 L114.00,103.00 L111.00,107.00 L110.00,111.00 L111.00,115.00 L112.00,121.00 L115.00,124.00 L118.00,127.00 L120.00,133.00 L122.00,139.00 L124.00,145.00 L125.50,154.50 L162.50,154.50 L162.50,100.50 L161.20,101.10 L159.50,102.20 L155.60,101.60 L152.70,99.40 L151.60,96.00 L152.20,92.60 L152.70,88.10 L151.60,85.30 L152.20,83.10 L154.40,81.40 L153.90,79.70 L151.60,76.90 L149.40,72.40 L148.40,65.50 L149.00,60.00 L149.90,54.00 L151.00,49.00 L152.20,43.00 L153.30,38.50 L154.50,35.00 L156.20,31.50 L156.60,31.50 Z" fill="#efefdb"/>
<path d="M125.50,154.50 L124.00,145.00 L122.00,139.00 L120.00,133.00 L118.00,127.00 L115.00,124.00 L112.00,121.00 L111.00,115.00 L110.00,111.00 L111.00,107.00 L114.00,103.00 L117.00,97.00 L119.00,91.00 L122.50,83.00 L125.50,76.00 L127.50,69.00 L129.00,64.00 L131.00,58.00 L132.30,53.20 L134.00,48.70 L135.70,45.40 L137.90,42.00 L140.20,38.60 L142.40,35.80 L144.70,33.60 L148.10,31.90 L152.60,30.70 L156.00,30.70 L156.60,31.50 L156.20,31.50 L154.50,35.00 L153.30,38.50 L152.20,43.00 L151.00,49.00 L149.90,54.00 L149.00,60.00 L148.40,65.50 L149.40,72.40 L151.60,76.90 L153.90,79.70 L154.40,81.40 L152.20,83.10 L151.60,85.30 L152.70,88.10 L152.20,92.60 L151.60,96.00 L152.70,99.40 L155.60,101.60 L159.50,102.20 L161.20,101.10 L162.50,100.50" fill="none" stroke="#727272" stroke-width="1.15" stroke-linejoin="round"/>
<path d="M1.00,-2 L4.50,156.00 M24.17,-2 L27.52,156.00 M47.34,-2 L50.54,156.00 M70.51,-2 L73.56,156.00 M93.68,-2 L96.58,156.00 M116.85,-2 L119.60,156.00 M140.02,-2 L142.62,156.00 M163.19,-2 L165.64,156.00 M-2,14.45 L164.00,10.55 M-2,34.25 L164.00,30.35 M-2,54.05 L164.00,50.15 M-2,73.85 L164.00,69.95 M-2,93.65 L164.00,89.75 M-2,113.45 L164.00,109.55 M-2,133.25 L164.00,129.35 M-2,153.05 L164.00,149.15 M-2,172.85 L164.00,168.95" fill="none" stroke="#aeaeae" stroke-opacity="0.85" stroke-width="1.3"/>
</g></g>
<rect x="393.5" y="125.5" width="161" height="154" fill="none" stroke="#000" stroke-width="1.1"/>
<g transform="translate(635,125) scale(1.00000,1)"><g clip-path="url(#clipm)">
<rect x="0" y="0" width="162.0" height="154.0" fill="#97b6e1"/>
<g shape-rendering="crispEdges" transform="matrix(3.85000,-0.09067,0.07417,3.29833,0.8750,-5.4200)">
<rect x="0" y="2.7" width="2.08" height="0.38" fill="#f4f0ee"/>
<rect x="2" y="2.7" width="1.08" height="0.38" fill="#f2f0ee"/>
<rect x="3" y="2.7" width="1.08" height="0.38" fill="#f2eeec"/>
<rect x="4" y="2.7" width="1.08" height="0.38" fill="#f0ecea"/>
<rect x="5" y="2.7" width="1.08" height="0.38" fill="#f0ece6"/>
<rect x="6" y="2.7" width="1.08" height="0.38" fill="#eeeae4"/>
<rect x="7" y="2.7" width="1.08" height="0.38" fill="#ece8e2"/>
<rect x="8" y="2.7" width="1.08" height="0.38" fill="#ece6e0"/>
<rect x="9" y="2.7" width="1.08" height="0.38" fill="#eae4de"/>
<rect x="10" y="2.7" width="1.08" height="0.38" fill="#eae4dc"/>
<rect x="11" y="2.7" width="1.08" height="0.38" fill="#e8e2da"/>
<rect x="38" y="2.7" width="4.08" height="0.38" fill="#f4f0f0"/>
<rect x="0" y="3" width="2.08" height="1.08" fill="#f4f0ee"/>
<rect x="2" y="3" width="1.08" height="1.08" fill="#f2f0ee"/>
<rect x="3" y="3" width="1.08" height="1.08" fill="#f2eeec"/>
<rect x="4" y="3" width="1.08" height="1.08" fill="#f0ecea"/>
<rect x="5" y="3" width="1.08" height="1.08" fill="#f0ece6"/>
<rect x="6" y="3" width="1.08" height="1.08" fill="#eeeae4"/>
<rect x="7" y="3" width="1.08" height="1.08" fill="#ece8e2"/>
<rect x="8" y="3" width="1.08" height="1.08" fill="#ece6e0"/>
<rect x="9" y="3" width="1.08" height="1.08" fill="#eae4de"/>
<rect x="10" y="3" width="1.08" height="1.08" fill="#eae4dc"/>
<rect x="11" y="3" width="1.08" height="1.08" fill="#e8e2da"/>
<rect x="38" y="3" width="4.08" height="1.08" fill="#f4f0f0"/>
<rect x="0" y="4" width="2.08" height="1.08" fill="#f4f0ee"/>
<rect x="2" y="4" width="1.08" height="1.08" fill="#f2f0ee"/>
<rect x="3" y="4" width="1.08" height="1.08" fill="#f2eeec"/>
<rect x="4" y="4" width="1.08" height="1.08" fill="#f0ecea"/>
<rect x="5" y="4" width="1.08" height="1.08" fill="#f0ece6"/>
<rect x="6" y="4" width="1.08" height="1.08" fill="#eeeae4"/>
<rect x="7" y="4" width="1.08" height="1.08" fill="#ece8e2"/>
<rect x="8" y="4" width="1.08" height="1.08" fill="#ece6e0"/>
<rect x="9" y="4" width="1.08" height="1.08" fill="#eae4de"/>
<rect x="10" y="4" width="1.08" height="1.08" fill="#eae4dc"/>
<rect x="11" y="4" width="1.08" height="1.08" fill="#e8e2da"/>
<rect x="12" y="4" width="1.08" height="1.08" fill="#eae4dc"/>
<rect x="13" y="4" width="1.08" height="1.08" fill="#eae6de"/>
<rect x="14" y="4" width="1.08" height="1.08" fill="#ece8e2"/>
<rect x="15" y="4" width="1.08" height="1.08" fill="#eee8e4"/>
<rect x="16" y="4" width="1.08" height="1.08" fill="#eeeae6"/>
<rect x="17" y="4" width="1.08" height="1.08" fill="#f0ece8"/>
<rect x="38" y="4" width="4.08" height="1.08" fill="#f4f0f0"/>
<rect x="0" y="5" width="2.08" height="1.08" fill="#f4f0ee"/>
<rect x="2" y="5" width="1.08" height="1.08" fill="#f2f0ee"/>
<rect x="3" y="5" width="1.08" height="1.08" fill="#f2eeec"/>
<rect x="4" y="5" width="1.08" height="1.08" fill="#f0ecea"/>
<rect x="5" y="5" width="1.08" height="1.08" fill="#f0ece8"/>
<rect x="6" y="5" width="1.08" height="1.08" fill="#eeeae4"/>
<rect x="7" y="5" width="1.08" height="1.08" fill="#ece8e2"/>
<rect x="8" y="5" width="1.08" height="1.08" fill="#ece6e0"/>
<rect x="9" y="5" width="1.08" height="1.08" fill="#eae6de"/>
<rect x="10" y="5" width="1.08" height="1.08" fill="#eae4dc"/>
<rect x="11" y="5" width="1.08" height="1.08" fill="#e8e2da"/>
<rect x="12" y="5" width="1.08" height="1.08" fill="#eae4de"/>
<rect x="13" y="5" width="1.08" height="1.08" fill="#eae6e0"/>
<rect x="14" y="5" width="1.08" height="1.08" fill="#ece8e2"/>
<rect x="15" y="5" width="1.08" height="1.08" fill="#eee8e4"/>
<rect x="16" y="5" width="1.08" height="1.08" fill="#eeeae6"/>
<rect x="17" y="5" width="1.08" height="1.08" fill="#f0ece8"/>
<rect x="38" y="5" width="4.08" height="1.08" fill="#f4f0f0"/>
<rect x="0" y="6" width="2.08" height="1.08" fill="#f4f0ee"/>
<rect x="2" y="6" width="1.08" height="1.08" fill="#f2f0ee"/>
<rect x="3" y="6" width="1.08" height="1.08" fill="#f2eeec"/>
<rect x="4" y="6" width="1.08" height="1.08" fill="#f0ecea"/>
<rect x="5" y="6" width="1.08" height="1.08" fill="#f0ece8"/>
<rect x="6" y="6" width="1.08" height="1.08" fill="#eeeae6"/>
<rect x="7" y="6" width="1.08" height="1.08" fill="#ece8e4"/>
<rect x="8" y="6" width="1.08" height="1.08" fill="#ece6e2"/>
<rect x="9" y="6" width="1.08" height="1.08" fill="#eae6e0"/>
<rect x="10" y="6" width="1.08" height="1.08" fill="#eae4de"/>
<rect x="11" y="6" width="1.08" height="1.08" fill="#e8e4dc"/>
<rect x="12" y="6" width="1.08" height="1.08" fill="#eae4de"/>
<rect x="13" y="6" width="1.08" height="1.08" fill="#ece6e0"/>
<rect x="14" y="6" width="1.08" height="1.08" fill="#ece8e2"/>
<rect x="15" y="6" width="1.08" height="1.08" fill="#eee8e4"/>
<rect x="16" y="6" width="1.08" height="1.08" fill="#eeeae6"/>
<rect x="17" y="6" width="1.08" height="1.08" fill="#f0ece8"/>
<rect x="34" y="6" width="2.08" height="1.08" fill="#f2f0f0"/>
<rect x="36" y="6" width="1.08" height="1.08" fill="#f2f0ee"/>
<rect x="37" y="6" width="5.08" height="1.08" fill="#f4f0ee"/>
<rect x="0" y="7" width="2.08" height="1.08" fill="#f4f0ee"/>
<rect x="2" y="7" width="1.08" height="1.08" fill="#f2f0ee"/>
<rect x="3" y="7" width="1.08" height="1.08" fill="#f2eeec"/>
<rect x="4" y="7" width="1.08" height="1.08" fill="#f0ecea"/>
<rect x="5" y="7" width="1.08" height="1.08" fill="#f0ece8"/>
<rect x="6" y="7" width="1.08" height="1.08" fill="#eeeae6"/>
<rect x="7" y="7" width="1.08" height="1.08" fill="#eee8e4"/>
<rect x="8" y="7" width="1.08" height="1.08" fill="#ece8e2"/>
<rect x="9" y="7" width="1.08" height="1.08" fill="#eae6e0"/>
<rect x="10" y="7" width="1.08" height="1.08" fill="#eae4de"/>
<rect x="11" y="7" width="1.08" height="1.08" fill="#eae4dc"/>
<rect x="12" y="7" width="1.08" height="1.08" fill="#eae4de"/>
<rect x="13" y="7" width="1.08" height="1.08" fill="#ece6e0"/>
<rect x="14" y="7" width="1.08" height="1.08" fill="#ece8e2"/>
<rect x="15" y="7" width="1.08" height="1.08" fill="#eee8e4"/>
<rect x="16" y="7" width="1.08" height="1.08" fill="#eeeae6"/>
<rect x="17" y="7" width="1.08" height="1.08" fill="#f0ece8"/>
<rect x="34" y="7" width="5.08" height="1.08" fill="#f2f0ee"/>
<rect x="39" y="7" width="3.08" height="1.08" fill="#f4f0ee"/>
<rect x="0" y="8" width="2.08" height="1.08" fill="#f4f0ee"/>
<rect x="2" y="8" width="1.08" height="1.08" fill="#f2f0ee"/>
<rect x="3" y="8" width="1.08" height="1.08" fill="#f2eeec"/>
<rect x="4" y="8" width="1.08" height="1.08" fill="#f0ecea"/>
<rect x="5" y="8" width="1.08" height="1.08" fill="#f0ece8"/>
<rect x="6" y="8" width="1.08" height="1.08" fill="#eeeae6"/>
<rect x="7" y="8" width="1.08" height="1.08" fill="#eeeae4"/>
<rect x="8" y="8" width="1.08" height="1.08" fill="#ece8e2"/>
<rect x="9" y="8" width="1.08" height="1.08" fill="#ece6e0"/>
<rect x="10" y="8" width="1.08" height="1.08" fill="#eae6de"/>
<rect x="11" y="8" width="1.08" height="1.08" fill="#eae4de"/>
<rect x="12" y="8" width="1.08" height="1.08" fill="#eae6e0"/>
<rect x="13" y="8" width="1.08" height="1.08" fill="#ece6e2"/>
<rect x="14" y="8" width="1.08" height="1.08" fill="#ece8e2"/>
<rect x="15" y="8" width="1.08" height="1.08" fill="#eee8e4"/>
<rect x="16" y="8" width="1.08" height="1.08" fill="#eeeae6"/>
<rect x="17" y="8" width="1.08" height="1.08" fill="#eeece8"/>
<rect x="32" y="8" width="1.08" height="1.08" fill="#f0f0f0"/>
<rect x="33" y="8" width="9.08" height="1.08" fill="#f2f0ee"/>
<rect x="0" y="9" width="2.08" height="1.08" fill="#f4f0ee"/>
<rect x="2" y="9" width="1.08" height="1.08" fill="#f2f0ee"/>
<rect x="3" y="9" width="1.08" height="1.08" fill="#f2eeec"/>
<rect x="4" y="9" width="1.08" height="1.08" fill="#f0eeea"/>
<rect x="5" y="9" width="1.08" height="1.08" fill="#f0ece8"/>
<rect x="6" y="9" width="1.08" height="1.08" fill="#eeeae6"/>
<rect x="7" y="9" width="1.08" height="1.08" fill="#eeeae4"/>
<rect x="8" y="9" width="1.08" height="1.08" fill="#ece8e4"/>
<rect x="9" y="9" width="1.08" height="1.08" fill="#ece6e2"/>
<rect x="10" y="9" width="1.08" height="1.08" fill="#eae6e0"/>
<rect x="11" y="9" width="1.08" height="1.08" fill="#eae4de"/>
<rect x="12" y="9" width="1.08" height="1.08" fill="#eae6e0"/>
<rect x="13" y="9" width="1.08" height="1.08" fill="#ece6e2"/>
<rect x="14" y="9" width="2.08" height="1.08" fill="#ece8e4"/>
<rect x="16" y="9" width="1.08" height="1.08" fill="#eeeae6"/>
<rect x="17" y="9" width="1.08" height="1.08" fill="#eeece8"/>
<rect x="32" y="9" width="1.08" height="1.08" fill="#f0f0ee"/>
<rect x="33" y="9" width="9.08" height="1.08" fill="#f2f0ee"/>
<rect x="0" y="10" width="2.08" height="1.08" fill="#f4f0ee"/>
<rect x="2" y="10" width="1.08" height="1.08" fill="#f2f0ee"/>
<rect x="3" y="10" width="1.08" height="1.08" fill="#f2eeec"/>
<rect x="4" y="10" width="1.08" height="1.08" fill="#f0eeea"/>
<rect x="5" y="10" width="1.08" height="1.08" fill="#f0ece8"/>
<rect x="6" y="10" width="1.08" height="1.08" fill="#eeeae8"/>
<rect x="7" y="10" width="1.08" height="1.08" fill="#eeeae6"/>
<rect x="8" y="10" width="1.08" height="1.08" fill="#ece8e4"/>
<rect x="9" y="10" width="1.08" height="1.08" fill="#ece8e2"/>
<rect x="10" y="10" width="3.08" height="1.08" fill="#eae6e0"/>
<rect x="13" y="10" width="1.08" height="1.08" fill="#ece8e2"/>
<rect x="14" y="10" width="2.08" height="1.08" fill="#ece8e4"/>
<rect x="16" y="10" width="1.08" height="1.08" fill="#eeeae6"/>
<rect x="17" y="10" width="1.08" height="1.08" fill="#eeeae8"/>
<rect x="18" y="10" width="1.08" height="1.08" fill="#eeece8"/>
<rect x="19" y="10" width="1.08" height="1.08" fill="#f0ecea"/>
<rect x="30" y="10" width="1.08" height="1.08" fill="#f0f0f0"/>
<rect x="31" y="10" width="5.08" height="1.08" fill="#f0f0ee"/>
<rect x="36" y="10" width="1.08" height="1.08" fill="#f2f0ee"/>
<rect x="37" y="10" width="1.08" height="1.08" fill="#f2eeee"/>
<rect x="38" y="10" width="4.08" height="1.08" fill="#f2eeec"/>
<rect x="0" y="11" width="2.08" height="1.08" fill="#f4f0ee"/>
<rect x="2" y="11" width="1.08" height="1.08" fill="#f2f0ee"/>
<rect x="3" y="11" width="1.08" height="1.08" fill="#f2eeec"/>
<rect x="4" y="11" width="1.08" height="1.08" fill="#f0eeea"/>
<rect x="5" y="11" width="1.08" height="1.08" fill="#f0ece8"/>
<rect x="6" y="11" width="1.08" height="1.08" fill="#eeece8"/>
<rect x="7" y="11" width="1.08" height="1.08" fill="#eeeae6"/>
<rect x="8" y="11" width="1.08" height="1.08" fill="#eee8e4"/>
<rect x="9" y="11" width="1.08" height="1.08" fill="#ece8e2"/>
<rect x="10" y="11" width="1.08" height="1.08" fill="#ece6e2"/>
<rect x="11" y="11" width="1.08" height="1.08" fill="#eae6e0"/>
<rect x="12" y="11" width="1.08" height="1.08" fill="#ece6e2"/>
<rect x="13" y="11" width="1.08" height="1.08" fill="#ece8e2"/>
<rect x="14" y="11" width="1.08" height="1.08" fill="#ece8e4"/>
<rect x="15" y="11" width="1.08" height="1.08" fill="#ece8e6"/>
<rect x="16" y="11" width="1.08" height="1.08" fill="#eeeae6"/>
<rect x="17" y="11" width="1.08" height="1.08" fill="#eeeae8"/>
<rect x="18" y="11" width="1.08" height="1.08" fill="#eeece8"/>
<rect x="19" y="11" width="1.08" height="1.08" fill="#eeecea"/>
<rect x="30" y="11" width="1.08" height="1.08" fill="#f0f0f0"/>
<rect x="31" y="11" width="4.08" height="1.08" fill="#f0f0ee"/>
<rect x="35" y="11" width="1.08" height="1.08" fill="#f0eeee"/>
<rect x="36" y="11" width="6.08" height="1.08" fill="#f0eeec"/>
<rect x="8" y="12" width="1.08" height="1.08" fill="#eeeae4"/>
<rect x="9" y="12" width="1.08" height="1.08" fill="#ece8e4"/>
<rect x="10" y="12" width="1.08" height="1.08" fill="#ece8e2"/>
<rect x="11" y="12" width="1.08" height="1.08" fill="#eae6e2"/>
<rect x="12" y="12" width="1.08" height="1.08" fill="#ece8e2"/>
<rect x="13" y="12" width="2.08" height="1.08" fill="#ece8e4"/>
<rect x="15" y="12" width="1.08" height="1.08" fill="#ece8e6"/>
<rect x="16" y="12" width="1.08" height="1.08" fill="#eceae6"/>
<rect x="17" y="12" width="2.08" height="1.08" fill="#eeeae8"/>
<rect x="19" y="12" width="3.08" height="1.08" fill="#eeecea"/>
<rect x="22" y="12" width="2.08" height="1.08" fill="#f0eeec"/>
<rect x="30" y="12" width="3.08" height="1.08" fill="#f0f0ee"/>
<rect x="33" y="12" width="2.08" height="1.08" fill="#f0eeee"/>
<rect x="35" y="12" width="7.08" height="1.08" fill="#f0eeec"/>
<rect x="8" y="13" width="1.08" height="1.08" fill="#eeeae6"/>
<rect x="9" y="13" width="1.08" height="1.08" fill="#ece8e4"/>
<rect x="10" y="13" width="1.08" height="1.08" fill="#ece8e2"/>
<rect x="11" y="13" width="1.08" height="1.08" fill="#ece6e2"/>
<rect x="12" y="13" width="3.08" height="1.08" fill="#ece8e4"/>
<rect x="15" y="13" width="1.08" height="1.08" fill="#ece8e6"/>
<rect x="16" y="13" width="1.08" height="1.08" fill="#eceae6"/>
<rect x="17" y="13" width="1.08" height="1.08" fill="#eceae8"/>
<rect x="18" y="13" width="1.08" height="1.08" fill="#eeeae8"/>
<rect x="19" y="13" width="1.08" height="1.08" fill="#eeece8"/>
<rect x="20" y="13" width="3.08" height="1.08" fill="#eeecea"/>
<rect x="23" y="13" width="1.08" height="1.08" fill="#eeeeec"/>
<rect x="30" y="13" width="3.08" height="1.08" fill="#f0f0ee"/>
<rect x="33" y="13" width="2.08" height="1.08" fill="#f0eeee"/>
<rect x="35" y="13" width="7.08" height="1.08" fill="#f0eeec"/>
<rect x="6" y="14" width="1.08" height="1.08" fill="#f0ece8"/>
<rect x="7" y="14" width="1.08" height="1.08" fill="#eeeae8"/>
<rect x="8" y="14" width="1.08" height="1.08" fill="#eeeae6"/>
<rect x="9" y="14" width="1.08" height="1.08" fill="#ece8e6"/>
<rect x="10" y="14" width="4.08" height="1.08" fill="#ece8e4"/>
<rect x="14" y="14" width="2.08" height="1.08" fill="#ece8e6"/>
<rect x="16" y="14" width="2.08" height="1.08" fill="#eceae6"/>
<rect x="18" y="14" width="2.08" height="1.08" fill="#eceae8"/>
<rect x="20" y="14" width="3.08" height="1.08" fill="#eeecea"/>
<rect x="23" y="14" width="1.08" height="1.08" fill="#eeecec"/>
<rect x="30" y="14" width="2.08" height="1.08" fill="#f0f0ee"/>
<rect x="32" y="14" width="2.08" height="1.08" fill="#f0eeee"/>
<rect x="34" y="14" width="4.08" height="1.08" fill="#f0eeec"/>
<rect x="38" y="14" width="4.08" height="1.08" fill="#f0ecea"/>
<rect x="6" y="15" width="1.08" height="1.08" fill="#f0ecea"/>
<rect x="7" y="15" width="1.08" height="1.08" fill="#eeece8"/>
<rect x="8" y="15" width="2.08" height="1.08" fill="#eeeae6"/>
<rect x="10" y="15" width="4.08" height="1.08" fill="#ece8e4"/>
<rect x="14" y="15" width="2.08" height="1.08" fill="#ece8e6"/>
<rect x="16" y="15" width="2.08" height="1.08" fill="#eceae6"/>
<rect x="18" y="15" width="3.08" height="1.08" fill="#eceae8"/>
<rect x="21" y="15" width="1.08" height="1.08" fill="#ececea"/>
<rect x="22" y="15" width="2.08" height="1.08" fill="#eeecea"/>
<rect x="30" y="15" width="2.08" height="1.08" fill="#f0f0ee"/>
<rect x="32" y="15" width="1.08" height="1.08" fill="#f0eeee"/>
<rect x="33" y="15" width="3.08" height="1.08" fill="#f0eeec"/>
<rect x="36" y="15" width="1.08" height="1.08" fill="#eeeeec"/>
<rect x="37" y="15" width="5.08" height="1.08" fill="#eeecea"/>
<rect x="0" y="16" width="2.08" height="1.08" fill="#f4f0ee"/>
<rect x="2" y="16" width="1.08" height="1.08" fill="#f2f0ee"/>
<rect x="3" y="16" width="2.08" height="1.08" fill="#f2eeec"/>
<rect x="5" y="16" width="1.08" height="1.08" fill="#f0eeea"/>
<rect x="6" y="16" width="1.08" height="1.08" fill="#f0ecea"/>
<rect x="7" y="16" width="1.08" height="1.08" fill="#eeece8"/>
<rect x="8" y="16" width="1.08" height="1.08" fill="#eeeae8"/>
<rect x="9" y="16" width="1.08" height="1.08" fill="#eeeae6"/>
<rect x="10" y="16" width="1.08" height="1.08" fill="#ece8e6"/>
<rect x="11" y="16" width="1.08" height="1.08" fill="#ece8e4"/>
<rect x="12" y="16" width="2.08" height="1.08" fill="#ece8e6"/>
<rect x="14" y="16" width="3.08" height="1.08" fill="#eceae6"/>
<rect x="17" y="16" width="4.08" height="1.08" fill="#eceae8"/>
<rect x="21" y="16" width="1.08" height="1.08" fill="#eceaea"/>
<rect x="22" y="16" width="2.08" height="1.08" fill="#eeecea"/>
<rect x="30" y="16" width="2.08" height="1.08" fill="#f0eeee"/>
<rect x="32" y="16" width="2.08" height="1.08" fill="#f0eeec"/>
<rect x="34" y="16" width="1.08" height="1.08" fill="#eeeeec"/>
<rect x="35" y="16" width="1.08" height="1.08" fill="#eeecec"/>
<rect x="36" y="16" width="6.08" height="1.08" fill="#eeecea"/>
<rect x="0" y="17" width="2.08" height="1.08" fill="#f4f0ee"/>
<rect x="2" y="17" width="1.08" height="1.08" fill="#f2f0ee"/>
<rect x="3" y="17" width="2.08" height="1.08" fill="#f2eeec"/>
<rect x="5" y="17" width="1.08" height="1.08" fill="#f0eeea"/>
<rect x="6" y="17" width="1.08" height="1.08" fill="#f0ecea"/>
<rect x="7" y="17" width="1.08" height="1.08" fill="#f0ece8"/>
<rect x="8" y="17" width="1.08" height="1.08" fill="#eeeae8"/>
<rect x="9" y="17" width="1.08" height="1.08" fill="#eeeae6"/>
<rect x="10" y="17" width="1.08" height="1.08" fill="#eceae6"/>
<rect x="11" y="17" width="1.08" height="1.08" fill="#ece8e6"/>
<rect x="12" y="17" width="4.08" height="1.08" fill="#eceae6"/>
<rect x="16" y="17" width="5.08" height="1.08" fill="#eceae8"/>
<rect x="21" y="17" width="3.08" height="1.08" fill="#eeecea"/>
<rect x="30" y="17" width="2.08" height="1.08" fill="#eeeeec"/>
<rect x="32" y="17" width="2.08" height="1.08" fill="#eeecec"/>
<rect x="34" y="17" width="2.08" height="1.08" fill="#ececea"/>
<rect x="36" y="17" width="2.08" height="1.08" fill="#eceaea"/>
<rect x="38" y="17" width="4.08" height="1.08" fill="#eceae8"/>
<rect x="0" y="18" width="2.08" height="1.08" fill="#f4f0ee"/>
<rect x="2" y="18" width="1.08" height="1.08" fill="#f2f0ee"/>
<rect x="3" y="18" width="2.08" height="1.08" fill="#f2eeec"/>
<rect x="5" y="18" width="1.08" height="1.08" fill="#f0eeea"/>
<rect x="6" y="18" width="1.08" height="1.08" fill="#f0ecea"/>
<rect x="7" y="18" width="1.08" height="1.08" fill="#f0ece8"/>
<rect x="8" y="18" width="1.08" height="1.08" fill="#eeece8"/>
<rect x="9" y="18" width="1.08" height="1.08" fill="#eeeae8"/>
<rect x="10" y="18" width="4.08" height="1.08" fill="#eceae6"/>
<rect x="26" y="18" width="4.08" height="1.08" fill="#eeecec"/>
<rect x="30" y="18" width="2.08" height="1.08" fill="#ececec"/>
<rect x="32" y="18" width="1.08" height="1.08" fill="#ececea"/>
<rect x="33" y="18" width="2.08" height="1.08" fill="#eceaea"/>
<rect x="35" y="18" width="1.08" height="1.08" fill="#eaeaea"/>
<rect x="36" y="18" width="1.08" height="1.08" fill="#eaeae8"/>
<rect x="37" y="18" width="5.08" height="1.08" fill="#eae8e8"/>
<rect x="0" y="19" width="2.08" height="1.08" fill="#f4f0ee"/>
<rect x="2" y="19" width="1.08" height="1.08" fill="#f2f0ee"/>
<rect x="3" y="19" width="2.08" height="1.08" fill="#f2eeec"/>
<rect x="5" y="19" width="1.08" height="1.08" fill="#f0eeec"/>
<rect x="6" y="19" width="2.08" height="1.08" fill="#f0ecea"/>
<rect x="8" y="19" width="1.08" height="1.08" fill="#eeece8"/>
<rect x="9" y="19" width="1.08" height="1.08" fill="#eeeae8"/>
<rect x="10" y="19" width="1.08" height="1.08" fill="#eeeae6"/>
<rect x="11" y="19" width="2.08" height="1.08" fill="#eceae6"/>
<rect x="13" y="19" width="1.08" height="1.08" fill="#eeeae8"/>
<rect x="26" y="19" width="1.08" height="1.08" fill="#ececea"/>
<rect x="27" y="19" width="3.08" height="1.08" fill="#ececec"/>
<rect x="30" y="19" width="1.08" height="1.08" fill="#eceaea"/>
<rect x="31" y="19" width="3.08" height="1.08" fill="#eaeaea"/>
<rect x="34" y="19" width="1.08" height="1.08" fill="#eae8e8"/>
<rect x="35" y="19" width="2.08" height="1.08" fill="#e8e8e8"/>
<rect x="37" y="19" width="1.08" height="1.08" fill="#e8e8e6"/>
<rect x="38" y="19" width="4.08" height="1.08" fill="#e8e6e6"/>
<rect x="0" y="20" width="2.08" height="1.08" fill="#f4f0ee"/>
<rect x="8" y="20" width="1.08" height="1.08" fill="#eeece8"/>
<rect x="9" y="20" width="2.08" height="1.08" fill="#eeeae8"/>
<rect x="11" y="20" width="1.08" height="1.08" fill="#eceae6"/>
<rect x="12" y="20" width="2.08" height="1.08" fill="#eeeae8"/>
<rect x="26" y="20" width="2.08" height="1.08" fill="#eceaea"/>
<rect x="28" y="20" width="3.08" height="1.08" fill="#eaeaea"/>
<rect x="31" y="20" width="1.08" height="1.08" fill="#e8e8ea"/>
<rect x="32" y="20" width="2.08" height="1.08" fill="#e8e8e8"/>
<rect x="34" y="20" width="1.08" height="1.08" fill="#e8e6e8"/>
<rect x="35" y="20" width="3.08" height="1.08" fill="#e6e6e6"/>
<rect x="38" y="20" width="1.08" height="1.08" fill="#e4e4e6"/>
<rect x="39" y="20" width="1.08" height="1.08" fill="#e6e4e6"/>
<rect x="40" y="20" width="2.08" height="1.08" fill="#e6e6e6"/>
<rect x="0" y="21" width="2.08" height="1.08" fill="#f4f0ee"/>
<rect x="8" y="21" width="1.08" height="1.08" fill="#eeecea"/>
<rect x="9" y="21" width="1.08" height="1.08" fill="#eeece8"/>
<rect x="10" y="21" width="4.08" height="1.08" fill="#eeeae8"/>
<rect x="26" y="21" width="2.08" height="1.08" fill="#eaeaea"/>
<rect x="28" y="21" width="1.08" height="1.08" fill="#eae8ea"/>
<rect x="29" y="21" width="1.08" height="1.08" fill="#e8e8ea"/>
<rect x="30" y="21" width="2.08" height="1.08" fill="#e8e8e8"/>
<rect x="32" y="21" width="1.08" height="1.08" fill="#e6e6e8"/>
<rect x="33" y="21" width="2.08" height="1.08" fill="#e6e6e6"/>
<rect x="35" y="21" width="2.08" height="1.08" fill="#e4e4e6"/>
<rect x="37" y="21" width="1.08" height="1.08" fill="#e4e4e4"/>
<rect x="38" y="21" width="3.08" height="1.08" fill="#e2e4e4"/>
<rect x="41" y="21" width="1.08" height="1.08" fill="#e4e4e4"/>
<rect x="0" y="22" width="2.08" height="1.08" fill="#f4f0ee"/>
<rect x="10" y="22" width="2.08" height="1.08" fill="#eeeae8"/>
<rect x="12" y="22" width="2.08" height="1.08" fill="#eeece8"/>
<rect x="26" y="22" width="1.08" height="1.08" fill="#eae8ea"/>
<rect x="27" y="22" width="2.08" height="1.08" fill="#e8e8e8"/>
<rect x="29" y="22" width="1.08" height="1.08" fill="#e8e6e8"/>
<rect x="30" y="22" width="2.08" height="1.08" fill="#e6e6e8"/>
<rect x="32" y="22" width="3.08" height="1.08" fill="#e4e4e6"/>
<rect x="35" y="22" width="1.08" height="1.08" fill="#e2e4e4"/>
<rect x="36" y="22" width="2.08" height="1.08" fill="#e2e2e4"/>
<rect x="38" y="22" width="4.08" height="1.08" fill="#e0e2e4"/>
<rect x="0" y="23" width="2.08" height="1.08" fill="#f4f0ee"/>
<rect x="10" y="23" width="3.08" height="1.08" fill="#eeece8"/>
<rect x="13" y="23" width="1.08" height="1.08" fill="#eeecea"/>
<rect x="26" y="23" width="1.08" height="1.08" fill="#e8e8e8"/>
<rect x="27" y="23" width="1.08" height="1.08" fill="#e8e6e8"/>
<rect x="28" y="23" width="2.08" height="1.08" fill="#e6e6e8"/>
<rect x="30" y="23" width="3.08" height="1.08" fill="#e4e4e6"/>
<rect x="33" y="23" width="2.08" height="1.08" fill="#e2e2e4"/>
<rect x="35" y="23" width="1.08" height="1.08" fill="#e0e2e4"/>
<rect x="36" y="23" width="2.08" height="1.08" fill="#e0e0e2"/>
<rect x="38" y="23" width="4.08" height="1.08" fill="#dee0e2"/>
<rect x="0" y="24" width="2.08" height="1.08" fill="#f4f0ee"/>
<rect x="10" y="24" width="2.08" height="1.08" fill="#eeecea"/>
<rect x="16" y="24" width="1.08" height="1.08" fill="#f0eeea"/>
<rect x="17" y="24" width="3.08" height="1.08" fill="#f0eeec"/>
<rect x="26" y="24" width="1.08" height="1.08" fill="#e8e6e8"/>
<rect x="27" y="24" width="1.08" height="1.08" fill="#e6e6e8"/>
<rect x="28" y="24" width="1.08" height="1.08" fill="#e6e4e6"/>
<rect x="29" y="24" width="1.08" height="1.08" fill="#e4e4e6"/>
<rect x="32" y="24" width="1.08" height="1.08" fill="#e2e2e4"/>
<rect x="33" y="24" width="1.08" height="1.08" fill="#e0e2e4"/>
<rect x="34" y="24" width="1.08" height="1.08" fill="#e0e0e4"/>
<rect x="35" y="24" width="2.08" height="1.08" fill="#dee0e2"/>
<rect x="37" y="24" width="1.08" height="1.08" fill="#dcdee2"/>
<rect x="38" y="24" width="4.08" height="1.08" fill="#dcdee0"/>
<rect x="0" y="25" width="2.08" height="1.08" fill="#f4f0ee"/>
<rect x="10" y="25" width="2.08" height="1.08" fill="#eeecea"/>
<rect x="16" y="25" width="4.08" height="1.08" fill="#f0eeec"/>
<rect x="26" y="25" width="1.08" height="1.08" fill="#e6e6e8"/>
<rect x="27" y="25" width="1.08" height="1.08" fill="#e6e4e6"/>
<rect x="28" y="25" width="1.08" height="1.08" fill="#e4e4e6"/>
<rect x="29" y="25" width="1.08" height="1.08" fill="#e2e2e6"/>
<rect x="32" y="25" width="1.08" height="1.08" fill="#e0e0e4"/>
<rect x="33" y="25" width="2.08" height="1.08" fill="#dee0e2"/>
<rect x="35" y="25" width="1.08" height="1.08" fill="#dcdee2"/>
<rect x="36" y="25" width="1.08" height="1.08" fill="#dcdee0"/>
<rect x="37" y="25" width="5.08" height="1.08" fill="#dadce0"/>
<rect x="0" y="26" width="2.08" height="1.08" fill="#f2f0ee"/>
<rect x="10" y="26" width="2.08" height="1.08" fill="#eeecea"/>
<rect x="26" y="26" width="1.08" height="1.08" fill="#e6e6e6"/>
<rect x="27" y="26" width="1.08" height="1.08" fill="#e4e4e6"/>
<rect x="28" y="26" width="1.08" height="1.08" fill="#e2e2e4"/>
<rect x="29" y="26" width="1.08" height="1.08" fill="#e0e2e4"/>
<rect x="32" y="26" width="1.08" height="1.08" fill="#dedee2"/>
<rect x="33" y="26" width="1.08" height="1.08" fill="#dcdee2"/>
<rect x="34" y="26" width="1.08" height="1.08" fill="#dcdee0"/>
<rect x="35" y="26" width="2.08" height="1.08" fill="#dadce0"/>
<rect x="37" y="26" width="1.08" height="1.08" fill="#d8dcde"/>
<rect x="38" y="26" width="4.08" height="1.08" fill="#d8dade"/>
<rect x="0" y="27" width="2.08" height="1.08" fill="#f2f0ee"/>
<rect x="10" y="27" width="2.08" height="1.08" fill="#eeecea"/>
<rect x="26" y="27" width="1.08" height="1.08" fill="#e6e4e6"/>
<rect x="27" y="27" width="1.08" height="1.08" fill="#e4e4e6"/>
<rect x="28" y="27" width="1.08" height="1.08" fill="#e2e2e4"/>
<rect x="29" y="27" width="1.08" height="1.08" fill="#e0e0e4"/>
<rect x="32" y="27" width="1.08" height="1.08" fill="#dcdee2"/>
<rect x="33" y="27" width="1.08" height="1.08" fill="#dcdce0"/>
<rect x="34" y="27" width="1.08" height="1.08" fill="#dadce0"/>
<rect x="35" y="27" width="1.08" height="1.08" fill="#d8dcde"/>
<rect x="36" y="27" width="1.08" height="1.08" fill="#d8dade"/>
<rect x="37" y="27" width="1.08" height="1.08" fill="#d6dade"/>
<rect x="38" y="27" width="1.08" height="1.08" fill="#d6d8de"/>
<rect x="39" y="27" width="3.08" height="1.08" fill="#d6dade"/>
<rect x="10" y="28" width="2.08" height="1.08" fill="#eeecea"/>
<rect x="24" y="28" width="1.08" height="1.08" fill="#e8e8e8"/>
<rect x="25" y="28" width="1.08" height="1.08" fill="#e6e6e6"/>
<rect x="26" y="28" width="1.08" height="1.08" fill="#e4e4e6"/>
<rect x="27" y="28" width="1.08" height="1.08" fill="#e2e2e4"/>
<rect x="28" y="28" width="1.08" height="1.08" fill="#e0e0e4"/>
<rect x="29" y="28" width="1.08" height="1.08" fill="#dee0e2"/>
<rect x="30" y="28" width="1.08" height="1.08" fill="#dedee2"/>
<rect x="31" y="28" width="1.08" height="1.08" fill="#dcdee0"/>
<rect x="32" y="28" width="2.08" height="1.08" fill="#dadce0"/>
<rect x="34" y="28" width="1.08" height="1.08" fill="#d8dade"/>
<rect x="35" y="28" width="1.08" height="1.08" fill="#d6dade"/>
<rect x="36" y="28" width="1.08" height="1.08" fill="#d6d8dc"/>
<rect x="37" y="28" width="5.08" height="1.08" fill="#d4d8dc"/>
<rect x="10" y="29" width="2.08" height="1.08" fill="#eeecea"/>
<rect x="24" y="29" width="1.08" height="1.08" fill="#e8e8e8"/>
<rect x="25" y="29" width="1.08" height="1.08" fill="#e6e6e6"/>
<rect x="26" y="29" width="1.08" height="1.08" fill="#e4e4e6"/>
<rect x="27" y="29" width="1.08" height="1.08" fill="#e2e2e4"/>
<rect x="28" y="29" width="1.08" height="1.08" fill="#e0e0e4"/>
<rect x="29" y="29" width="1.08" height="1.08" fill="#dedee2"/>
<rect x="30" y="29" width="1.08" height="1.08" fill="#dcdee2"/>
<rect x="31" y="29" width="2.08" height="1.08" fill="#dadce0"/>
<rect x="33" y="29" width="1.08" height="1.08" fill="#d8dade"/>
<rect x="34" y="29" width="1.08" height="1.08" fill="#d6dade"/>
<rect x="35" y="29" width="1.08" height="1.08" fill="#d4d8dc"/>
<rect x="36" y="29" width="1.08" height="1.08" fill="#d4d6dc"/>
<rect x="37" y="29" width="5.08" height="1.08" fill="#d2d6da"/>
<rect x="0" y="30" width="4.08" height="1.08" fill="#f0eeec"/>
<rect x="8" y="30" width="4.08" height="1.08" fill="#eeecea"/>
<rect x="24" y="30" width="1.08" height="1.08" fill="#e8e6e8"/>
<rect x="25" y="30" width="1.08" height="1.08" fill="#e6e4e6"/>
<rect x="26" y="30" width="1.08" height="1.08" fill="#e2e4e4"/>
<rect x="27" y="30" width="1.08" height="1.08" fill="#e0e2e4"/>
<rect x="28" y="30" width="1.08" height="1.08" fill="#dee0e2"/>
<rect x="29" y="30" width="1.08" height="1.08" fill="#dcdee2"/>
<rect x="30" y="30" width="1.08" height="1.08" fill="#dcdce0"/>
<rect x="31" y="30" width="1.08" height="1.08" fill="#dadce0"/>
<rect x="32" y="30" width="1.08" height="1.08" fill="#d8dade"/>
<rect x="33" y="30" width="1.08" height="1.08" fill="#d6d8de"/>
<rect x="34" y="30" width="1.08" height="1.08" fill="#d4d8dc"/>
<rect x="35" y="30" width="1.08" height="1.08" fill="#d2d6dc"/>
<rect x="36" y="30" width="1.08" height="1.08" fill="#d2d6da"/>
<rect x="37" y="30" width="1.08" height="1.08" fill="#d0d4d8"/>
<rect x="38" y="30" width="4.08" height="1.08" fill="#ced4d8"/>
<rect x="0" y="31" width="4.08" height="1.08" fill="#f0eeec"/>
<rect x="8" y="31" width="4.08" height="1.08" fill="#eeecea"/>
<rect x="24" y="31" width="1.08" height="1.08" fill="#e6e6e8"/>
<rect x="25" y="31" width="1.08" height="1.08" fill="#e4e4e6"/>
<rect x="26" y="31" width="1.08" height="1.08" fill="#e2e2e4"/>
<rect x="27" y="31" width="1.08" height="1.08" fill="#e0e0e4"/>
<rect x="28" y="31" width="1.08" height="1.08" fill="#dedee2"/>
<rect x="29" y="31" width="1.08" height="1.08" fill="#dcdee0"/>
<rect x="30" y="31" width="1.08" height="1.08" fill="#dadce0"/>
<rect x="31" y="31" width="1.08" height="1.08" fill="#d8dade"/>
<rect x="32" y="31" width="1.08" height="1.08" fill="#d6dade"/>
<rect x="33" y="31" width="1.08" height="1.08" fill="#d4d8dc"/>
<rect x="34" y="31" width="1.08" height="1.08" fill="#d2d6da"/>
<rect x="35" y="31" width="1.08" height="1.08" fill="#d0d4da"/>
<rect x="36" y="31" width="1.08" height="1.08" fill="#d0d4d8"/>
<rect x="37" y="31" width="1.08" height="1.08" fill="#ced2d8"/>
<rect x="38" y="31" width="4.08" height="1.08" fill="#ccd2d6"/>
<rect x="0" y="32" width="2.08" height="1.08" fill="#f0eeec"/>
<rect x="4" y="32" width="1.08" height="1.08" fill="#eeecec"/>
<rect x="5" y="32" width="5.08" height="1.08" fill="#eeecea"/>
<rect x="20" y="32" width="1.08" height="1.08" fill="#f0eeec"/>
<rect x="21" y="32" width="1.08" height="1.08" fill="#eeecea"/>
<rect x="22" y="32" width="1.08" height="1.08" fill="#eaeaea"/>
<rect x="23" y="32" width="1.08" height="1.08" fill="#e8e8e8"/>
<rect x="24" y="32" width="1.08" height="1.08" fill="#e6e6e6"/>
<rect x="25" y="32" width="1.08" height="1.08" fill="#e4e4e6"/>
<rect x="26" y="32" width="1.08" height="1.08" fill="#e2e2e4"/>
<rect x="27" y="32" width="1.08" height="1.08" fill="#e0e0e2"/>
<rect x="28" y="32" width="1.08" height="1.08" fill="#dcdee2"/>
<rect x="29" y="32" width="1.08" height="1.08" fill="#dadce0"/>
<rect x="30" y="32" width="1.08" height="1.08" fill="#d8dade"/>
<rect x="31" y="32" width="1.08" height="1.08" fill="#d6dade"/>
<rect x="32" y="32" width="1.08" height="1.08" fill="#d4d8dc"/>
<rect x="33" y="32" width="1.08" height="1.08" fill="#d2d6da"/>
<rect x="34" y="32" width="1.08" height="1.08" fill="#d0d4da"/>
<rect x="35" y="32" width="1.08" height="1.08" fill="#ced4d8"/>
<rect x="36" y="32" width="1.08" height="1.08" fill="#ccd2d8"/>
<rect x="37" y="32" width="1.08" height="1.08" fill="#ccd0d6"/>
<rect x="38" y="32" width="4.08" height="1.08" fill="#cad0d6"/>
<rect x="0" y="33" width="2.08" height="1.08" fill="#f0eeec"/>
<rect x="4" y="33" width="6.08" height="1.08" fill="#eeecea"/>
<rect x="20" y="33" width="1.08" height="1.08" fill="#f0eeec"/>
<rect x="21" y="33" width="1.08" height="1.08" fill="#eeecea"/>
<rect x="22" y="33" width="1.08" height="1.08" fill="#eaeaea"/>
<rect x="23" y="33" width="1.08" height="1.08" fill="#e8e8e8"/>
<rect x="24" y="33" width="1.08" height="1.08" fill="#e6e6e6"/>
<rect x="25" y="33" width="1.08" height="1.08" fill="#e4e4e6"/>
<rect x="26" y="33" width="1.08" height="1.08" fill="#e0e2e4"/>
<rect x="27" y="33" width="1.08" height="1.08" fill="#dee0e2"/>
<rect x="28" y="33" width="1.08" height="1.08" fill="#dcdee0"/>
<rect x="29" y="33" width="1.08" height="1.08" fill="#dadce0"/>
<rect x="30" y="33" width="1.08" height="1.08" fill="#d8dade"/>
<rect x="31" y="33" width="1.08" height="1.08" fill="#d6d8dc"/>
<rect x="32" y="33" width="1.08" height="1.08" fill="#d4d6dc"/>
<rect x="33" y="33" width="1.08" height="1.08" fill="#d2d6da"/>
<rect x="34" y="33" width="1.08" height="1.08" fill="#ced4d8"/>
<rect x="35" y="33" width="1.08" height="1.08" fill="#ccd2d8"/>
<rect x="36" y="33" width="1.08" height="1.08" fill="#cad0d6"/>
<rect x="37" y="33" width="5.08" height="1.08" fill="#c8ced4"/>
<rect x="2" y="34" width="6.08" height="1.08" fill="#eeecea"/>
<rect x="20" y="34" width="1.08" height="1.08" fill="#f0eeec"/>
<rect x="21" y="34" width="1.08" height="1.08" fill="#ececea"/>
<rect x="22" y="34" width="1.08" height="1.08" fill="#eaeaea"/>
<rect x="23" y="34" width="1.08" height="1.08" fill="#e8e8e8"/>
<rect x="24" y="34" width="1.08" height="1.08" fill="#e6e6e6"/>
<rect x="25" y="34" width="1.08" height="1.08" fill="#e2e4e4"/>
<rect x="26" y="34" width="1.08" height="1.08" fill="#e0e2e4"/>
<rect x="27" y="34" width="1.08" height="1.08" fill="#dedee2"/>
<rect x="28" y="34" width="1.08" height="1.08" fill="#dadce0"/>
<rect x="29" y="34" width="1.08" height="1.08" fill="#d8dade"/>
<rect x="30" y="34" width="1.08" height="1.08" fill="#d6dade"/>
<rect x="31" y="34" width="1.08" height="1.08" fill="#d4d8dc"/>
<rect x="32" y="34" width="1.08" height="1.08" fill="#d2d6da"/>
<rect x="33" y="34" width="1.08" height="1.08" fill="#d0d4d8"/>
<rect x="34" y="34" width="1.08" height="1.08" fill="#ced2d8"/>
<rect x="35" y="34" width="1.08" height="1.08" fill="#cad0d6"/>
<rect x="36" y="34" width="1.08" height="1.08" fill="#c8ced4"/>
<rect x="37" y="34" width="5.08" height="1.08" fill="#c6ccd2"/>
<rect x="2" y="35" width="6.08" height="1.08" fill="#eeecea"/>
<rect x="20" y="35" width="1.08" height="1.08" fill="#f0eeec"/>
<rect x="21" y="35" width="1.08" height="1.08" fill="#ececea"/>
<rect x="22" y="35" width="1.08" height="1.08" fill="#eaeae8"/>
<rect x="23" y="35" width="1.08" height="1.08" fill="#e8e8e8"/>
<rect x="24" y="35" width="1.08" height="1.08" fill="#e4e4e6"/>
<rect x="25" y="35" width="1.08" height="1.08" fill="#e2e2e4"/>
<rect x="26" y="35" width="1.08" height="1.08" fill="#e0e0e2"/>
<rect x="27" y="35" width="1.08" height="1.08" fill="#dcdee2"/>
<rect x="28" y="35" width="1.08" height="1.08" fill="#dadce0"/>
<rect x="29" y="35" width="1.08" height="1.08" fill="#d8dade"/>
<rect x="30" y="35" width="1.08" height="1.08" fill="#d4d8dc"/>
<rect x="31" y="35" width="1.08" height="1.08" fill="#d2d6da"/>
<rect x="32" y="35" width="1.08" height="1.08" fill="#d0d4da"/>
<rect x="33" y="35" width="1.08" height="1.08" fill="#ced2d8"/>
<rect x="34" y="35" width="1.08" height="1.08" fill="#ccd0d6"/>
<rect x="35" y="35" width="1.08" height="1.08" fill="#c8ced4"/>
<rect x="36" y="35" width="1.08" height="1.08" fill="#c6ccd2"/>
<rect x="37" y="35" width="1.08" height="1.08" fill="#c4cad2"/>
<rect x="38" y="35" width="2.08" height="1.08" fill="#c2cad0"/>
<rect x="40" y="35" width="2.08" height="1.08" fill="#c4cad0"/>
<rect x="0" y="36" width="6.08" height="1.08" fill="#eeecea"/>
<rect x="6" y="36" width="2.08" height="1.08" fill="#ececea"/>
<rect x="20" y="36" width="1.08" height="1.08" fill="#f0eeec"/>
<rect x="21" y="36" width="1.08" height="1.08" fill="#ececea"/>
<rect x="22" y="36" width="1.08" height="1.08" fill="#eae8e8"/>
<rect x="23" y="36" width="1.08" height="1.08" fill="#e6e6e8"/>
<rect x="24" y="36" width="1.08" height="1.08" fill="#e4e4e6"/>
<rect x="25" y="36" width="1.08" height="1.08" fill="#e2e2e4"/>
<rect x="26" y="36" width="1.08" height="1.08" fill="#dee0e2"/>
<rect x="27" y="36" width="1.08" height="1.08" fill="#dcdee0"/>
<rect x="28" y="36" width="1.08" height="1.08" fill="#d8dce0"/>
<rect x="29" y="36" width="1.08" height="1.08" fill="#d6dade"/>
<rect x="30" y="36" width="1.08" height="1.08" fill="#d4d8dc"/>
<rect x="31" y="36" width="1.08" height="1.08" fill="#d2d6da"/>
<rect x="32" y="36" width="1.08" height="1.08" fill="#ced4d8"/>
<rect x="33" y="36" width="1.08" height="1.08" fill="#ccd2d6"/>
<rect x="34" y="36" width="1.08" height="1.08" fill="#cad0d4"/>
<rect x="35" y="36" width="1.08" height="1.08" fill="#c6ced4"/>
<rect x="36" y="36" width="1.08" height="1.08" fill="#c4ccd2"/>
<rect x="37" y="36" width="1.08" height="1.08" fill="#c2cad0"/>
<rect x="38" y="36" width="4.08" height="1.08" fill="#c0c8ce"/>
<rect x="0" y="37" width="3.08" height="1.08" fill="#eeecea"/>
<rect x="3" y="37" width="2.08" height="1.08" fill="#ececea"/>
<rect x="5" y="37" width="3.08" height="1.08" fill="#eceaea"/>
<rect x="20" y="37" width="1.08" height="1.08" fill="#eeeeec"/>
<rect x="21" y="37" width="1.08" height="1.08" fill="#eceaea"/>
<rect x="22" y="37" width="1.08" height="1.08" fill="#eae8e8"/>
<rect x="23" y="37" width="1.08" height="1.08" fill="#e6e6e6"/>
<rect x="24" y="37" width="1.08" height="1.08" fill="#e4e4e4"/>
<rect x="25" y="37" width="1.08" height="1.08" fill="#e0e2e4"/>
<rect x="26" y="37" width="1.08" height="1.08" fill="#dee0e2"/>
<rect x="27" y="37" width="1.08" height="1.08" fill="#dadce0"/>
<rect x="28" y="37" width="1.08" height="1.08" fill="#d8dade"/>
<rect x="29" y="37" width="1.08" height="1.08" fill="#d4d8dc"/>
<rect x="30" y="37" width="1.08" height="1.08" fill="#d2d6da"/>
<rect x="31" y="37" width="1.08" height="1.08" fill="#d0d4da"/>
<rect x="32" y="37" width="1.08" height="1.08" fill="#ced2d8"/>
<rect x="33" y="37" width="1.08" height="1.08" fill="#cad0d6"/>
<rect x="34" y="37" width="1.08" height="1.08" fill="#c8ced4"/>
<rect x="35" y="37" width="1.08" height="1.08" fill="#c4ccd2"/>
<rect x="36" y="37" width="1.08" height="1.08" fill="#c2cad0"/>
<rect x="37" y="37" width="1.08" height="1.08" fill="#c0c8ce"/>
<rect x="38" y="37" width="4.08" height="1.08" fill="#bec6ce"/>
<rect x="0" y="38" width="2.08" height="1.08" fill="#ececea"/>
<rect x="2" y="38" width="4.08" height="1.08" fill="#eceaea"/>
<rect x="6" y="38" width="2.08" height="1.08" fill="#eaeae8"/>
<rect x="20" y="38" width="1.08" height="1.08" fill="#eeeeec"/>
<rect x="21" y="38" width="1.08" height="1.08" fill="#eceaea"/>
<rect x="22" y="38" width="1.08" height="1.08" fill="#e8e8e8"/>
<rect x="23" y="38" width="1.08" height="1.08" fill="#e4e6e6"/>
<rect x="24" y="38" width="1.08" height="1.08" fill="#e2e2e4"/>
<rect x="25" y="38" width="1.08" height="1.08" fill="#dee0e2"/>
<rect x="26" y="38" width="1.08" height="1.08" fill="#dadee0"/>
<rect x="27" y="38" width="1.08" height="1.08" fill="#d8dade"/>
<rect x="28" y="38" width="1.08" height="1.08" fill="#d4d8dc"/>
<rect x="29" y="38" width="1.08" height="1.08" fill="#d2d6da"/>
<rect x="30" y="38" width="1.08" height="1.08" fill="#d0d4da"/>
<rect x="31" y="38" width="1.08" height="1.08" fill="#ced2d8"/>
<rect x="32" y="38" width="1.08" height="1.08" fill="#ccd0d6"/>
<rect x="33" y="38" width="1.08" height="1.08" fill="#cad0d4"/>
<rect x="34" y="38" width="1.08" height="1.08" fill="#c8ced4"/>
<rect x="35" y="38" width="1.08" height="1.08" fill="#c6ccd2"/>
<rect x="36" y="38" width="1.08" height="1.08" fill="#c2cad0"/>
<rect x="37" y="38" width="2.08" height="1.08" fill="#c0c8ce"/>
<rect x="39" y="38" width="3.08" height="1.08" fill="#c0c6ce"/>
<rect x="0" y="39" width="3.08" height="1.08" fill="#eceaea"/>
<rect x="3" y="39" width="1.08" height="1.08" fill="#eceae8"/>
<rect x="4" y="39" width="3.08" height="1.08" fill="#eaeae8"/>
<rect x="7" y="39" width="1.08" height="1.08" fill="#eae8e8"/>
<rect x="20" y="39" width="1.08" height="1.08" fill="#eeecec"/>
<rect x="21" y="39" width="1.08" height="1.08" fill="#eaeaea"/>
<rect x="22" y="39" width="1.08" height="1.08" fill="#e6e6e8"/>
<rect x="23" y="39" width="1.08" height="1.08" fill="#e4e4e6"/>
<rect x="24" y="39" width="1.08" height="1.08" fill="#e0e2e2"/>
<rect x="25" y="39" width="1.08" height="1.08" fill="#dcdee0"/>
<rect x="26" y="39" width="1.08" height="1.08" fill="#d8dcde"/>
<rect x="27" y="39" width="1.08" height="1.08" fill="#d4d8dc"/>
<rect x="28" y="39" width="1.08" height="1.08" fill="#d2d6da"/>
<rect x="29" y="39" width="1.08" height="1.08" fill="#ced4da"/>
<rect x="30" y="39" width="1.08" height="1.08" fill="#ced2d8"/>
<rect x="31" y="39" width="1.08" height="1.08" fill="#ccd2d6"/>
<rect x="32" y="39" width="1.08" height="1.08" fill="#cad0d6"/>
<rect x="33" y="39" width="2.08" height="1.08" fill="#c8ced4"/>
<rect x="35" y="39" width="1.08" height="1.08" fill="#c6ccd2"/>
<rect x="36" y="39" width="1.08" height="1.08" fill="#c4cad0"/>
<rect x="37" y="39" width="1.08" height="1.08" fill="#c2c8d0"/>
<rect x="38" y="39" width="4.08" height="1.08" fill="#c2c8ce"/>
<rect x="0" y="40" width="2.08" height="1.08" fill="#eceaea"/>
<rect x="2" y="40" width="3.08" height="1.08" fill="#eaeae8"/>
<rect x="5" y="40" width="1.08" height="1.08" fill="#eae8e8"/>
<rect x="6" y="40" width="2.08" height="1.08" fill="#e8e8e8"/>
<rect x="20" y="40" width="1.08" height="1.08" fill="#eeecec"/>
<rect x="21" y="40" width="1.08" height="1.08" fill="#eaeae8"/>
<rect x="22" y="40" width="1.08" height="1.08" fill="#e6e6e6"/>
<rect x="23" y="40" width="1.08" height="1.08" fill="#e2e2e4"/>
<rect x="24" y="40" width="1.08" height="1.08" fill="#dee0e2"/>
<rect x="25" y="40" width="1.08" height="1.08" fill="#dadce0"/>
<rect x="26" y="40" width="1.08" height="1.08" fill="#d6dade"/>
<rect x="27" y="40" width="1.08" height="1.08" fill="#d2d6dc"/>
<rect x="28" y="40" width="1.08" height="1.08" fill="#ced4d8"/>
<rect x="29" y="40" width="1.08" height="1.08" fill="#ccd2d8"/>
<rect x="30" y="40" width="2.08" height="1.08" fill="#cad0d6"/>
<rect x="32" y="40" width="2.08" height="1.08" fill="#c8ced4"/>
<rect x="34" y="40" width="2.08" height="1.08" fill="#c6ccd2"/>
<rect x="36" y="40" width="2.08" height="1.08" fill="#c4cad0"/>
<rect x="38" y="40" width="4.08" height="1.08" fill="#c2cad0"/>
<rect x="0" y="41" width="3.08" height="1.08" fill="#eaeae8"/>
<rect x="3" y="41" width="1.08" height="1.08" fill="#eae8e8"/>
<rect x="4" y="41" width="3.08" height="1.08" fill="#e8e8e8"/>
<rect x="7" y="41" width="1.08" height="1.08" fill="#e6e6e6"/>
<rect x="20" y="41" width="1.08" height="1.08" fill="#eeecec"/>
<rect x="21" y="41" width="1.08" height="1.08" fill="#eae8e8"/>
<rect x="22" y="41" width="1.08" height="1.08" fill="#e4e6e6"/>
<rect x="23" y="41" width="1.08" height="1.08" fill="#e0e2e4"/>
<rect x="24" y="41" width="1.08" height="1.08" fill="#dcdee0"/>
<rect x="25" y="41" width="1.08" height="1.08" fill="#d8dade"/>
<rect x="26" y="41" width="1.08" height="1.08" fill="#d4d8dc"/>
<rect x="27" y="41" width="1.08" height="1.08" fill="#ced4da"/>
<rect x="28" y="41" width="1.08" height="1.08" fill="#cad0d8"/>
<rect x="29" y="41" width="1.08" height="1.08" fill="#c8d0d6"/>
<rect x="30" y="41" width="1.08" height="1.08" fill="#c8ced6"/>
<rect x="31" y="41" width="3.08" height="1.08" fill="#c8ced4"/>
<rect x="34" y="41" width="3.08" height="1.08" fill="#c6ccd2"/>
<rect x="37" y="41" width="5.08" height="1.08" fill="#c4cad0"/>
<rect x="0" y="42" width="2.08" height="1.08" fill="#eaeae8"/>
<rect x="2" y="42" width="1.08" height="1.08" fill="#eae8e8"/>
<rect x="3" y="42" width="3.08" height="1.08" fill="#e8e8e8"/>
<rect x="6" y="42" width="2.08" height="1.08" fill="#e6e6e6"/>
<rect x="18" y="42" width="2.08" height="1.08" fill="#f0eeec"/>
<rect x="20" y="42" width="1.08" height="1.08" fill="#eeecea"/>
<rect x="21" y="42" width="1.08" height="1.08" fill="#e8e8e8"/>
<rect x="22" y="42" width="1.08" height="1.08" fill="#e4e4e6"/>
<rect x="23" y="42" width="1.08" height="1.08" fill="#dee0e2"/>
<rect x="24" y="42" width="1.08" height="1.08" fill="#dadce0"/>
<rect x="25" y="42" width="1.08" height="1.08" fill="#d6dade"/>
<rect x="26" y="42" width="1.08" height="1.08" fill="#d0d6da"/>
<rect x="27" y="42" width="1.08" height="1.08" fill="#ccd2d8"/>
<rect x="28" y="42" width="1.08" height="1.08" fill="#c8ced6"/>
<rect x="29" y="42" width="4.08" height="1.08" fill="#c6ccd4"/>
<rect x="33" y="42" width="4.08" height="1.08" fill="#c6ccd2"/>
<rect x="37" y="42" width="5.08" height="1.08" fill="#c6ccd0"/>
<rect x="0" y="43" width="2.08" height="1.08" fill="#eae8e8"/>
<rect x="2" y="43" width="2.08" height="1.08" fill="#e8e8e8"/>
<rect x="4" y="43" width="1.08" height="1.08" fill="#e6e6e8"/>
<rect x="5" y="43" width="2.08" height="1.08" fill="#e6e6e6"/>
<rect x="7" y="43" width="1.08" height="1.08" fill="#e4e4e6"/>
<rect x="18" y="43" width="1.08" height="1.08" fill="#eeeeec"/>
<rect x="19" y="43" width="1.08" height="1.08" fill="#f0eeec"/>
<rect x="20" y="43" width="1.08" height="1.08" fill="#ececea"/>
<rect x="21" y="43" width="1.08" height="1.08" fill="#e8e8e8"/>
<rect x="22" y="43" width="1.08" height="1.08" fill="#e2e4e4"/>
<rect x="23" y="43" width="1.08" height="1.08" fill="#dee0e2"/>
<rect x="24" y="43" width="1.08" height="1.08" fill="#d8dcde"/>
<rect x="25" y="43" width="1.08" height="1.08" fill="#d4d8dc"/>
<rect x="26" y="43" width="1.08" height="1.08" fill="#ced4da"/>
<rect x="27" y="43" width="1.08" height="1.08" fill="#cad0d6"/>
<rect x="28" y="43" width="1.08" height="1.08" fill="#c4ccd4"/>
<rect x="29" y="43" width="2.08" height="1.08" fill="#c4cad2"/>
<rect x="31" y="43" width="2.08" height="1.08" fill="#c4ccd2"/>
<rect x="33" y="43" width="3.08" height="1.08" fill="#c6ccd2"/>
<rect x="36" y="43" width="6.08" height="1.08" fill="#c8ccd2"/>
<rect x="0" y="44" width="3.08" height="1.08" fill="#e8e8e8"/>
<rect x="3" y="44" width="1.08" height="1.08" fill="#e6e6e8"/>
<rect x="4" y="44" width="1.08" height="1.08" fill="#e6e6e6"/>
<rect x="5" y="44" width="1.08" height="1.08" fill="#e4e6e6"/>
<rect x="6" y="44" width="1.08" height="1.08" fill="#e4e4e6"/>
<rect x="7" y="44" width="1.08" height="1.08" fill="#e4e4e4"/>
<rect x="18" y="44" width="1.08" height="1.08" fill="#eeeeec"/>
<rect x="19" y="44" width="1.08" height="1.08" fill="#f0eeec"/>
<rect x="20" y="44" width="1.08" height="1.08" fill="#ececea"/>
<rect x="21" y="44" width="1.08" height="1.08" fill="#e6e8e8"/>
<rect x="22" y="44" width="1.08" height="1.08" fill="#e2e2e4"/>
<rect x="23" y="44" width="1.08" height="1.08" fill="#dcdee0"/>
<rect x="24" y="44" width="1.08" height="1.08" fill="#d6dade"/>
<rect x="25" y="44" width="1.08" height="1.08" fill="#d2d6da"/>
<rect x="26" y="44" width="1.08" height="1.08" fill="#ccd2d8"/>
<rect x="27" y="44" width="1.08" height="1.08" fill="#c6ced4"/>
<rect x="28" y="44" width="1.08" height="1.08" fill="#c0cad2"/>
<rect x="29" y="44" width="1.08" height="1.08" fill="#c0c8d0"/>
<rect x="30" y="44" width="1.08" height="1.08" fill="#c2cad0"/>
<rect x="31" y="44" width="1.08" height="1.08" fill="#c2cad2"/>
<rect x="32" y="44" width="1.08" height="1.08" fill="#c4cad2"/>
<rect x="33" y="44" width="1.08" height="1.08" fill="#c4ccd2"/>
<rect x="34" y="44" width="1.08" height="1.08" fill="#c6ccd2"/>
<rect x="35" y="44" width="2.08" height="1.08" fill="#c8ccd2"/>
<rect x="37" y="44" width="5.08" height="1.08" fill="#caced2"/>
<rect x="0" y="45" width="3.08" height="1.08" fill="#e8e8e8"/>
<rect x="3" y="45" width="1.08" height="1.08" fill="#e6e6e6"/>
<rect x="4" y="45" width="1.08" height="1.08" fill="#e4e6e6"/>
<rect x="5" y="45" width="1.08" height="1.08" fill="#e4e4e6"/>
<rect x="6" y="45" width="2.08" height="1.08" fill="#e2e4e4"/>
<rect x="18" y="45" width="1.08" height="1.08" fill="#eeeeec"/>
<rect x="19" y="45" width="1.08" height="1.08" fill="#f0eeec"/>
<rect x="20" y="45" width="1.08" height="1.08" fill="#ececea"/>
<rect x="21" y="45" width="1.08" height="1.08" fill="#e6e6e6"/>
<rect x="22" y="45" width="1.08" height="1.08" fill="#e0e2e4"/>
<rect x="23" y="45" width="1.08" height="1.08" fill="#dadee0"/>
<rect x="24" y="45" width="1.08" height="1.08" fill="#d4d8dc"/>
<rect x="25" y="45" width="1.08" height="1.08" fill="#ced4da"/>
<rect x="26" y="45" width="1.08" height="1.08" fill="#cad0d6"/>
<rect x="27" y="45" width="1.08" height="1.08" fill="#c4ccd2"/>
<rect x="28" y="45" width="2.08" height="1.08" fill="#bec6d0"/>
<rect x="30" y="45" width="2.08" height="1.08" fill="#c0c8d0"/>
<rect x="32" y="45" width="1.08" height="1.08" fill="#c2cad0"/>
<rect x="33" y="45" width="1.08" height="1.08" fill="#c4cad2"/>
<rect x="34" y="45" width="1.08" height="1.08" fill="#c6ccd2"/>
<rect x="35" y="45" width="1.08" height="1.08" fill="#c8ccd2"/>
<rect x="36" y="45" width="2.08" height="1.08" fill="#caced2"/>
<rect x="38" y="45" width="2.08" height="1.08" fill="#ccced4"/>
<rect x="40" y="45" width="2.08" height="1.08" fill="#caced4"/>
<rect x="0" y="46" width="2.08" height="1.08" fill="#e8e8e8"/>
<rect x="2" y="46" width="1.08" height="1.08" fill="#e6e8e8"/>
<rect x="3" y="46" width="1.08" height="1.08" fill="#e6e6e6"/>
<rect x="4" y="46" width="1.08" height="1.08" fill="#e4e6e6"/>
<rect x="5" y="46" width="1.08" height="1.08" fill="#e4e4e6"/>
<rect x="6" y="46" width="1.08" height="1.08" fill="#e2e4e4"/>
<rect x="7" y="46" width="1.08" height="1.08" fill="#e2e2e4"/>
<rect x="18" y="46" width="1.08" height="1.08" fill="#eeeeec"/>
<rect x="19" y="46" width="1.08" height="1.08" fill="#f0eeec"/>
<rect x="20" y="46" width="1.08" height="1.08" fill="#eceaea"/>
<rect x="21" y="46" width="1.08" height="1.08" fill="#e6e6e6"/>
<rect x="22" y="46" width="1.08" height="1.08" fill="#e0e2e2"/>
<rect x="23" y="46" width="1.08" height="1.08" fill="#dadce0"/>
<rect x="24" y="46" width="1.08" height="1.08" fill="#d4d8dc"/>
<rect x="25" y="46" width="1.08" height="1.08" fill="#ced2d8"/>
<rect x="26" y="46" width="1.08" height="1.08" fill="#c6ced4"/>
<rect x="27" y="46" width="1.08" height="1.08" fill="#c0cad2"/>
<rect x="28" y="46" width="2.08" height="1.08" fill="#bac4ce"/>
<rect x="30" y="46" width="1.08" height="1.08" fill="#bcc6ce"/>
<rect x="31" y="46" width="1.08" height="1.08" fill="#c0c6d0"/>
<rect x="32" y="46" width="1.08" height="1.08" fill="#c2c8d0"/>
<rect x="33" y="46" width="1.08" height="1.08" fill="#c4cad0"/>
<rect x="34" y="46" width="1.08" height="1.08" fill="#c6ccd2"/>
<rect x="35" y="46" width="1.08" height="1.08" fill="#c8ccd2"/>
<rect x="36" y="46" width="1.08" height="1.08" fill="#caced2"/>
<rect x="37" y="46" width="5.08" height="1.08" fill="#ccd0d4"/>
<rect x="0" y="47" width="2.08" height="1.08" fill="#e8e8e8"/>
<rect x="2" y="47" width="1.08" height="1.08" fill="#e6e8e8"/>
<rect x="3" y="47" width="1.08" height="1.08" fill="#e6e6e6"/>
<rect x="4" y="47" width="1.08" height="1.08" fill="#e4e6e6"/>
<rect x="5" y="47" width="1.08" height="1.08" fill="#e4e4e6"/>
<rect x="6" y="47" width="1.08" height="1.08" fill="#e2e4e4"/>
<rect x="7" y="47" width="1.08" height="1.08" fill="#e2e2e4"/>
<rect x="18" y="47" width="1.08" height="1.08" fill="#eeeeec"/>
<rect x="19" y="47" width="1.08" height="1.08" fill="#f0eeec"/>
<rect x="20" y="47" width="1.08" height="1.08" fill="#eceaea"/>
<rect x="21" y="47" width="1.08" height="1.08" fill="#e6e6e6"/>
<rect x="22" y="47" width="1.08" height="1.08" fill="#e0e2e2"/>
<rect x="23" y="47" width="1.08" height="1.08" fill="#dadce0"/>
<rect x="24" y="47" width="1.08" height="1.08" fill="#d4d8dc"/>
<rect x="25" y="47" width="1.08" height="1.08" fill="#ccd2d8"/>
<rect x="26" y="47" width="1.08" height="1.08" fill="#c6ced4"/>
<rect x="27" y="47" width="1.08" height="1.08" fill="#c0c8d2"/>
<rect x="28" y="47" width="2.08" height="1.08" fill="#bac4ce"/>
<rect x="30" y="47" width="1.08" height="1.08" fill="#bcc6ce"/>
<rect x="31" y="47" width="1.08" height="1.08" fill="#c0c6d0"/>
<rect x="32" y="47" width="1.08" height="1.08" fill="#c2c8d0"/>
<rect x="33" y="47" width="1.08" height="1.08" fill="#c4cad0"/>
<rect x="34" y="47" width="1.08" height="1.08" fill="#c6ccd2"/>
<rect x="35" y="47" width="1.08" height="1.08" fill="#c8ccd2"/>
<rect x="36" y="47" width="1.08" height="1.08" fill="#caced2"/>
<rect x="37" y="47" width="5.08" height="1.08" fill="#ccd0d4"/>
</g>
<g shape-rendering="crispEdges">
<rect x="26" y="12" width="18" height="18" fill="#e7e1d7"/>
<rect x="10" y="16" width="14" height="12" fill="#ece8e2"/>
<path d="M104,84 L116,86 L118,96 L112,110 L106,124 L100,138 L94,150 L82,150 L86,138 L92,124 L98,108 L102,94Z" fill="#d4d8dc"/>
<path d="M108,94 L114,96 L109,110 L103,124 L97,138 L92,146 L87,146 L92,134 L98,120 L104,106Z" fill="#b9c1c9"/>
<path d="M103,118 L107,119 L102,130 L97,140 L94,139 L98,128Z" fill="#a0adb9"/>
</g>
<rect x="159" y="-1" width="4" height="31" fill="#97b6e1"/>
<path d="M156.2,31.5 L158,30 L162.5,29 L162.5,100.5 L160.4,101.1 L158.7,102.2 L154.8,101.6 L151.9,99.4 L150.8,96 L151.4,92.6 L151.9,88.1 L150.8,85.3 L151.4,83.1 L153.6,81.4 L153.1,79.7 L150.8,76.9 L148.6,72.4 L147.6,65.5 L148.2,60 L149.1,54 L150.2,49 L151.4,43 L152.5,38.5 L153.7,35Z" fill="#97b6e1"/>
<rect x="157.8" y="36" width="3.3999999999999773" height="42.599999999999994" fill="#f0eeec"/>
<rect x="153.3" y="66.7" width="4.5" height="2.8999999999999915" fill="#f0eeec"/>
<path d="M156.00,30.70 L152.60,30.70 L148.10,31.90 L144.70,33.60 L142.40,35.80 L140.20,38.60 L137.90,42.00 L135.70,45.40 L134.00,48.70 L132.30,53.20 L131.00,58.00 L129.00,64.00 L127.50,69.00 L125.50,76.00 L122.50,83.00 L119.00,91.00 L117.00,97.00 L114.00,103.00 L111.00,107.00 L110.00,111.00 L111.00,115.00 L112.00,121.00 L115.00,124.00 L118.00,127.00 L120.00,133.00 L122.00,139.00 L124.00,145.00 L125.50,154.50 L162.50,154.50 L162.50,100.50 L161.20,101.10 L159.50,102.20 L155.60,101.60 L152.70,99.40 L151.60,96.00 L152.20,92.60 L152.70,88.10 L151.60,85.30 L152.20,83.10 L154.40,81.40 L153.90,79.70 L151.60,76.90 L149.40,72.40 L148.40,65.50 L149.00,60.00 L149.90,54.00 L151.00,49.00 L152.20,43.00 L153.30,38.50 L154.50,35.00 L156.20,31.50 L156.60,31.50 Z" fill="#efefdb"/>
<path d="M125.50,154.50 L124.00,145.00 L122.00,139.00 L120.00,133.00 L118.00,127.00 L115.00,124.00 L112.00,121.00 L111.00,115.00 L110.00,111.00 L111.00,107.00 L114.00,103.00 L117.00,97.00 L119.00,91.00 L122.50,83.00 L125.50,76.00 L127.50,69.00 L129.00,64.00 L131.00,58.00 L132.30,53.20 L134.00,48.70 L135.70,45.40 L137.90,42.00 L140.20,38.60 L142.40,35.80 L144.70,33.60 L148.10,31.90 L152.60,30.70 L156.00,30.70 L156.60,31.50 L156.20,31.50 L154.50,35.00 L153.30,38.50 L152.20,43.00 L151.00,49.00 L149.90,54.00 L149.00,60.00 L148.40,65.50 L149.40,72.40 L151.60,76.90 L153.90,79.70 L154.40,81.40 L152.20,83.10 L151.60,85.30 L152.70,88.10 L152.20,92.60 L151.60,96.00 L152.70,99.40 L155.60,101.60 L159.50,102.20 L161.20,101.10 L162.50,100.50" fill="none" stroke="#727272" stroke-width="1.15" stroke-linejoin="round"/>
<path d="M1.00,-2 L4.50,156.00 M24.17,-2 L27.52,156.00 M47.34,-2 L50.54,156.00 M70.51,-2 L73.56,156.00 M93.68,-2 L96.58,156.00 M116.85,-2 L119.60,156.00 M140.02,-2 L142.62,156.00 M163.19,-2 L165.64,156.00 M-2,14.45 L164.00,10.55 M-2,34.25 L164.00,30.35 M-2,54.05 L164.00,50.15 M-2,73.85 L164.00,69.95 M-2,93.65 L164.00,89.75 M-2,113.45 L164.00,109.55 M-2,133.25 L164.00,129.35 M-2,153.05 L164.00,149.15 M-2,172.85 L164.00,168.95" fill="none" stroke="#aeaeae" stroke-opacity="0.85" stroke-width="1.3"/>
</g></g>
<rect x="635.5" y="125.5" width="162" height="154" fill="none" stroke="#000" stroke-width="1.1"/>
<g transform="translate(878,125) scale(1.00000,1)"><g clip-path="url(#clipm)">
<rect x="0" y="0" width="162.0" height="154.0" fill="#97b6e1"/>
<g shape-rendering="crispEdges" transform="matrix(3.85000,-0.09067,0.07417,3.29833,0.8750,-5.4200)">
<rect x="0" y="2.7" width="2.08" height="0.38" fill="#f4f0ee"/>
<rect x="2" y="2.7" width="1.08" height="0.38" fill="#f2f0ee"/>
<rect x="3" y="2.7" width="1.08" height="0.38" fill="#f2eeec"/>
<rect x="4" y="2.7" width="1.08" height="0.38" fill="#f0ecea"/>
<rect x="5" y="2.7" width="1.08" height="0.38" fill="#f0ece6"/>
<rect x="6" y="2.7" width="1.08" height="0.38" fill="#eeeae4"/>
<rect x="7" y="2.7" width="1.08" height="0.38" fill="#ece8e2"/>
<rect x="8" y="2.7" width="1.08" height="0.38" fill="#ece6e0"/>
<rect x="9" y="2.7" width="1.08" height="0.38" fill="#eae4de"/>
<rect x="10" y="2.7" width="1.08" height="0.38" fill="#eae4dc"/>
<rect x="11" y="2.7" width="2.08" height="0.38" fill="#e8e2da"/>
<rect x="13" y="2.7" width="1.08" height="0.38" fill="#e8e2d8"/>
<rect x="16" y="2.7" width="2.08" height="0.38" fill="#e6e0d6"/>
<rect x="38" y="2.7" width="1.08" height="0.38" fill="#f2f0ee"/>
<rect x="39" y="2.7" width="3.08" height="0.38" fill="#f4f0ee"/>
<rect x="0" y="3" width="2.08" height="1.08" fill="#f4f0ee"/>
<rect x="2" y="3" width="1.08" height="1.08" fill="#f2f0ee"/>
<rect x="3" y="3" width="1.08" height="1.08" fill="#f2eeec"/>
<rect x="4" y="3" width="1.08" height="1.08" fill="#f0ecea"/>
<rect x="5" y="3" width="1.08" height="1.08" fill="#f0ece6"/>
<rect x="6" y="3" width="1.08" height="1.08" fill="#eeeae4"/>
<rect x="7" y="3" width="1.08" height="1.08" fill="#ece8e2"/>
<rect x="8" y="3" width="1.08" height="1.08" fill="#ece6e0"/>
<rect x="9" y="3" width="1.08" height="1.08" fill="#eae4de"/>
<rect x="10" y="3" width="1.08" height="1.08" fill="#eae4dc"/>
<rect x="11" y="3" width="2.08" height="1.08" fill="#e8e2da"/>
<rect x="13" y="3" width="1.08" height="1.08" fill="#e8e2d8"/>
<rect x="16" y="3" width="2.08" height="1.08" fill="#e6e0d6"/>
<rect x="38" y="3" width="1.08" height="1.08" fill="#f2f0ee"/>
<rect x="39" y="3" width="3.08" height="1.08" fill="#f4f0ee"/>
<rect x="0" y="4" width="2.08" height="1.08" fill="#f4f0ee"/>
<rect x="2" y="4" width="1.08" height="1.08" fill="#f2f0ee"/>
<rect x="3" y="4" width="1.08" height="1.08" fill="#f2eeec"/>
<rect x="4" y="4" width="1.08" height="1.08" fill="#f0ecea"/>
<rect x="5" y="4" width="1.08" height="1.08" fill="#f0ece6"/>
<rect x="6" y="4" width="1.08" height="1.08" fill="#eeeae4"/>
<rect x="7" y="4" width="1.08" height="1.08" fill="#ece8e2"/>
<rect x="8" y="4" width="1.08" height="1.08" fill="#ece6e0"/>
<rect x="9" y="4" width="1.08" height="1.08" fill="#eae4de"/>
<rect x="10" y="4" width="1.08" height="1.08" fill="#eae4dc"/>
<rect x="11" y="4" width="2.08" height="1.08" fill="#e8e2da"/>
<rect x="13" y="4" width="1.08" height="1.08" fill="#e8e2d8"/>
<rect x="14" y="4" width="2.08" height="1.08" fill="#e8e0d8"/>
<rect x="16" y="4" width="2.08" height="1.08" fill="#e6e0d6"/>
<rect x="38" y="4" width="1.08" height="1.08" fill="#f2f0ee"/>
<rect x="39" y="4" width="3.08" height="1.08" fill="#f4f0ee"/>
<rect x="0" y="5" width="3.08" height="1.08" fill="#f2f0ee"/>
<rect x="3" y="5" width="1.08" height="1.08" fill="#f2eeec"/>
<rect x="4" y="5" width="1.08" height="1.08" fill="#f0ecea"/>
<rect x="5" y="5" width="1.08" height="1.08" fill="#f0ece8"/>
<rect x="6" y="5" width="1.08" height="1.08" fill="#eeeae6"/>
<rect x="7" y="5" width="1.08" height="1.08" fill="#ece8e2"/>
<rect x="8" y="5" width="1.08" height="1.08" fill="#ece6e0"/>
<rect x="9" y="5" width="1.08" height="1.08" fill="#eae6de"/>
<rect x="10" y="5" width="1.08" height="1.08" fill="#eae4dc"/>
<rect x="11" y="5" width="3.08" height="1.08" fill="#e8e2da"/>
<rect x="14" y="5" width="2.08" height="1.08" fill="#e8e0d8"/>
<rect x="16" y="5" width="1.08" height="1.08" fill="#e6e0d8"/>
<rect x="17" y="5" width="1.08" height="1.08" fill="#e6e0d6"/>
<rect x="38" y="5" width="1.08" height="1.08" fill="#f2f0ee"/>
<rect x="39" y="5" width="3.08" height="1.08" fill="#f4f0ee"/>
<rect x="0" y="6" width="3.08" height="1.08" fill="#f2f0ee"/>
<rect x="3" y="6" width="1.08" height="1.08" fill="#f2eeec"/>
<rect x="4" y="6" width="1.08" height="1.08" fill="#f0ecea"/>
<rect x="5" y="6" width="1.08" height="1.08" fill="#f0ece8"/>
<rect x="6" y="6" width="1.08" height="1.08" fill="#eeeae6"/>
<rect x="7" y="6" width="1.08" height="1.08" fill="#eee8e4"/>
<rect x="8" y="6" width="1.08" height="1.08" fill="#ece8e2"/>
<rect x="9" y="6" width="1.08" height="1.08" fill="#eae6e0"/>
<rect x="10" y="6" width="1.08" height="1.08" fill="#eae4de"/>
<rect x="11" y="6" width="1.08" height="1.08" fill="#e8e4dc"/>
<rect x="12" y="6" width="1.08" height="1.08" fill="#e8e2dc"/>
<rect x="13" y="6" width="3.08" height="1.08" fill="#e8e2da"/>
<rect x="16" y="6" width="2.08" height="1.08" fill="#e6e0d8"/>
<rect x="32" y="6" width="2.08" height="1.08" fill="#f0f0ee"/>
<rect x="34" y="6" width="8.08" height="1.08" fill="#f2f0ee"/>
<rect x="0" y="7" width="3.08" height="1.08" fill="#f2f0ee"/>
<rect x="3" y="7" width="1.08" height="1.08" fill="#f2eeec"/>
<rect x="4" y="7" width="1.08" height="1.08" fill="#f0eeea"/>
<rect x="5" y="7" width="1.08" height="1.08" fill="#f0ece8"/>
<rect x="6" y="7" width="1.08" height="1.08" fill="#eeeae6"/>
<rect x="7" y="7" width="1.08" height="1.08" fill="#eeeae4"/>
<rect x="8" y="7" width="1.08" height="1.08" fill="#ece8e2"/>
<rect x="9" y="7" width="1.08" height="1.08" fill="#ece6e0"/>
<rect x="10" y="7" width="1.08" height="1.08" fill="#eae6de"/>
<rect x="11" y="7" width="1.08" height="1.08" fill="#eae4de"/>
<rect x="12" y="7" width="1.08" height="1.08" fill="#e8e4dc"/>
<rect x="13" y="7" width="2.08" height="1.08" fill="#e8e2dc"/>
<rect x="15" y="7" width="1.08" height="1.08" fill="#e8e2da"/>
<rect x="16" y="7" width="1.08" height="1.08" fill="#e6e2da"/>
<rect x="17" y="7" width="1.08" height="1.08" fill="#e6e0da"/>
<rect x="32" y="7" width="2.08" height="1.08" fill="#f0f0ee"/>
<rect x="34" y="7" width="8.08" height="1.08" fill="#f0eeee"/>
<rect x="0" y="8" width="3.08" height="1.08" fill="#f2f0ee"/>
<rect x="3" y="8" width="1.08" height="1.08" fill="#f2eeec"/>
<rect x="4" y="8" width="1.08" height="1.08" fill="#f0eeea"/>
<rect x="5" y="8" width="1.08" height="1.08" fill="#f0ece8"/>
<rect x="6" y="8" width="1.08" height="1.08" fill="#eeece8"/>
<rect x="7" y="8" width="1.08" height="1.08" fill="#eeeae6"/>
<rect x="8" y="8" width="1.08" height="1.08" fill="#ece8e4"/>
<rect x="9" y="8" width="1.08" height="1.08" fill="#ece8e2"/>
<rect x="10" y="8" width="1.08" height="1.08" fill="#eae6e0"/>
<rect x="11" y="8" width="1.08" height="1.08" fill="#eae6de"/>
<rect x="12" y="8" width="1.08" height="1.08" fill="#eae4de"/>
<rect x="13" y="8" width="1.08" height="1.08" fill="#e8e4de"/>
<rect x="14" y="8" width="1.08" height="1.08" fill="#e8e4dc"/>
<rect x="15" y="8" width="1.08" height="1.08" fill="#e8e2dc"/>
<rect x="16" y="8" width="1.08" height="1.08" fill="#e6e2dc"/>
<rect x="17" y="8" width="1.08" height="1.08" fill="#e6e0da"/>
<rect x="30" y="8" width="2.08" height="1.08" fill="#f0f0ee"/>
<rect x="32" y="8" width="5.08" height="1.08" fill="#f0eeee"/>
<rect x="37" y="8" width="5.08" height="1.08" fill="#f0eeec"/>
<rect x="0" y="9" width="3.08" height="1.08" fill="#f2f0ee"/>
<rect x="3" y="9" width="1.08" height="1.08" fill="#f2eeec"/>
<rect x="4" y="9" width="1.08" height="1.08" fill="#f0eeea"/>
<rect x="5" y="9" width="1.08" height="1.08" fill="#f0ecea"/>
<rect x="6" y="9" width="1.08" height="1.08" fill="#eeece8"/>
<rect x="7" y="9" width="1.08" height="1.08" fill="#eeeae6"/>
<rect x="8" y="9" width="1.08" height="1.08" fill="#eceae4"/>
<rect x="9" y="9" width="2.08" height="1.08" fill="#ece8e2"/>
<rect x="11" y="9" width="2.08" height="1.08" fill="#eae6e0"/>
<rect x="13" y="9" width="2.08" height="1.08" fill="#e8e4de"/>
<rect x="15" y="9" width="1.08" height="1.08" fill="#e8e2de"/>
<rect x="16" y="9" width="2.08" height="1.08" fill="#e6e2dc"/>
<rect x="30" y="9" width="1.08" height="1.08" fill="#f0f0ee"/>
<rect x="31" y="9" width="4.08" height="1.08" fill="#f0eeee"/>
<rect x="35" y="9" width="2.08" height="1.08" fill="#eeeeec"/>
<rect x="37" y="9" width="5.08" height="1.08" fill="#eeecec"/>
<rect x="0" y="10" width="3.08" height="1.08" fill="#f2f0ee"/>
<rect x="3" y="10" width="2.08" height="1.08" fill="#f0eeec"/>
<rect x="5" y="10" width="1.08" height="1.08" fill="#f0ecea"/>
<rect x="6" y="10" width="1.08" height="1.08" fill="#eeece8"/>
<rect x="7" y="10" width="2.08" height="1.08" fill="#eeeae6"/>
<rect x="9" y="10" width="1.08" height="1.08" fill="#ece8e4"/>
<rect x="10" y="10" width="1.08" height="1.08" fill="#ece8e2"/>
<rect x="11" y="10" width="1.08" height="1.08" fill="#eae6e2"/>
<rect x="12" y="10" width="2.08" height="1.08" fill="#eae6e0"/>
<rect x="14" y="10" width="1.08" height="1.08" fill="#e8e4e0"/>
<rect x="15" y="10" width="1.08" height="1.08" fill="#e8e4de"/>
<rect x="16" y="10" width="1.08" height="1.08" fill="#e6e2de"/>
<rect x="17" y="10" width="2.08" height="1.08" fill="#e6e2dc"/>
<rect x="19" y="10" width="1.08" height="1.08" fill="#e4e0dc"/>
<rect x="24" y="10" width="1.08" height="1.08" fill="#eae6e4"/>
<rect x="25" y="10" width="1.08" height="1.08" fill="#eae8e6"/>
<rect x="30" y="10" width="1.08" height="1.08" fill="#f0f0ee"/>
<rect x="31" y="10" width="2.08" height="1.08" fill="#f0eeee"/>
<rect x="33" y="10" width="1.08" height="1.08" fill="#eeeeee"/>
<rect x="34" y="10" width="1.08" height="1.08" fill="#eeeeec"/>
<rect x="35" y="10" width="7.08" height="1.08" fill="#eeecec"/>
<rect x="0" y="11" width="3.08" height="1.08" fill="#f2f0ee"/>
<rect x="3" y="11" width="2.08" height="1.08" fill="#f0eeec"/>
<rect x="5" y="11" width="1.08" height="1.08" fill="#f0eeea"/>
<rect x="6" y="11" width="2.08" height="1.08" fill="#eeece8"/>
<rect x="8" y="11" width="1.08" height="1.08" fill="#eeeae6"/>
<rect x="9" y="11" width="1.08" height="1.08" fill="#eceae4"/>
<rect x="10" y="11" width="1.08" height="1.08" fill="#ece8e4"/>
<rect x="11" y="11" width="1.08" height="1.08" fill="#ece8e2"/>
<rect x="12" y="11" width="2.08" height="1.08" fill="#eae6e2"/>
<rect x="14" y="11" width="1.08" height="1.08" fill="#e8e6e0"/>
<rect x="15" y="11" width="1.08" height="1.08" fill="#e8e4e0"/>
<rect x="16" y="11" width="1.08" height="1.08" fill="#e6e4de"/>
<rect x="17" y="11" width="1.08" height="1.08" fill="#e6e2de"/>
<rect x="18" y="11" width="1.08" height="1.08" fill="#e4e2de"/>
<rect x="19" y="11" width="1.08" height="1.08" fill="#e4e0dc"/>
<rect x="24" y="11" width="1.08" height="1.08" fill="#eae6e4"/>
<rect x="25" y="11" width="1.08" height="1.08" fill="#eae8e6"/>
<rect x="30" y="11" width="2.08" height="1.08" fill="#f0eeee"/>
<rect x="32" y="11" width="1.08" height="1.08" fill="#eeeeee"/>
<rect x="33" y="11" width="1.08" height="1.08" fill="#eeeeec"/>
<rect x="34" y="11" width="2.08" height="1.08" fill="#eeecec"/>
<rect x="36" y="11" width="2.08" height="1.08" fill="#ececec"/>
<rect x="38" y="11" width="4.08" height="1.08" fill="#eceaea"/>
<rect x="0" y="12" width="2.08" height="1.08" fill="#f2f0ee"/>
<rect x="8" y="12" width="1.08" height="1.08" fill="#eeece8"/>
<rect x="9" y="12" width="1.08" height="1.08" fill="#eeeae6"/>
<rect x="10" y="12" width="1.08" height="1.08" fill="#eceae4"/>
<rect x="11" y="12" width="1.08" height="1.08" fill="#ece8e4"/>
<rect x="12" y="12" width="1.08" height="1.08" fill="#eae8e4"/>
<rect x="13" y="12" width="1.08" height="1.08" fill="#eae6e2"/>
<rect x="14" y="12" width="1.08" height="1.08" fill="#e8e6e2"/>
<rect x="15" y="12" width="1.08" height="1.08" fill="#e8e4e0"/>
<rect x="16" y="12" width="1.08" height="1.08" fill="#e6e4e0"/>
<rect x="17" y="12" width="1.08" height="1.08" fill="#e6e2e0"/>
<rect x="18" y="12" width="1.08" height="1.08" fill="#e4e2de"/>
<rect x="19" y="12" width="1.08" height="1.08" fill="#e4e0de"/>
<rect x="20" y="12" width="1.08" height="1.08" fill="#e2e0de"/>
<rect x="21" y="12" width="1.08" height="1.08" fill="#e4e2e0"/>
<rect x="22" y="12" width="1.08" height="1.08" fill="#e6e4e2"/>
<rect x="23" y="12" width="1.08" height="1.08" fill="#e8e6e4"/>
<rect x="24" y="12" width="2.08" height="1.08" fill="#eae8e6"/>
<rect x="30" y="12" width="2.08" height="1.08" fill="#f0eeee"/>
<rect x="32" y="12" width="1.08" height="1.08" fill="#eeeeec"/>
<rect x="33" y="12" width="2.08" height="1.08" fill="#eeecec"/>
<rect x="35" y="12" width="1.08" height="1.08" fill="#ececec"/>
<rect x="36" y="12" width="1.08" height="1.08" fill="#eceaec"/>
<rect x="37" y="12" width="1.08" height="1.08" fill="#eceaea"/>
<rect x="38" y="12" width="4.08" height="1.08" fill="#eaeaea"/>
<rect x="0" y="13" width="2.08" height="1.08" fill="#f2f0ee"/>
<rect x="8" y="13" width="2.08" height="1.08" fill="#eeece8"/>
<rect x="10" y="13" width="1.08" height="1.08" fill="#eeeae6"/>
<rect x="11" y="13" width="1.08" height="1.08" fill="#eceae6"/>
<rect x="12" y="13" width="1.08" height="1.08" fill="#ece8e4"/>
<rect x="13" y="13" width="1.08" height="1.08" fill="#eae8e4"/>
<rect x="14" y="13" width="2.08" height="1.08" fill="#e8e6e2"/>
<rect x="16" y="13" width="1.08" height="1.08" fill="#e6e4e2"/>
<rect x="17" y="13" width="1.08" height="1.08" fill="#e6e4e0"/>
<rect x="18" y="13" width="2.08" height="1.08" fill="#e4e2e0"/>
<rect x="20" y="13" width="1.08" height="1.08" fill="#e2e0e0"/>
<rect x="21" y="13" width="1.08" height="1.08" fill="#e4e2e0"/>
<rect x="22" y="13" width="1.08" height="1.08" fill="#e6e4e2"/>
<rect x="23" y="13" width="1.08" height="1.08" fill="#e8e6e4"/>
<rect x="24" y="13" width="1.08" height="1.08" fill="#e8e8e6"/>
<rect x="25" y="13" width="1.08" height="1.08" fill="#eae8e8"/>
<rect x="30" y="13" width="1.08" height="1.08" fill="#f0eeee"/>
<rect x="31" y="13" width="1.08" height="1.08" fill="#f0eeec"/>
<rect x="32" y="13" width="2.08" height="1.08" fill="#eeecec"/>
<rect x="34" y="13" width="1.08" height="1.08" fill="#ececec"/>
<rect x="35" y="13" width="2.08" height="1.08" fill="#eceaea"/>
<rect x="37" y="13" width="1.08" height="1.08" fill="#eaeaea"/>
<rect x="38" y="13" width="4.08" height="1.08" fill="#eae8ea"/>
<rect x="0" y="14" width="2.08" height="1.08" fill="#f2f0ee"/>
<rect x="8" y="14" width="1.08" height="1.08" fill="#eeecea"/>
<rect x="9" y="14" width="2.08" height="1.08" fill="#eeece8"/>
<rect x="11" y="14" width="2.08" height="1.08" fill="#eceae6"/>
<rect x="13" y="14" width="2.08" height="1.08" fill="#eae8e4"/>
<rect x="15" y="14" width="1.08" height="1.08" fill="#e8e6e4"/>
<rect x="16" y="14" width="2.08" height="1.08" fill="#e6e4e2"/>
<rect x="18" y="14" width="1.08" height="1.08" fill="#e4e2e2"/>
<rect x="19" y="14" width="1.08" height="1.08" fill="#e2e2e0"/>
<rect x="20" y="14" width="1.08" height="1.08" fill="#e2e0e0"/>
<rect x="21" y="14" width="1.08" height="1.08" fill="#e4e2e2"/>
<rect x="22" y="14" width="1.08" height="1.08" fill="#e6e4e4"/>
<rect x="23" y="14" width="1.08" height="1.08" fill="#e8e6e4"/>
<rect x="30" y="14" width="1.08" height="1.08" fill="#f0eeec"/>
<rect x="31" y="14" width="1.08" height="1.08" fill="#eeeeec"/>
<rect x="32" y="14" width="1.08" height="1.08" fill="#eeecec"/>
<rect x="33" y="14" width="1.08" height="1.08" fill="#ececec"/>
<rect x="34" y="14" width="1.08" height="1.08" fill="#eceaea"/>
<rect x="35" y="14" width="2.08" height="1.08" fill="#eaeaea"/>
<rect x="37" y="14" width="1.08" height="1.08" fill="#eae8ea"/>
<rect x="38" y="14" width="4.08" height="1.08" fill="#e8e8ea"/>
<rect x="0" y="15" width="2.08" height="1.08" fill="#f2f0ee"/>
<rect x="8" y="15" width="1.08" height="1.08" fill="#eeeeea"/>
<rect x="9" y="15" width="1.08" height="1.08" fill="#eeecea"/>
<rect x="10" y="15" width="2.08" height="1.08" fill="#eeece8"/>
<rect x="12" y="15" width="1.08" height="1.08" fill="#eceae6"/>
<rect x="13" y="15" width="1.08" height="1.08" fill="#eaeae6"/>
<rect x="14" y="15" width="1.08" height="1.08" fill="#eae8e6"/>
<rect x="15" y="15" width="1.08" height="1.08" fill="#e8e6e4"/>
<rect x="16" y="15" width="1.08" height="1.08" fill="#e6e6e4"/>
<rect x="17" y="15" width="1.08" height="1.08" fill="#e4e4e4"/>
<rect x="18" y="15" width="1.08" height="1.08" fill="#e4e4e2"/>
<rect x="19" y="15" width="2.08" height="1.08" fill="#e2e2e2"/>
<rect x="21" y="15" width="1.08" height="1.08" fill="#e4e2e4"/>
<rect x="22" y="15" width="1.08" height="1.08" fill="#e6e4e4"/>
<rect x="23" y="15" width="1.08" height="1.08" fill="#e6e6e6"/>
<rect x="30" y="15" width="1.08" height="1.08" fill="#f0eeec"/>
<rect x="31" y="15" width="1.08" height="1.08" fill="#eeeeec"/>
<rect x="32" y="15" width="1.08" height="1.08" fill="#eeecec"/>
<rect x="33" y="15" width="1.08" height="1.08" fill="#ececec"/>
<rect x="34" y="15" width="1.08" height="1.08" fill="#eceaea"/>
<rect x="35" y="15" width="1.08" height="1.08" fill="#eaeaea"/>
<rect x="36" y="15" width="1.08" height="1.08" fill="#eae8ea"/>
<rect x="37" y="15" width="1.08" height="1.08" fill="#e8e8e8"/>
<rect x="38" y="15" width="4.08" height="1.08" fill="#e8e6e8"/>
<rect x="0" y="16" width="2.08" height="1.08" fill="#f2f0ee"/>
<rect x="8" y="16" width="1.08" height="1.08" fill="#f0eeea"/>
<rect x="9" y="16" width="1.08" height="1.08" fill="#eeecea"/>
<rect x="10" y="16" width="2.08" height="1.08" fill="#eeece8"/>
<rect x="12" y="16" width="1.08" height="1.08" fill="#eceae8"/>
<rect x="13" y="16" width="1.08" height="1.08" fill="#eceae6"/>
<rect x="14" y="16" width="1.08" height="1.08" fill="#eae8e6"/>
<rect x="15" y="16" width="1.08" height="1.08" fill="#e8e8e6"/>
<rect x="16" y="16" width="1.08" height="1.08" fill="#e8e6e6"/>
<rect x="17" y="16" width="1.08" height="1.08" fill="#e6e6e4"/>
<rect x="18" y="16" width="1.08" height="1.08" fill="#e4e4e4"/>
<rect x="19" y="16" width="1.08" height="1.08" fill="#e4e2e4"/>
<rect x="20" y="16" width="1.08" height="1.08" fill="#e2e2e2"/>
<rect x="21" y="16" width="1.08" height="1.08" fill="#e4e4e4"/>
<rect x="22" y="16" width="1.08" height="1.08" fill="#e6e4e6"/>
<rect x="23" y="16" width="1.08" height="1.08" fill="#e8e6e6"/>
<rect x="30" y="16" width="1.08" height="1.08" fill="#f0eeec"/>
<rect x="31" y="16" width="1.08" height="1.08" fill="#eeecec"/>
<rect x="32" y="16" width="1.08" height="1.08" fill="#ececec"/>
<rect x="33" y="16" width="1.08" height="1.08" fill="#eceaea"/>
<rect x="34" y="16" width="1.08" height="1.08" fill="#eaeaea"/>
<rect x="35" y="16" width="1.08" height="1.08" fill="#eae8ea"/>
<rect x="36" y="16" width="1.08" height="1.08" fill="#e8e8e8"/>
<rect x="37" y="16" width="5.08" height="1.08" fill="#e6e6e8"/>
<rect x="0" y="17" width="2.08" height="1.08" fill="#f2f0ee"/>
<rect x="8" y="17" width="2.08" height="1.08" fill="#f0eeea"/>
<rect x="10" y="17" width="1.08" height="1.08" fill="#eeecea"/>
<rect x="11" y="17" width="1.08" height="1.08" fill="#eeece8"/>
<rect x="12" y="17" width="1.08" height="1.08" fill="#ecece8"/>
<rect x="13" y="17" width="1.08" height="1.08" fill="#eceae8"/>
<rect x="14" y="17" width="1.08" height="1.08" fill="#eaeae8"/>
<rect x="15" y="17" width="1.08" height="1.08" fill="#eae8e6"/>
<rect x="16" y="17" width="1.08" height="1.08" fill="#e8e8e6"/>
<rect x="17" y="17" width="1.08" height="1.08" fill="#e6e6e6"/>
<rect x="18" y="17" width="1.08" height="1.08" fill="#e6e4e4"/>
<rect x="19" y="17" width="2.08" height="1.08" fill="#e4e4e4"/>
<rect x="21" y="17" width="1.08" height="1.08" fill="#e6e4e4"/>
<rect x="22" y="17" width="1.08" height="1.08" fill="#e6e6e6"/>
<rect x="23" y="17" width="1.08" height="1.08" fill="#e8e6e6"/>
<rect x="30" y="17" width="1.08" height="1.08" fill="#eeecec"/>
<rect x="31" y="17" width="1.08" height="1.08" fill="#ececec"/>
<rect x="32" y="17" width="1.08" height="1.08" fill="#eceaea"/>
<rect x="33" y="17" width="1.08" height="1.08" fill="#eaeaea"/>
<rect x="34" y="17" width="1.08" height="1.08" fill="#eae8ea"/>
<rect x="35" y="17" width="1.08" height="1.08" fill="#e8e8e8"/>
<rect x="36" y="17" width="1.08" height="1.08" fill="#e8e6e8"/>
<rect x="37" y="17" width="1.08" height="1.08" fill="#e6e6e8"/>
<rect x="38" y="17" width="4.08" height="1.08" fill="#e4e6e8"/>
<rect x="0" y="18" width="4.08" height="1.08" fill="#f2f0ee"/>
<rect x="6" y="18" width="2.08" height="1.08" fill="#f0eeec"/>
<rect x="8" y="18" width="3.08" height="1.08" fill="#f0eeea"/>
<rect x="11" y="18" width="1.08" height="1.08" fill="#eeecea"/>
<rect x="12" y="18" width="1.08" height="1.08" fill="#eeece8"/>
<rect x="13" y="18" width="1.08" height="1.08" fill="#eceae8"/>
<rect x="18" y="18" width="2.08" height="1.08" fill="#e6e6e6"/>
<rect x="26" y="18" width="1.08" height="1.08" fill="#eceaea"/>
<rect x="27" y="18" width="1.08" height="1.08" fill="#ececea"/>
<rect x="28" y="18" width="2.08" height="1.08" fill="#eeecec"/>
<rect x="30" y="18" width="1.08" height="1.08" fill="#ececec"/>
<rect x="31" y="18" width="1.08" height="1.08" fill="#eceaea"/>
<rect x="32" y="18" width="1.08" height="1.08" fill="#eaeaea"/>
<rect x="33" y="18" width="1.08" height="1.08" fill="#eae8ea"/>
<rect x="34" y="18" width="2.08" height="1.08" fill="#e8e8e8"/>
<rect x="36" y="18" width="1.08" height="1.08" fill="#e6e6e8"/>
<rect x="37" y="18" width="1.08" height="1.08" fill="#e4e6e8"/>
<rect x="38" y="18" width="4.08" height="1.08" fill="#e4e4e6"/>
<rect x="0" y="19" width="4.08" height="1.08" fill="#f2f0ee"/>
<rect x="6" y="19" width="3.08" height="1.08" fill="#f0eeec"/>
<rect x="9" y="19" width="2.08" height="1.08" fill="#f0eeea"/>
<rect x="11" y="19" width="2.08" height="1.08" fill="#eeecea"/>
<rect x="13" y="19" width="1.08" height="1.08" fill="#ecece8"/>
<rect x="18" y="19" width="1.08" height="1.08" fill="#e8e8e6"/>
<rect x="19" y="19" width="1.08" height="1.08" fill="#e8e6e6"/>
<rect x="26" y="19" width="1.08" height="1.08" fill="#eaeaea"/>
<rect x="27" y="19" width="1.08" height="1.08" fill="#eceaea"/>
<rect x="28" y="19" width="1.08" height="1.08" fill="#ececea"/>
<rect x="29" y="19" width="1.08" height="1.08" fill="#ececec"/>
<rect x="30" y="19" width="1.08" height="1.08" fill="#eceaea"/>
<rect x="31" y="19" width="2.08" height="1.08" fill="#eaeaea"/>
<rect x="33" y="19" width="2.08" height="1.08" fill="#e8e8e8"/>
<rect x="35" y="19" width="2.08" height="1.08" fill="#e6e6e8"/>
<rect x="37" y="19" width="5.08" height="1.08" fill="#e4e4e6"/>
<rect x="0" y="20" width="2.08" height="1.08" fill="#f2f0ee"/>
<rect x="8" y="20" width="2.08" height="1.08" fill="#f0eeec"/>
<rect x="10" y="20" width="2.08" height="1.08" fill="#f0eeea"/>
<rect x="12" y="20" width="2.08" height="1.08" fill="#eeecea"/>
<rect x="18" y="20" width="1.08" height="1.08" fill="#eae8e8"/>
<rect x="19" y="20" width="1.08" height="1.08" fill="#e8e8e8"/>
<rect x="26" y="20" width="2.08" height="1.08" fill="#eaeaea"/>
<rect x="28" y="20" width="1.08" height="1.08" fill="#eceaea"/>
<rect x="29" y="20" width="1.08" height="1.08" fill="#ececea"/>
<rect x="30" y="20" width="2.08" height="1.08" fill="#eaeaea"/>
<rect x="32" y="20" width="2.08" height="1.08" fill="#e8e8e8"/>
<rect x="34" y="20" width="2.08" height="1.08" fill="#e6e6e8"/>
<rect x="36" y="20" width="1.08" height="1.08" fill="#e4e4e6"/>
<rect x="37" y="20" width="1.08" height="1.08" fill="#e2e4e6"/>
<rect x="38" y="20" width="4.08" height="1.08" fill="#e2e2e6"/>
<rect x="0" y="21" width="2.08" height="1.08" fill="#f2f0ee"/>
<rect x="8" y="21" width="3.08" height="1.08" fill="#f0eeec"/>
<rect x="11" y="21" width="1.08" height="1.08" fill="#f0eeea"/>
<rect x="12" y="21" width="2.08" height="1.08" fill="#eeecea"/>
<rect x="18" y="21" width="1.08" height="1.08" fill="#eaeae8"/>
<rect x="19" y="21" width="1.08" height="1.08" fill="#eae8e8"/>
<rect x="26" y="21" width="5.08" height="1.08" fill="#eaeaea"/>
<rect x="31" y="21" width="2.08" height="1.08" fill="#e8e8e8"/>
<rect x="33" y="21" width="2.08" height="1.08" fill="#e6e6e8"/>
<rect x="35" y="21" width="1.08" height="1.08" fill="#e4e4e6"/>
<rect x="36" y="21" width="1.08" height="1.08" fill="#e2e4e6"/>
<rect x="37" y="21" width="1.08" height="1.08" fill="#e2e2e6"/>
<rect x="38" y="21" width="4.08" height="1.08" fill="#e2e2e4"/>
<rect x="0" y="22" width="2.08" height="1.08" fill="#f2f0ee"/>
<rect x="8" y="22" width="4.08" height="1.08" fill="#f0eeec"/>
<rect x="12" y="22" width="1.08" height="1.08" fill="#f0eeea"/>
<rect x="13" y="22" width="1.08" height="1.08" fill="#eeecea"/>
<rect x="18" y="22" width="2.08" height="1.08" fill="#eceaea"/>
<rect x="24" y="22" width="5.08" height="1.08" fill="#eaeaea"/>
<rect x="29" y="22" width="1.08" height="1.08" fill="#e8eaea"/>
<rect x="30" y="22" width="1.08" height="1.08" fill="#e8e8ea"/>
<rect x="31" y="22" width="1.08" height="1.08" fill="#e6e8e8"/>
<rect x="32" y="22" width="1.08" height="1.08" fill="#e6e6e8"/>
<rect x="33" y="22" width="1.08" height="1.08" fill="#e4e6e8"/>
<rect x="34" y="22" width="1.08" height="1.08" fill="#e4e4e6"/>
<rect x="35" y="22" width="1.08" height="1.08" fill="#e2e4e6"/>
<rect x="36" y="22" width="1.08" height="1.08" fill="#e2e2e6"/>
<rect x="37" y="22" width="5.08" height="1.08" fill="#e0e2e4"/>
<rect x="0" y="23" width="2.08" height="1.08" fill="#f2f0ee"/>
<rect x="8" y="23" width="6.08" height="1.08" fill="#f0eeec"/>
<rect x="18" y="23" width="1.08" height="1.08" fill="#eeecea"/>
<rect x="19" y="23" width="1.08" height="1.08" fill="#ececea"/>
<rect x="24" y="23" width="3.08" height="1.08" fill="#eaeaea"/>
<rect x="27" y="23" width="1.08" height="1.08" fill="#e8eaea"/>
<rect x="28" y="23" width="2.08" height="1.08" fill="#e8e8ea"/>
<rect x="30" y="23" width="1.08" height="1.08" fill="#e6e8e8"/>
<rect x="31" y="23" width="1.08" height="1.08" fill="#e6e6e8"/>
<rect x="32" y="23" width="1.08" height="1.08" fill="#e4e6e8"/>
<rect x="33" y="23" width="1.08" height="1.08" fill="#e4e4e6"/>
<rect x="34" y="23" width="2.08" height="1.08" fill="#e2e4e6"/>
<rect x="36" y="23" width="2.08" height="1.08" fill="#e0e2e4"/>
<rect x="38" y="23" width="4.08" height="1.08" fill="#e0e0e4"/>
<rect x="0" y="24" width="2.08" height="1.08" fill="#f2f0ee"/>
<rect x="8" y="24" width="1.08" height="1.08" fill="#f2eeec"/>
<rect x="9" y="24" width="5.08" height="1.08" fill="#f0eeec"/>
<rect x="16" y="24" width="1.08" height="1.08" fill="#f0eeec"/>
<rect x="17" y="24" width="1.08" height="1.08" fill="#eeeeec"/>
<rect x="18" y="24" width="2.08" height="1.08" fill="#eeecec"/>
<rect x="26" y="24" width="1.08" height="1.08" fill="#e8eaea"/>
<rect x="27" y="24" width="2.08" height="1.08" fill="#e8e8ea"/>
<rect x="29" y="24" width="1.08" height="1.08" fill="#e6e8e8"/>
<rect x="30" y="24" width="1.08" height="1.08" fill="#e6e6e8"/>
<rect x="31" y="24" width="1.08" height="1.08" fill="#e4e6e8"/>
<rect x="32" y="24" width="1.08" height="1.08" fill="#e4e4e6"/>
<rect x="33" y="24" width="2.08" height="1.08" fill="#e2e4e6"/>
<rect x="35" y="24" width="2.08" height="1.08" fill="#e0e2e4"/>
<rect x="37" y="24" width="1.08" height="1.08" fill="#e0e0e4"/>
<rect x="38" y="24" width="4.08" height="1.08" fill="#dee0e2"/>
<rect x="0" y="25" width="2.08" height="1.08" fill="#f2f0ee"/>
<rect x="8" y="25" width="1.08" height="1.08" fill="#f2f0ee"/>
<rect x="9" y="25" width="1.08" height="1.08" fill="#f2f0ec"/>
<rect x="10" y="25" width="4.08" height="1.08" fill="#f0eeec"/>
<rect x="16" y="25" width="4.08" height="1.08" fill="#f0eeec"/>
<rect x="26" y="25" width="2.08" height="1.08" fill="#e8e8ea"/>
<rect x="28" y="25" width="1.08" height="1.08" fill="#e6e8e8"/>
<rect x="29" y="25" width="1.08" height="1.08" fill="#e6e6e8"/>
<rect x="30" y="25" width="1.08" height="1.08" fill="#e4e6e8"/>
<rect x="31" y="25" width="1.08" height="1.08" fill="#e4e4e6"/>
<rect x="32" y="25" width="2.08" height="1.08" fill="#e2e4e6"/>
<rect x="34" y="25" width="2.08" height="1.08" fill="#e0e2e4"/>
<rect x="36" y="25" width="1.08" height="1.08" fill="#dee0e4"/>
<rect x="37" y="25" width="5.08" height="1.08" fill="#dee0e2"/>
<rect x="0" y="26" width="2.08" height="1.08" fill="#f4f0ee"/>
<rect x="8" y="26" width="1.08" height="1.08" fill="#f2f0ee"/>
<rect x="9" y="26" width="1.08" height="1.08" fill="#f2eeee"/>
<rect x="10" y="26" width="4.08" height="1.08" fill="#f0eeec"/>
<rect x="26" y="26" width="1.08" height="1.08" fill="#e8e8ea"/>
<rect x="27" y="26" width="1.08" height="1.08" fill="#e6e8e8"/>
<rect x="28" y="26" width="1.08" height="1.08" fill="#e6e6e8"/>
<rect x="29" y="26" width="1.08" height="1.08" fill="#e4e6e8"/>
<rect x="30" y="26" width="1.08" height="1.08" fill="#e4e4e8"/>
<rect x="31" y="26" width="2.08" height="1.08" fill="#e2e4e6"/>
<rect x="33" y="26" width="2.08" height="1.08" fill="#e0e2e4"/>
<rect x="35" y="26" width="1.08" height="1.08" fill="#dee0e4"/>
<rect x="36" y="26" width="1.08" height="1.08" fill="#dee0e2"/>
<rect x="37" y="26" width="1.08" height="1.08" fill="#dedee2"/>
<rect x="38" y="26" width="4.08" height="1.08" fill="#dcdee2"/>
<rect x="0" y="27" width="1.08" height="1.08" fill="#f4f0ee"/>
<rect x="1" y="27" width="1.08" height="1.08" fill="#f2f0ee"/>
<rect x="8" y="27" width="6.08" height="1.08" fill="#f0eeec"/>
<rect x="26" y="27" width="1.08" height="1.08" fill="#e6e8ea"/>
<rect x="27" y="27" width="1.08" height="1.08" fill="#e6e6e8"/>
<rect x="28" y="27" width="1.08" height="1.08" fill="#e4e6e8"/>
<rect x="29" y="27" width="1.08" height="1.08" fill="#e2e4e8"/>
<rect x="30" y="27" width="1.08" height="1.08" fill="#e2e4e6"/>
<rect x="31" y="27" width="1.08" height="1.08" fill="#e0e4e6"/>
<rect x="32" y="27" width="2.08" height="1.08" fill="#e0e2e4"/>
<rect x="34" y="27" width="1.08" height="1.08" fill="#dee0e4"/>
<rect x="35" y="27" width="1.08" height="1.08" fill="#dee0e2"/>
<rect x="36" y="27" width="1.08" height="1.08" fill="#dcdee2"/>
<rect x="37" y="27" width="1.08" height="1.08" fill="#dcdee0"/>
<rect x="38" y="27" width="1.08" height="1.08" fill="#dadee0"/>
<rect x="39" y="27" width="3.08" height="1.08" fill="#dcdee0"/>
<rect x="0" y="28" width="2.08" height="1.08" fill="#f4f0ee"/>
<rect x="8" y="28" width="6.08" height="1.08" fill="#f0eeec"/>
<rect x="26" y="28" width="1.08" height="1.08" fill="#e6e8e8"/>
<rect x="27" y="28" width="1.08" height="1.08" fill="#e4e6e8"/>
<rect x="28" y="28" width="1.08" height="1.08" fill="#e2e4e8"/>
<rect x="29" y="28" width="1.08" height="1.08" fill="#e2e4e6"/>
<rect x="30" y="28" width="1.08" height="1.08" fill="#e0e2e6"/>
<rect x="31" y="28" width="1.08" height="1.08" fill="#e0e2e4"/>
<rect x="32" y="28" width="1.08" height="1.08" fill="#dee0e4"/>
<rect x="33" y="28" width="1.08" height="1.08" fill="#dee0e2"/>
<rect x="34" y="28" width="1.08" height="1.08" fill="#dce0e2"/>
<rect x="35" y="28" width="1.08" height="1.08" fill="#dcdee2"/>
<rect x="36" y="28" width="1.08" height="1.08" fill="#dadee0"/>
<rect x="37" y="28" width="1.08" height="1.08" fill="#dadce0"/>
<rect x="38" y="28" width="4.08" height="1.08" fill="#dadcde"/>
<rect x="0" y="29" width="1.08" height="1.08" fill="#f2f0ee"/>
<rect x="1" y="29" width="1.08" height="1.08" fill="#f4f0ee"/>
<rect x="8" y="29" width="1.08" height="1.08" fill="#f0eeec"/>
<rect x="9" y="29" width="1.08" height="1.08" fill="#eeeeec"/>
<rect x="10" y="29" width="2.08" height="1.08" fill="#eeecec"/>
<rect x="12" y="29" width="1.08" height="1.08" fill="#eeeeec"/>
<rect x="13" y="29" width="1.08" height="1.08" fill="#f0eeec"/>
<rect x="26" y="29" width="1.08" height="1.08" fill="#e6e6e8"/>
<rect x="27" y="29" width="1.08" height="1.08" fill="#e4e6e8"/>
<rect x="28" y="29" width="1.08" height="1.08" fill="#e2e4e6"/>
<rect x="29" y="29" width="1.08" height="1.08" fill="#e0e2e6"/>
<rect x="30" y="29" width="1.08" height="1.08" fill="#e0e2e4"/>
<rect x="31" y="29" width="1.08" height="1.08" fill="#dee0e4"/>
<rect x="32" y="29" width="1.08" height="1.08" fill="#dce0e2"/>
<rect x="33" y="29" width="1.08" height="1.08" fill="#dcdee2"/>
<rect x="34" y="29" width="1.08" height="1.08" fill="#dadee0"/>
<rect x="35" y="29" width="1.08" height="1.08" fill="#dadce0"/>
<rect x="36" y="29" width="1.08" height="1.08" fill="#d8dcde"/>
<rect x="37" y="29" width="5.08" height="1.08" fill="#d8dade"/>
<rect x="0" y="30" width="1.08" height="1.08" fill="#f2f0ee"/>
<rect x="1" y="30" width="1.08" height="1.08" fill="#f4f0ee"/>
<rect x="2" y="30" width="2.08" height="1.08" fill="#f2f0ee"/>
<rect x="8" y="30" width="1.08" height="1.08" fill="#eeeeec"/>
<rect x="9" y="30" width="1.08" height="1.08" fill="#eeecec"/>
<rect x="24" y="30" width="1.08" height="1.08" fill="#e8e8ea"/>
<rect x="25" y="30" width="1.08" height="1.08" fill="#e6e8e8"/>
<rect x="26" y="30" width="1.08" height="1.08" fill="#e4e6e8"/>
<rect x="27" y="30" width="1.08" height="1.08" fill="#e2e4e6"/>
<rect x="28" y="30" width="1.08" height="1.08" fill="#e0e4e6"/>
<rect x="29" y="30" width="1.08" height="1.08" fill="#dee2e6"/>
<rect x="30" y="30" width="1.08" height="1.08" fill="#dee0e4"/>
<rect x="31" y="30" width="1.08" height="1.08" fill="#dce0e2"/>
<rect x="32" y="30" width="1.08" height="1.08" fill="#dcdee2"/>
<rect x="33" y="30" width="1.08" height="1.08" fill="#dadee0"/>
<rect x="34" y="30" width="1.08" height="1.08" fill="#dadce0"/>
<rect x="35" y="30" width="1.08" height="1.08" fill="#d8dcde"/>
<rect x="36" y="30" width="1.08" height="1.08" fill="#d8dade"/>
<rect x="37" y="30" width="1.08" height="1.08" fill="#d6dadc"/>
<rect x="38" y="30" width="4.08" height="1.08" fill="#d6d8dc"/>
<rect x="0" y="31" width="2.08" height="1.08" fill="#f4f0ee"/>
<rect x="2" y="31" width="2.08" height="1.08" fill="#f2f0ee"/>
<rect x="8" y="31" width="2.08" height="1.08" fill="#eeecec"/>
<rect x="24" y="31" width="1.08" height="1.08" fill="#e8e8e8"/>
<rect x="25" y="31" width="1.08" height="1.08" fill="#e6e6e8"/>
<rect x="26" y="31" width="1.08" height="1.08" fill="#e4e6e8"/>
<rect x="27" y="31" width="1.08" height="1.08" fill="#e2e4e6"/>
<rect x="28" y="31" width="1.08" height="1.08" fill="#e0e2e6"/>
<rect x="29" y="31" width="1.08" height="1.08" fill="#dee0e4"/>
<rect x="30" y="31" width="1.08" height="1.08" fill="#dce0e4"/>
<rect x="31" y="31" width="1.08" height="1.08" fill="#dcdee2"/>
<rect x="32" y="31" width="1.08" height="1.08" fill="#dadee0"/>
<rect x="33" y="31" width="1.08" height="1.08" fill="#d8dce0"/>
<rect x="34" y="31" width="1.08" height="1.08" fill="#d8dade"/>
<rect x="35" y="31" width="1.08" height="1.08" fill="#d6dade"/>
<rect x="36" y="31" width="1.08" height="1.08" fill="#d6d8dc"/>
<rect x="37" y="31" width="1.08" height="1.08" fill="#d4d8dc"/>
<rect x="38" y="31" width="4.08" height="1.08" fill="#d4d6da"/>
<rect x="0" y="32" width="2.08" height="1.08" fill="#f4f0ee"/>
<rect x="6" y="32" width="1.08" height="1.08" fill="#f0eeec"/>
<rect x="7" y="32" width="2.08" height="1.08" fill="#eeecec"/>
<rect x="9" y="32" width="1.08" height="1.08" fill="#ececec"/>
<rect x="20" y="32" width="1.08" height="1.08" fill="#f0eeec"/>
<rect x="21" y="32" width="1.08" height="1.08" fill="#eeecec"/>
<rect x="22" y="32" width="1.08" height="1.08" fill="#eceaea"/>
<rect x="23" y="32" width="1.08" height="1.08" fill="#eaeaea"/>
<rect x="24" y="32" width="1.08" height="1.08" fill="#e6e8e8"/>
<rect x="25" y="32" width="1.08" height="1.08" fill="#e4e6e8"/>
<rect x="26" y="32" width="1.08" height="1.08" fill="#e2e4e6"/>
<rect x="27" y="32" width="1.08" height="1.08" fill="#e0e2e6"/>
<rect x="28" y="32" width="1.08" height="1.08" fill="#dee2e4"/>
<rect x="29" y="32" width="1.08" height="1.08" fill="#dce0e4"/>
<rect x="30" y="32" width="1.08" height="1.08" fill="#dcdee2"/>
<rect x="31" y="32" width="1.08" height="1.08" fill="#dadee2"/>
<rect x="32" y="32" width="1.08" height="1.08" fill="#d8dce0"/>
<rect x="33" y="32" width="1.08" height="1.08" fill="#d8dade"/>
<rect x="34" y="32" width="1.08" height="1.08" fill="#d6dade"/>
<rect x="35" y="32" width="2.08" height="1.08" fill="#d4d8dc"/>
<rect x="37" y="32" width="5.08" height="1.08" fill="#d2d6da"/>
<rect x="0" y="33" width="2.08" height="1.08" fill="#f4f0ee"/>
<rect x="6" y="33" width="2.08" height="1.08" fill="#eeecec"/>
<rect x="8" y="33" width="1.08" height="1.08" fill="#ececec"/>
<rect x="9" y="33" width="1.08" height="1.08" fill="#ececea"/>
<rect x="20" y="33" width="1.08" height="1.08" fill="#f0eeec"/>
<rect x="21" y="33" width="1.08" height="1.08" fill="#eeecec"/>
<rect x="22" y="33" width="1.08" height="1.08" fill="#eaeaea"/>
<rect x="23" y="33" width="1.08" height="1.08" fill="#e8e8ea"/>
<rect x="24" y="33" width="1.08" height="1.08" fill="#e6e8e8"/>
<rect x="25" y="33" width="1.08" height="1.08" fill="#e4e6e8"/>
<rect x="26" y="33" width="1.08" height="1.08" fill="#e2e4e6"/>
<rect x="27" y="33" width="1.08" height="1.08" fill="#e0e2e6"/>
<rect x="28" y="33" width="1.08" height="1.08" fill="#dce0e4"/>
<rect x="29" y="33" width="2.08" height="1.08" fill="#dadee2"/>
<rect x="31" y="33" width="1.08" height="1.08" fill="#d8dce0"/>
<rect x="32" y="33" width="2.08" height="1.08" fill="#d6dade"/>
<rect x="34" y="33" width="1.08" height="1.08" fill="#d4d8dc"/>
<rect x="35" y="33" width="1.08" height="1.08" fill="#d4d6dc"/>
<rect x="36" y="33" width="1.08" height="1.08" fill="#d2d6da"/>
<rect x="37" y="33" width="5.08" height="1.08" fill="#d0d4d8"/>
<rect x="2" y="34" width="1.08" height="1.08" fill="#f2f0ee"/>
<rect x="3" y="34" width="1.08" height="1.08" fill="#f2eeee"/>
<rect x="4" y="34" width="2.08" height="1.08" fill="#f0eeec"/>
<rect x="6" y="34" width="2.08" height="1.08" fill="#eeecec"/>
<rect x="8" y="34" width="1.08" height="1.08" fill="#ececea"/>
<rect x="9" y="34" width="1.08" height="1.08" fill="#eceaea"/>
<rect x="20" y="34" width="1.08" height="1.08" fill="#f0eeec"/>
<rect x="21" y="34" width="1.08" height="1.08" fill="#ececec"/>
<rect x="22" y="34" width="1.08" height="1.08" fill="#eaeaea"/>
<rect x="23" y="34" width="1.08" height="1.08" fill="#e8e8e8"/>
<rect x="24" y="34" width="1.08" height="1.08" fill="#e6e6e8"/>
<rect x="25" y="34" width="1.08" height="1.08" fill="#e2e4e6"/>
<rect x="26" y="34" width="1.08" height="1.08" fill="#e0e4e6"/>
<rect x="27" y="34" width="1.08" height="1.08" fill="#dee2e4"/>
<rect x="28" y="34" width="1.08" height="1.08" fill="#dce0e4"/>
<rect x="29" y="34" width="1.08" height="1.08" fill="#dadee2"/>
<rect x="30" y="34" width="1.08" height="1.08" fill="#d8dce0"/>
<rect x="31" y="34" width="1.08" height="1.08" fill="#d6dce0"/>
<rect x="32" y="34" width="1.08" height="1.08" fill="#d6dade"/>
<rect x="33" y="34" width="1.08" height="1.08" fill="#d4d8dc"/>
<rect x="34" y="34" width="1.08" height="1.08" fill="#d2d6dc"/>
<rect x="35" y="34" width="1.08" height="1.08" fill="#d2d6da"/>
<rect x="36" y="34" width="1.08" height="1.08" fill="#d0d4d8"/>
<rect x="37" y="34" width="1.08" height="1.08" fill="#ced2d8"/>
<rect x="38" y="34" width="4.08" height="1.08" fill="#ced2d6"/>
<rect x="2" y="35" width="1.08" height="1.08" fill="#f2f0ee"/>
<rect x="3" y="35" width="1.08" height="1.08" fill="#f0eeee"/>
<rect x="4" y="35" width="1.08" height="1.08" fill="#f0eeec"/>
<rect x="5" y="35" width="2.08" height="1.08" fill="#eeecec"/>
<rect x="7" y="35" width="1.08" height="1.08" fill="#ececec"/>
<rect x="8" y="35" width="1.08" height="1.08" fill="#eceaea"/>
<rect x="9" y="35" width="1.08" height="1.08" fill="#eaeaea"/>
<rect x="20" y="35" width="1.08" height="1.08" fill="#f0eeec"/>
<rect x="21" y="35" width="1.08" height="1.08" fill="#ececec"/>
<rect x="22" y="35" width="1.08" height="1.08" fill="#eaeaea"/>
<rect x="23" y="35" width="1.08" height="1.08" fill="#e8e8e8"/>
<rect x="24" y="35" width="1.08" height="1.08" fill="#e4e6e8"/>
<rect x="25" y="35" width="1.08" height="1.08" fill="#e2e4e6"/>
<rect x="26" y="35" width="1.08" height="1.08" fill="#e0e2e6"/>
<rect x="27" y="35" width="1.08" height="1.08" fill="#dce0e4"/>
<rect x="28" y="35" width="1.08" height="1.08" fill="#dadee2"/>
<rect x="29" y="35" width="1.08" height="1.08" fill="#d8dce2"/>
<rect x="30" y="35" width="1.08" height="1.08" fill="#d6dce0"/>
<rect x="31" y="35" width="1.08" height="1.08" fill="#d6dade"/>
<rect x="32" y="35" width="1.08" height="1.08" fill="#d4d8dc"/>
<rect x="33" y="35" width="1.08" height="1.08" fill="#d2d6dc"/>
<rect x="34" y="35" width="1.08" height="1.08" fill="#d2d6da"/>
<rect x="35" y="35" width="1.08" height="1.08" fill="#d0d4d8"/>
<rect x="36" y="35" width="1.08" height="1.08" fill="#ced2d8"/>
<rect x="37" y="35" width="1.08" height="1.08" fill="#ccd2d6"/>
<rect x="38" y="35" width="2.08" height="1.08" fill="#ccd0d4"/>
<rect x="40" y="35" width="2.08" height="1.08" fill="#ccd0d6"/>
<rect x="0" y="36" width="2.08" height="1.08" fill="#f4f0ee"/>
<rect x="2" y="36" width="1.08" height="1.08" fill="#f2f0ee"/>
<rect x="3" y="36" width="2.08" height="1.08" fill="#f0eeec"/>
<rect x="5" y="36" width="2.08" height="1.08" fill="#eeecec"/>
<rect x="7" y="36" width="1.08" height="1.08" fill="#eceaea"/>
<rect x="20" y="36" width="1.08" height="1.08" fill="#f0eeec"/>
<rect x="21" y="36" width="1.08" height="1.08" fill="#ececea"/>
<rect x="22" y="36" width="1.08" height="1.08" fill="#eaeaea"/>
<rect x="23" y="36" width="1.08" height="1.08" fill="#e6e8e8"/>
<rect x="24" y="36" width="1.08" height="1.08" fill="#e4e6e8"/>
<rect x="25" y="36" width="1.08" height="1.08" fill="#e2e4e6"/>
<rect x="26" y="36" width="1.08" height="1.08" fill="#dee2e4"/>
<rect x="27" y="36" width="1.08" height="1.08" fill="#dce0e4"/>
<rect x="28" y="36" width="1.08" height="1.08" fill="#dadee2"/>
<rect x="29" y="36" width="1.08" height="1.08" fill="#d8dce0"/>
<rect x="30" y="36" width="1.08" height="1.08" fill="#d6dae0"/>
<rect x="31" y="36" width="1.08" height="1.08" fill="#d4d8de"/>
<rect x="32" y="36" width="1.08" height="1.08" fill="#d2d8dc"/>
<rect x="33" y="36" width="1.08" height="1.08" fill="#d0d6da"/>
<rect x="34" y="36" width="1.08" height="1.08" fill="#d0d4d8"/>
<rect x="35" y="36" width="1.08" height="1.08" fill="#ced2d8"/>
<rect x="36" y="36" width="1.08" height="1.08" fill="#ccd2d6"/>
<rect x="37" y="36" width="1.08" height="1.08" fill="#cad0d4"/>
<rect x="38" y="36" width="4.08" height="1.08" fill="#caced4"/>
<rect x="0" y="37" width="2.08" height="1.08" fill="#f2f0ee"/>
<rect x="2" y="37" width="1.08" height="1.08" fill="#f2eeee"/>
<rect x="3" y="37" width="2.08" height="1.08" fill="#f0eeec"/>
<rect x="5" y="37" width="2.08" height="1.08" fill="#eeecec"/>
<rect x="7" y="37" width="1.08" height="1.08" fill="#ececea"/>
<rect x="20" y="37" width="1.08" height="1.08" fill="#f0eeec"/>
<rect x="21" y="37" width="1.08" height="1.08" fill="#ececea"/>
<rect x="22" y="37" width="1.08" height="1.08" fill="#eaeaea"/>
<rect x="23" y="37" width="1.08" height="1.08" fill="#e6e8e8"/>
<rect x="24" y="37" width="1.08" height="1.08" fill="#e4e6e6"/>
<rect x="25" y="37" width="1.08" height="1.08" fill="#e0e4e6"/>
<rect x="26" y="37" width="1.08" height="1.08" fill="#dee2e4"/>
<rect x="27" y="37" width="1.08" height="1.08" fill="#dce0e2"/>
<rect x="28" y="37" width="1.08" height="1.08" fill="#d8dce2"/>
<rect x="29" y="37" width="1.08" height="1.08" fill="#d6dce0"/>
<rect x="30" y="37" width="1.08" height="1.08" fill="#d4dade"/>
<rect x="31" y="37" width="1.08" height="1.08" fill="#d2d8dc"/>
<rect x="32" y="37" width="1.08" height="1.08" fill="#d2d6dc"/>
<rect x="33" y="37" width="1.08" height="1.08" fill="#d0d4da"/>
<rect x="34" y="37" width="1.08" height="1.08" fill="#ced2d8"/>
<rect x="35" y="37" width="1.08" height="1.08" fill="#ccd2d6"/>
<rect x="36" y="37" width="1.08" height="1.08" fill="#cad0d4"/>
<rect x="37" y="37" width="5.08" height="1.08" fill="#c8ced2"/>
<rect x="0" y="38" width="2.08" height="1.08" fill="#f2f0ee"/>
<rect x="2" y="38" width="1.08" height="1.08" fill="#f2eeec"/>
<rect x="3" y="38" width="2.08" height="1.08" fill="#f0eeec"/>
<rect x="5" y="38" width="2.08" height="1.08" fill="#eeecec"/>
<rect x="7" y="38" width="1.08" height="1.08" fill="#ececea"/>
<rect x="20" y="38" width="1.08" height="1.08" fill="#f0eeec"/>
<rect x="21" y="38" width="1.08" height="1.08" fill="#ececea"/>
<rect x="22" y="38" width="1.08" height="1.08" fill="#eaeaea"/>
<rect x="23" y="38" width="1.08" height="1.08" fill="#e8e8e8"/>
<rect x="24" y="38" width="1.08" height="1.08" fill="#e4e6e6"/>
<rect x="25" y="38" width="1.08" height="1.08" fill="#e2e4e4"/>
<rect x="26" y="38" width="1.08" height="1.08" fill="#dee2e4"/>
<rect x="27" y="38" width="1.08" height="1.08" fill="#dce0e2"/>
<rect x="28" y="38" width="1.08" height="1.08" fill="#dadee0"/>
<rect x="29" y="38" width="1.08" height="1.08" fill="#d8dce0"/>
<rect x="30" y="38" width="1.08" height="1.08" fill="#d6dade"/>
<rect x="31" y="38" width="1.08" height="1.08" fill="#d4d8dc"/>
<rect x="32" y="38" width="1.08" height="1.08" fill="#d2d6da"/>
<rect x="33" y="38" width="1.08" height="1.08" fill="#d0d4d8"/>
<rect x="34" y="38" width="1.08" height="1.08" fill="#d0d4d6"/>
<rect x="35" y="38" width="1.08" height="1.08" fill="#ced2d6"/>
<rect x="36" y="38" width="1.08" height="1.08" fill="#ccd0d4"/>
<rect x="37" y="38" width="1.08" height="1.08" fill="#caced2"/>
<rect x="38" y="38" width="1.08" height="1.08" fill="#caced0"/>
<rect x="39" y="38" width="3.08" height="1.08" fill="#caced2"/>
<rect x="0" y="39" width="2.08" height="1.08" fill="#f2eeec"/>
<rect x="2" y="39" width="3.08" height="1.08" fill="#f0eeec"/>
<rect x="5" y="39" width="3.08" height="1.08" fill="#eeecec"/>
<rect x="20" y="39" width="1.08" height="1.08" fill="#f0eeec"/>
<rect x="21" y="39" width="1.08" height="1.08" fill="#ececea"/>
<rect x="22" y="39" width="1.08" height="1.08" fill="#eaeae8"/>
<rect x="23" y="39" width="1.08" height="1.08" fill="#e8e8e8"/>
<rect x="24" y="39" width="1.08" height="1.08" fill="#e4e6e6"/>
<rect x="25" y="39" width="1.08" height="1.08" fill="#e2e4e4"/>
<rect x="26" y="39" width="1.08" height="1.08" fill="#e0e2e2"/>
<rect x="27" y="39" width="1.08" height="1.08" fill="#dee0e2"/>
<rect x="28" y="39" width="1.08" height="1.08" fill="#dadee0"/>
<rect x="29" y="39" width="1.08" height="1.08" fill="#d8dcde"/>
<rect x="30" y="39" width="1.08" height="1.08" fill="#d6dadc"/>
<rect x="31" y="39" width="1.08" height="1.08" fill="#d6d8da"/>
<rect x="32" y="39" width="1.08" height="1.08" fill="#d4d6da"/>
<rect x="33" y="39" width="1.08" height="1.08" fill="#d2d6d8"/>
<rect x="34" y="39" width="1.08" height="1.08" fill="#d0d4d6"/>
<rect x="35" y="39" width="1.08" height="1.08" fill="#d0d2d4"/>
<rect x="36" y="39" width="1.08" height="1.08" fill="#ced0d2"/>
<rect x="37" y="39" width="5.08" height="1.08" fill="#ccced0"/>
<rect x="0" y="40" width="5.08" height="1.08" fill="#f0eeec"/>
<rect x="5" y="40" width="3.08" height="1.08" fill="#eeecec"/>
<rect x="20" y="40" width="1.08" height="1.08" fill="#f0eeec"/>
<rect x="21" y="40" width="1.08" height="1.08" fill="#ececea"/>
<rect x="22" y="40" width="1.08" height="1.08" fill="#eaeae8"/>
<rect x="23" y="40" width="1.08" height="1.08" fill="#e8e8e8"/>
<rect x="24" y="40" width="1.08" height="1.08" fill="#e6e6e6"/>
<rect x="25" y="40" width="1.08" height="1.08" fill="#e2e4e4"/>
<rect x="26" y="40" width="1.08" height="1.08" fill="#e0e2e2"/>
<rect x="27" y="40" width="1.08" height="1.08" fill="#dee0e0"/>
<rect x="28" y="40" width="1.08" height="1.08" fill="#dcdee0"/>
<rect x="29" y="40" width="1.08" height="1.08" fill="#dadcde"/>
<rect x="30" y="40" width="1.08" height="1.08" fill="#d8dadc"/>
<rect x="31" y="40" width="1.08" height="1.08" fill="#d6d8da"/>
<rect x="32" y="40" width="1.08" height="1.08" fill="#d6d8d8"/>
<rect x="33" y="40" width="1.08" height="1.08" fill="#d4d6d6"/>
<rect x="34" y="40" width="1.08" height="1.08" fill="#d2d4d4"/>
<rect x="35" y="40" width="1.08" height="1.08" fill="#d0d2d4"/>
<rect x="36" y="40" width="1.08" height="1.08" fill="#d0d0d2"/>
<rect x="37" y="40" width="1.08" height="1.08" fill="#ced0d0"/>
<rect x="38" y="40" width="4.08" height="1.08" fill="#cccece"/>
<rect x="0" y="41" width="5.08" height="1.08" fill="#f0eeec"/>
<rect x="5" y="41" width="3.08" height="1.08" fill="#eeecec"/>
<rect x="20" y="41" width="1.08" height="1.08" fill="#f0eeec"/>
<rect x="21" y="41" width="1.08" height="1.08" fill="#ececea"/>
<rect x="22" y="41" width="1.08" height="1.08" fill="#eaeae8"/>
<rect x="23" y="41" width="1.08" height="1.08" fill="#e8e8e6"/>
<rect x="24" y="41" width="1.08" height="1.08" fill="#e6e6e4"/>
<rect x="25" y="41" width="1.08" height="1.08" fill="#e4e4e4"/>
<rect x="26" y="41" width="1.08" height="1.08" fill="#e2e2e2"/>
<rect x="27" y="41" width="1.08" height="1.08" fill="#dee0e0"/>
<rect x="28" y="41" width="1.08" height="1.08" fill="#dcdede"/>
<rect x="29" y="41" width="1.08" height="1.08" fill="#dadcdc"/>
<rect x="30" y="41" width="1.08" height="1.08" fill="#dadada"/>
<rect x="31" y="41" width="1.08" height="1.08" fill="#d8d8da"/>
<rect x="32" y="41" width="1.08" height="1.08" fill="#d6d8d8"/>
<rect x="33" y="41" width="1.08" height="1.08" fill="#d4d6d6"/>
<rect x="34" y="41" width="1.08" height="1.08" fill="#d4d4d4"/>
<rect x="35" y="41" width="1.08" height="1.08" fill="#d2d2d2"/>
<rect x="36" y="41" width="1.08" height="1.08" fill="#d0d2d0"/>
<rect x="37" y="41" width="1.08" height="1.08" fill="#d0d0ce"/>
<rect x="38" y="41" width="4.08" height="1.08" fill="#ced0ce"/>
<rect x="0" y="42" width="5.08" height="1.08" fill="#f0eeec"/>
<rect x="5" y="42" width="1.08" height="1.08" fill="#eeeeec"/>
<rect x="6" y="42" width="4.08" height="1.08" fill="#eeecec"/>
<rect x="18" y="42" width="3.08" height="1.08" fill="#f0eeec"/>
<rect x="21" y="42" width="1.08" height="1.08" fill="#eeecea"/>
<rect x="22" y="42" width="1.08" height="1.08" fill="#eaeae8"/>
<rect x="23" y="42" width="1.08" height="1.08" fill="#e8e8e6"/>
<rect x="24" y="42" width="1.08" height="1.08" fill="#e6e6e4"/>
<rect x="25" y="42" width="1.08" height="1.08" fill="#e4e4e2"/>
<rect x="26" y="42" width="1.08" height="1.08" fill="#e2e2e2"/>
<rect x="27" y="42" width="1.08" height="1.08" fill="#e0e0e0"/>
<rect x="28" y="42" width="1.08" height="1.08" fill="#dedede"/>
<rect x="29" y="42" width="1.08" height="1.08" fill="#dcdcdc"/>
<rect x="30" y="42" width="1.08" height="1.08" fill="#dadada"/>
<rect x="31" y="42" width="1.08" height="1.08" fill="#dadad8"/>
<rect x="32" y="42" width="1.08" height="1.08" fill="#d8d8d6"/>
<rect x="33" y="42" width="1.08" height="1.08" fill="#d6d6d4"/>
<rect x="34" y="42" width="1.08" height="1.08" fill="#d4d4d2"/>
<rect x="35" y="42" width="1.08" height="1.08" fill="#d4d4d0"/>
<rect x="36" y="42" width="1.08" height="1.08" fill="#d2d2d0"/>
<rect x="37" y="42" width="1.08" height="1.08" fill="#d0d0ce"/>
<rect x="38" y="42" width="4.08" height="1.08" fill="#d0d0cc"/>
<rect x="0" y="43" width="2.08" height="1.08" fill="#f0ecea"/>
<rect x="2" y="43" width="1.08" height="1.08" fill="#f0ecec"/>
<rect x="3" y="43" width="3.08" height="1.08" fill="#f0eeec"/>
<rect x="6" y="43" width="4.08" height="1.08" fill="#eeeeec"/>
<rect x="18" y="43" width="3.08" height="1.08" fill="#f0eeec"/>
<rect x="21" y="43" width="1.08" height="1.08" fill="#eeecea"/>
<rect x="22" y="43" width="1.08" height="1.08" fill="#eceae8"/>
<rect x="23" y="43" width="1.08" height="1.08" fill="#eae8e6"/>
<rect x="24" y="43" width="1.08" height="1.08" fill="#e6e6e4"/>
<rect x="25" y="43" width="1.08" height="1.08" fill="#e4e4e2"/>
<rect x="26" y="43" width="1.08" height="1.08" fill="#e2e2e0"/>
<rect x="27" y="43" width="1.08" height="1.08" fill="#e0e0de"/>
<rect x="28" y="43" width="1.08" height="1.08" fill="#dededc"/>
<rect x="29" y="43" width="1.08" height="1.08" fill="#dcdcda"/>
<rect x="30" y="43" width="1.08" height="1.08" fill="#dcdada"/>
<rect x="31" y="43" width="1.08" height="1.08" fill="#dadad8"/>
<rect x="32" y="43" width="1.08" height="1.08" fill="#d8d8d6"/>
<rect x="33" y="43" width="1.08" height="1.08" fill="#d8d6d4"/>
<rect x="34" y="43" width="1.08" height="1.08" fill="#d6d6d2"/>
<rect x="35" y="43" width="1.08" height="1.08" fill="#d6d4d0"/>
<rect x="36" y="43" width="1.08" height="1.08" fill="#d4d2ce"/>
<rect x="37" y="43" width="5.08" height="1.08" fill="#d2d0cc"/>
<rect x="0" y="44" width="4.08" height="1.08" fill="#eeecea"/>
<rect x="4" y="44" width="6.08" height="1.08" fill="#f0eeec"/>
<rect x="18" y="44" width="3.08" height="1.08" fill="#f0eeec"/>
<rect x="21" y="44" width="1.08" height="1.08" fill="#eeecea"/>
<rect x="22" y="44" width="1.08" height="1.08" fill="#eceae8"/>
<rect x="23" y="44" width="1.08" height="1.08" fill="#eae8e6"/>
<rect x="24" y="44" width="1.08" height="1.08" fill="#e8e6e4"/>
<rect x="25" y="44" width="1.08" height="1.08" fill="#e6e4e2"/>
<rect x="26" y="44" width="1.08" height="1.08" fill="#e4e2e0"/>
<rect x="27" y="44" width="1.08" height="1.08" fill="#e2e0de"/>
<rect x="28" y="44" width="1.08" height="1.08" fill="#e0dedc"/>
<rect x="29" y="44" width="1.08" height="1.08" fill="#dedcda"/>
<rect x="30" y="44" width="1.08" height="1.08" fill="#dcdcd8"/>
<rect x="31" y="44" width="1.08" height="1.08" fill="#dcdad6"/>
<rect x="32" y="44" width="1.08" height="1.08" fill="#dad8d4"/>
<rect x="33" y="44" width="1.08" height="1.08" fill="#dad6d2"/>
<rect x="34" y="44" width="1.08" height="1.08" fill="#d8d6d0"/>
<rect x="35" y="44" width="1.08" height="1.08" fill="#d6d4ce"/>
<rect x="36" y="44" width="1.08" height="1.08" fill="#d6d2cc"/>
<rect x="37" y="44" width="1.08" height="1.08" fill="#d4d2cc"/>
<rect x="38" y="44" width="4.08" height="1.08" fill="#d4d0ca"/>
<rect x="0" y="45" width="4.08" height="1.08" fill="#eeecea"/>
<rect x="4" y="45" width="6.08" height="1.08" fill="#f0eeec"/>
<rect x="18" y="45" width="3.08" height="1.08" fill="#f0eeec"/>
<rect x="21" y="45" width="1.08" height="1.08" fill="#eeecea"/>
<rect x="22" y="45" width="1.08" height="1.08" fill="#eceae8"/>
<rect x="23" y="45" width="1.08" height="1.08" fill="#eae8e6"/>
<rect x="24" y="45" width="1.08" height="1.08" fill="#e8e6e4"/>
<rect x="25" y="45" width="1.08" height="1.08" fill="#e6e4e2"/>
<rect x="26" y="45" width="1.08" height="1.08" fill="#e4e2e0"/>
<rect x="27" y="45" width="1.08" height="1.08" fill="#e2e0de"/>
<rect x="28" y="45" width="1.08" height="1.08" fill="#e0dedc"/>
<rect x="29" y="45" width="1.08" height="1.08" fill="#e0dcda"/>
<rect x="30" y="45" width="1.08" height="1.08" fill="#dedcd8"/>
<rect x="31" y="45" width="1.08" height="1.08" fill="#dcdad6"/>
<rect x="32" y="45" width="1.08" height="1.08" fill="#dcd8d4"/>
<rect x="33" y="45" width="1.08" height="1.08" fill="#dad8d2"/>
<rect x="34" y="45" width="1.08" height="1.08" fill="#dad6d0"/>
<rect x="35" y="45" width="1.08" height="1.08" fill="#d8d4ce"/>
<rect x="36" y="45" width="1.08" height="1.08" fill="#d6d4cc"/>
<rect x="37" y="45" width="3.08" height="1.08" fill="#d6d2ca"/>
<rect x="40" y="45" width="2.08" height="1.08" fill="#d4d2ca"/>
<rect x="0" y="46" width="5.08" height="1.08" fill="#eeecea"/>
<rect x="5" y="46" width="5.08" height="1.08" fill="#f0eeec"/>
<rect x="18" y="46" width="2.08" height="1.08" fill="#f0f0ec"/>
<rect x="20" y="46" width="1.08" height="1.08" fill="#f0eeec"/>
<rect x="21" y="46" width="1.08" height="1.08" fill="#eeecea"/>
<rect x="22" y="46" width="1.08" height="1.08" fill="#eceae8"/>
<rect x="23" y="46" width="1.08" height="1.08" fill="#eae8e4"/>
<rect x="24" y="46" width="1.08" height="1.08" fill="#e8e6e2"/>
<rect x="25" y="46" width="1.08" height="1.08" fill="#e6e4e0"/>
<rect x="26" y="46" width="1.08" height="1.08" fill="#e4e2de"/>
<rect x="27" y="46" width="1.08" height="1.08" fill="#e4e0dc"/>
<rect x="28" y="46" width="1.08" height="1.08" fill="#e2deda"/>
<rect x="29" y="46" width="1.08" height="1.08" fill="#e0ded8"/>
<rect x="30" y="46" width="1.08" height="1.08" fill="#e0dcd6"/>
<rect x="31" y="46" width="1.08" height="1.08" fill="#dedad4"/>
<rect x="32" y="46" width="1.08" height="1.08" fill="#dcdad2"/>
<rect x="33" y="46" width="1.08" height="1.08" fill="#dcd8d0"/>
<rect x="34" y="46" width="1.08" height="1.08" fill="#dad6ce"/>
<rect x="35" y="46" width="1.08" height="1.08" fill="#dad6cc"/>
<rect x="36" y="46" width="1.08" height="1.08" fill="#d8d4ca"/>
<rect x="37" y="46" width="1.08" height="1.08" fill="#d8d2c8"/>
<rect x="38" y="46" width="4.08" height="1.08" fill="#d6d2c8"/>
<rect x="0" y="47" width="4.08" height="1.08" fill="#eeecea"/>
<rect x="4" y="47" width="6.08" height="1.08" fill="#f0eeec"/>
<rect x="18" y="47" width="2.08" height="1.08" fill="#f0f0ec"/>
<rect x="20" y="47" width="1.08" height="1.08" fill="#f0eeec"/>
<rect x="21" y="47" width="1.08" height="1.08" fill="#eeecea"/>
<rect x="22" y="47" width="1.08" height="1.08" fill="#eceae8"/>
<rect x="23" y="47" width="1.08" height="1.08" fill="#eae8e4"/>
<rect x="24" y="47" width="1.08" height="1.08" fill="#e8e6e2"/>
<rect x="25" y="47" width="1.08" height="1.08" fill="#e6e4e0"/>
<rect x="26" y="47" width="1.08" height="1.08" fill="#e4e2de"/>
<rect x="27" y="47" width="1.08" height="1.08" fill="#e4e0dc"/>
<rect x="28" y="47" width="1.08" height="1.08" fill="#e2deda"/>
<rect x="29" y="47" width="1.08" height="1.08" fill="#e0dcd8"/>
<rect x="30" y="47" width="1.08" height="1.08" fill="#e0dcd6"/>
<rect x="31" y="47" width="1.08" height="1.08" fill="#dedad4"/>
<rect x="32" y="47" width="1.08" height="1.08" fill="#dcdad2"/>
<rect x="33" y="47" width="1.08" height="1.08" fill="#dcd8d0"/>
<rect x="34" y="47" width="1.08" height="1.08" fill="#dad6ce"/>
<rect x="35" y="47" width="1.08" height="1.08" fill="#dad6cc"/>
<rect x="36" y="47" width="1.08" height="1.08" fill="#d8d4ca"/>
<rect x="37" y="47" width="5.08" height="1.08" fill="#d8d2c8"/>
</g>
<g shape-rendering="crispEdges">
<rect x="27" y="17" width="21" height="15" fill="#e4dccf"/>
<rect x="50" y="22" width="18" height="10" fill="#e7e0d4"/>
<rect x="71" y="54" width="8" height="11" fill="#ced3d9"/>
<path d="M90,120 L100,116 L108,121 L106,131 L98,137 L90,136 L87,128Z" fill="#d2d6db"/>
<path d="M95,123 L102,121 L104,127 L99,133 L94,131Z" fill="#a5b2be"/>
</g>
<rect x="159" y="-1" width="4" height="31" fill="#97b6e1"/>
<path d="M156.2,31.5 L158,30 L162.5,29 L162.5,100.5 L160.4,101.1 L158.7,102.2 L154.8,101.6 L151.9,99.4 L150.8,96 L151.4,92.6 L151.9,88.1 L150.8,85.3 L151.4,83.1 L153.6,81.4 L153.1,79.7 L150.8,76.9 L148.6,72.4 L147.6,65.5 L148.2,60 L149.1,54 L150.2,49 L151.4,43 L152.5,38.5 L153.7,35Z" fill="#97b6e1"/>
<rect x="155" y="40" width="5" height="34" fill="#e2e4e7"/>
<rect x="152" y="55" width="3" height="15" fill="#e8e9eb"/>
<path d="M156.00,30.70 L152.60,30.70 L148.10,31.90 L144.70,33.60 L142.40,35.80 L140.20,38.60 L137.90,42.00 L135.70,45.40 L134.00,48.70 L132.30,53.20 L131.00,58.00 L129.00,64.00 L127.50,69.00 L125.50,76.00 L122.50,83.00 L119.00,91.00 L117.00,97.00 L114.00,103.00 L111.00,107.00 L110.00,111.00 L111.00,115.00 L112.00,121.00 L115.00,124.00 L118.00,127.00 L120.00,133.00 L122.00,139.00 L124.00,145.00 L125.50,154.50 L162.50,154.50 L162.50,100.50 L161.20,101.10 L159.50,102.20 L155.60,101.60 L152.70,99.40 L151.60,96.00 L152.20,92.60 L152.70,88.10 L151.60,85.30 L152.20,83.10 L154.40,81.40 L153.90,79.70 L151.60,76.90 L149.40,72.40 L148.40,65.50 L149.00,60.00 L149.90,54.00 L151.00,49.00 L152.20,43.00 L153.30,38.50 L154.50,35.00 L156.20,31.50 L156.60,31.50 Z" fill="#efefdb"/>
<path d="M125.50,154.50 L124.00,145.00 L122.00,139.00 L120.00,133.00 L118.00,127.00 L115.00,124.00 L112.00,121.00 L111.00,115.00 L110.00,111.00 L111.00,107.00 L114.00,103.00 L117.00,97.00 L119.00,91.00 L122.50,83.00 L125.50,76.00 L127.50,69.00 L129.00,64.00 L131.00,58.00 L132.30,53.20 L134.00,48.70 L135.70,45.40 L137.90,42.00 L140.20,38.60 L142.40,35.80 L144.70,33.60 L148.10,31.90 L152.60,30.70 L156.00,30.70 L156.60,31.50 L156.20,31.50 L154.50,35.00 L153.30,38.50 L152.20,43.00 L151.00,49.00 L149.90,54.00 L149.00,60.00 L148.40,65.50 L149.40,72.40 L151.60,76.90 L153.90,79.70 L154.40,81.40 L152.20,83.10 L151.60,85.30 L152.70,88.10 L152.20,92.60 L151.60,96.00 L152.70,99.40 L155.60,101.60 L159.50,102.20 L161.20,101.10 L162.50,100.50" fill="none" stroke="#727272" stroke-width="1.15" stroke-linejoin="round"/>
<path d="M1.00,-2 L4.50,156.00 M24.17,-2 L27.52,156.00 M47.34,-2 L50.54,156.00 M70.51,-2 L73.56,156.00 M93.68,-2 L96.58,156.00 M116.85,-2 L119.60,156.00 M140.02,-2 L142.62,156.00 M163.19,-2 L165.64,156.00 M-2,14.45 L164.00,10.55 M-2,34.25 L164.00,30.35 M-2,54.05 L164.00,50.15 M-2,73.85 L164.00,69.95 M-2,93.65 L164.00,89.75 M-2,113.45 L164.00,109.55 M-2,133.25 L164.00,129.35 M-2,153.05 L164.00,149.15 M-2,172.85 L164.00,168.95" fill="none" stroke="#aeaeae" stroke-opacity="0.85" stroke-width="1.3"/>
</g></g>
<rect x="878.5" y="125.5" width="162" height="154" fill="none" stroke="#000" stroke-width="1.1"/>
<text transform="scale(0.9992,1)" x="201.01 211.64 222.56 233.27 239.20 244.52 256.71" y="95.50" font-size="17.66" fill="#000">SST [K]</text>
<text transform="scale(1.0280,1)" x="396.05 405.26 415.45 425.94 436.48 441.82 452.52 458.22 463.90 468.85 480.10 485.28 495.63" y="96.10" font-size="17.66" fill="#000">dSST/dt [K hr</text>
<rect x="516.40" y="85.1" width="8.80" height="1.0" fill="#000"/>
<text x="526.07" y="89.30" font-size="12.40" textLength="6.06" lengthAdjust="spacingAndGlyphs" fill="#000" >1</text>
<text x="534.96" y="96.10" font-size="17.66" textLength="4.89" lengthAdjust="spacingAndGlyphs" fill="#000" >]</text>
<text transform="scale(1.0324,1)" x="624.13 633.37 643.60 654.12 664.69 670.06 680.43 689.71 695.41 700.40 711.67 716.93 726.50" y="96.10" font-size="17.66" fill="#000">dSST/dx [K km</text>
<rect x="766.00" y="85.1" width="9.30" height="1.0" fill="#000"/>
<text x="777.29" y="89.30" font-size="12.40" textLength="5.16" lengthAdjust="spacingAndGlyphs" fill="#000" >1</text>
<text x="785.18" y="96.10" font-size="17.66" textLength="4.19" lengthAdjust="spacingAndGlyphs" fill="#000" >]</text>
<text transform="scale(1.0358,1)" x="855.28 864.52 874.74 885.27 895.84 901.20 911.57 920.86 926.56 931.54 942.82 948.08 957.64" y="96.10" font-size="17.66" fill="#000">dSST/dy [K km</text>
<rect x="1007.70" y="85.1" width="9.60" height="1.0" fill="#000"/>
<text x="1018.99" y="89.30" font-size="12.40" textLength="5.16" lengthAdjust="spacingAndGlyphs" fill="#000" >1</text>
<text x="1026.57" y="96.10" font-size="17.66" textLength="4.61" lengthAdjust="spacingAndGlyphs" fill="#000" >]</text>
<text transform="scale(1.0262,1)" x="120.59 128.95 137.32 145.64 149.87 158.49 163.97" y="115.00" font-size="14.72" fill="#000">112.5°E</text>
<text transform="scale(1.0350,1)" x="182.19 190.53 198.87 207.18 211.38 219.73 228.33 233.78" y="115.00" font-size="14.72" fill="#000">113.25°E</text>
<text transform="scale(1.0072,1)" x="267.04 275.46 283.89 292.56 298.09" y="115.00" font-size="14.72" fill="#000">114°E</text>
<text transform="scale(1.0262,1)" x="124.48 132.85 141.22 149.54 153.77 162.39 167.87" y="297.00" font-size="14.72" fill="#000">112.5°E</text>
<text transform="scale(1.0350,1)" x="186.05 194.39 202.74 211.04 215.25 223.59 232.19 237.65" y="297.00" font-size="14.72" fill="#000">113.25°E</text>
<text transform="scale(1.0072,1)" x="270.11 278.54 286.97 295.64 301.17" y="297.00" font-size="14.72" fill="#000">114°E</text>
<text transform="scale(1.0262,1)" x="357.36 365.73 374.10 382.42 386.65 395.27 400.75" y="115.00" font-size="14.72" fill="#000">112.5°E</text>
<text transform="scale(1.0350,1)" x="416.55 424.89 433.23 441.54 445.74 454.09 462.69 468.14" y="115.00" font-size="14.72" fill="#000">113.25°E</text>
<text transform="scale(1.0072,1)" x="507.43 515.86 524.28 532.96 538.49" y="115.00" font-size="14.72" fill="#000">114°E</text>
<text transform="scale(1.0262,1)" x="361.24 369.61 377.97 386.30 390.52 399.15 404.62" y="297.00" font-size="14.72" fill="#000">112.5°E</text>
<text transform="scale(1.0350,1)" x="420.39 428.73 437.07 445.38 449.59 457.93 466.53 471.98" y="297.00" font-size="14.72" fill="#000">113.25°E</text>
<text transform="scale(1.0072,1)" x="510.49 518.92 527.34 536.02 541.54" y="297.00" font-size="14.72" fill="#000">114°E</text>
<text transform="scale(1.0262,1)" x="593.18 601.55 609.92 618.24 622.47 631.09 636.57" y="115.00" font-size="14.72" fill="#000">112.5°E</text>
<text transform="scale(1.0350,1)" x="650.78 659.12 667.47 675.77 679.98 688.32 696.92 702.38" y="115.00" font-size="14.72" fill="#000">113.25°E</text>
<text transform="scale(1.0072,1)" x="748.55 756.98 765.40 774.07 779.60" y="115.00" font-size="14.72" fill="#000">114°E</text>
<text transform="scale(1.0262,1)" x="597.08 605.45 613.82 622.14 626.37 634.99 640.47" y="297.00" font-size="14.72" fill="#000">112.5°E</text>
<text transform="scale(1.0350,1)" x="654.65 662.99 671.33 679.64 683.84 692.19 700.79 706.24" y="297.00" font-size="14.72" fill="#000">113.25°E</text>
<text transform="scale(1.0072,1)" x="751.63 760.05 768.48 777.15 782.68" y="297.00" font-size="14.72" fill="#000">114°E</text>
<text transform="scale(1.0262,1)" x="829.97 838.34 846.71 855.03 859.26 867.88 873.36" y="115.00" font-size="14.72" fill="#000">112.5°E</text>
<text transform="scale(1.0350,1)" x="885.56 893.91 902.25 910.55 914.76 923.10 931.70 937.16" y="115.00" font-size="14.72" fill="#000">113.25°E</text>
<text transform="scale(1.0072,1)" x="989.80 998.23 1006.65 1015.33 1020.86" y="115.00" font-size="14.72" fill="#000">114°E</text>
<text transform="scale(1.0262,1)" x="833.87 842.24 850.60 858.93 863.15 871.78 877.25" y="297.00" font-size="14.72" fill="#000">112.5°E</text>
<text transform="scale(1.0350,1)" x="889.43 897.77 906.11 914.42 918.62 926.97 935.57 941.02" y="297.00" font-size="14.72" fill="#000">113.25°E</text>
<text transform="scale(1.0072,1)" x="992.88 1001.31 1009.73 1018.40 1023.93" y="297.00" font-size="14.72" fill="#000">114°E</text>
<text transform="scale(1.0515,1)" x="91.41 99.80 108.15 112.39 121.04 126.56" y="144.30" font-size="14.72" fill="#000">21.6°S</text>
<text transform="scale(1.0515,1)" x="91.41 99.80 108.15 112.39 121.04 126.56" y="164.10" font-size="14.72" fill="#000">21.8°S</text>
<text transform="scale(1.0194,1)" x="108.05 116.53 125.25 130.85" y="183.90" font-size="14.72" fill="#000">22°S</text>
<text transform="scale(1.0515,1)" x="91.41 99.80 108.15 112.39 121.04 126.56" y="203.70" font-size="14.72" fill="#000">22.2°S</text>
<text transform="scale(1.0515,1)" x="91.41 99.80 108.15 112.39 121.04 126.56" y="223.50" font-size="14.72" fill="#000">22.4°S</text>
<text transform="scale(1.0515,1)" x="91.41 99.80 108.15 112.39 121.04 126.56" y="243.30" font-size="14.72" fill="#000">22.6°S</text>
<text transform="scale(1.0515,1)" x="91.41 99.80 108.15 112.39 121.04 126.56" y="263.10" font-size="14.72" fill="#000">22.8°S</text>
<text transform="scale(1.0194,1)" x="108.05 116.53 125.25 130.85" y="282.90" font-size="14.72" fill="#000">23°S</text>
<defs><linearGradient id="gth" x1="0" y1="1" x2="0" y2="0"><stop offset="0.0" stop-color="#042333"/><stop offset="0.1" stop-color="#163264"/><stop offset="0.2" stop-color="#283496"/><stop offset="0.3" stop-color="#563e9e"/><stop offset="0.4" stop-color="#7c4c90"/><stop offset="0.5" stop-color="#a05884"/><stop offset="0.6" stop-color="#c56074"/><stop offset="0.7" stop-color="#e66c5a"/><stop offset="0.8" stop-color="#f88c3e"/><stop offset="0.9" stop-color="#f7ba3e"/><stop offset="1.0" stop-color="#e8f85a"/></linearGradient><linearGradient id="grb" x1="0" y1="1" x2="0" y2="0"><stop offset="0.0" stop-color="#053061"/><stop offset="0.1" stop-color="#2065ab"/><stop offset="0.2" stop-color="#4393c3"/><stop offset="0.3" stop-color="#90c4dd"/><stop offset="0.4" stop-color="#d1e5f0"/><stop offset="0.5" stop-color="#f7f6f6"/><stop offset="0.6" stop-color="#fddbc7"/><stop offset="0.7" stop-color="#f3a481"/><stop offset="0.8" stop-color="#d6604d"/><stop offset="0.9" stop-color="#b1182b"/><stop offset="1.0" stop-color="#67001f"/></linearGradient><linearGradient id="gdf" x1="0" y1="1" x2="0" y2="0"><stop offset="0.0" stop-color="#0a203c"/><stop offset="0.15" stop-color="#1e466e"/><stop offset="0.3" stop-color="#5a82a5"/><stop offset="0.42" stop-color="#b4c8d7"/><stop offset="0.5" stop-color="#f8f8f6"/><stop offset="0.58" stop-color="#dcd2be"/><stop offset="0.7" stop-color="#aa966e"/><stop offset="0.85" stop-color="#6e5f37"/><stop offset="1.0" stop-color="#23230f"/></linearGradient></defs>
<rect x="322.5" y="171.5" width="3" height="62" fill="url(#gth)" stroke="#000" stroke-width="1.1"/>
<line x1="325.5" y1="176.3" x2="330.3" y2="176.3" stroke="#000" stroke-width="1.1"/>
<text transform="scale(1.0292,1)" x="325.80 333.98 342.17 350.36 354.45" y="181.95" font-size="14.72" fill="#000">302.5</text>
<line x1="325.5" y1="202.35" x2="330.3" y2="202.35" stroke="#000" stroke-width="1.1"/>
<text transform="scale(1.0280,1)" x="326.19 334.38 342.56 350.75 354.84" y="208.00" font-size="14.72" fill="#000">300.0</text>
<line x1="325.5" y1="228.4" x2="330.3" y2="228.4" stroke="#000" stroke-width="1.1"/>
<text transform="scale(1.0345,1)" x="323.97 332.16 340.34 348.53 352.62" y="234.05" font-size="14.72" fill="#000">297.5</text>
<rect x="564.5" y="171.5" width="4" height="62" fill="url(#grb)" stroke="#000" stroke-width="1.1"/>
<line x1="568.5" y1="183.3" x2="573.3" y2="183.3" stroke="#000" stroke-width="1.1"/>
<text transform="scale(1.0453,1)" x="552.86 561.04 565.13 573.32" y="188.25" font-size="14.72" fill="#000">0.25</text>
<line x1="568.5" y1="202.3" x2="573.3" y2="202.3" stroke="#000" stroke-width="1.1"/>
<text transform="scale(1.0437,1)" x="553.73 561.91 566.00 574.19" y="207.95" font-size="14.72" fill="#000">0.00</text>
<line x1="568.5" y1="221.3" x2="573.3" y2="221.3" stroke="#000" stroke-width="1.1"/>
<rect x="578.95" y="221.96" width="7.97" height="1.05" fill="#000"/>
<text transform="scale(1.0414,1)" x="565.29 573.48 577.57 585.75" y="226.95" font-size="14.72" fill="#000">0.25</text>
<rect x="807.5" y="171.5" width="3" height="62" fill="url(#gdf)" stroke="#000" stroke-width="1.1"/>
<line x1="810.5" y1="171.5" x2="815.3" y2="171.5" stroke="#000" stroke-width="1.1"/>
<text transform="scale(1.0132,1)" x="810.14 818.33 822.42" y="177.15" font-size="14.72" fill="#000">0.2</text>
<line x1="810.5" y1="202.3" x2="815.3" y2="202.3" stroke="#000" stroke-width="1.1"/>
<text transform="scale(1.0045,1)" x="817.14 825.33 829.42" y="207.95" font-size="14.72" fill="#000">0.0</text>
<line x1="810.5" y1="233.0" x2="815.3" y2="233.0" stroke="#000" stroke-width="1.1"/>
<rect x="821.91" y="233.66" width="7.97" height="1.05" fill="#000"/>
<text transform="scale(1.0021,1)" x="829.52 837.71 841.80" y="238.65" font-size="14.72" fill="#000">0.2</text>
<rect x="1050.5" y="171.5" width="3" height="62" fill="url(#gdf)" stroke="#000" stroke-width="1.1"/>
<line x1="1053.5" y1="171.5" x2="1058.3" y2="171.5" stroke="#000" stroke-width="1.1"/>
<text transform="scale(1.0132,1)" x="1049.59 1057.77 1061.86" y="177.15" font-size="14.72" fill="#000">0.2</text>
<line x1="1053.5" y1="202.3" x2="1058.3" y2="202.3" stroke="#000" stroke-width="1.1"/>
<text transform="scale(1.0045,1)" x="1058.65 1066.84 1070.93" y="207.95" font-size="14.72" fill="#000">0.0</text>
<line x1="1053.5" y1="233.0" x2="1058.3" y2="233.0" stroke="#000" stroke-width="1.1"/>
<rect x="1064.51" y="233.66" width="7.97" height="1.05" fill="#000"/>
<text transform="scale(1.0021,1)" x="1071.62 1079.81 1083.90" y="238.65" font-size="14.72" fill="#000">0.2</text>
</svg></body></html>
